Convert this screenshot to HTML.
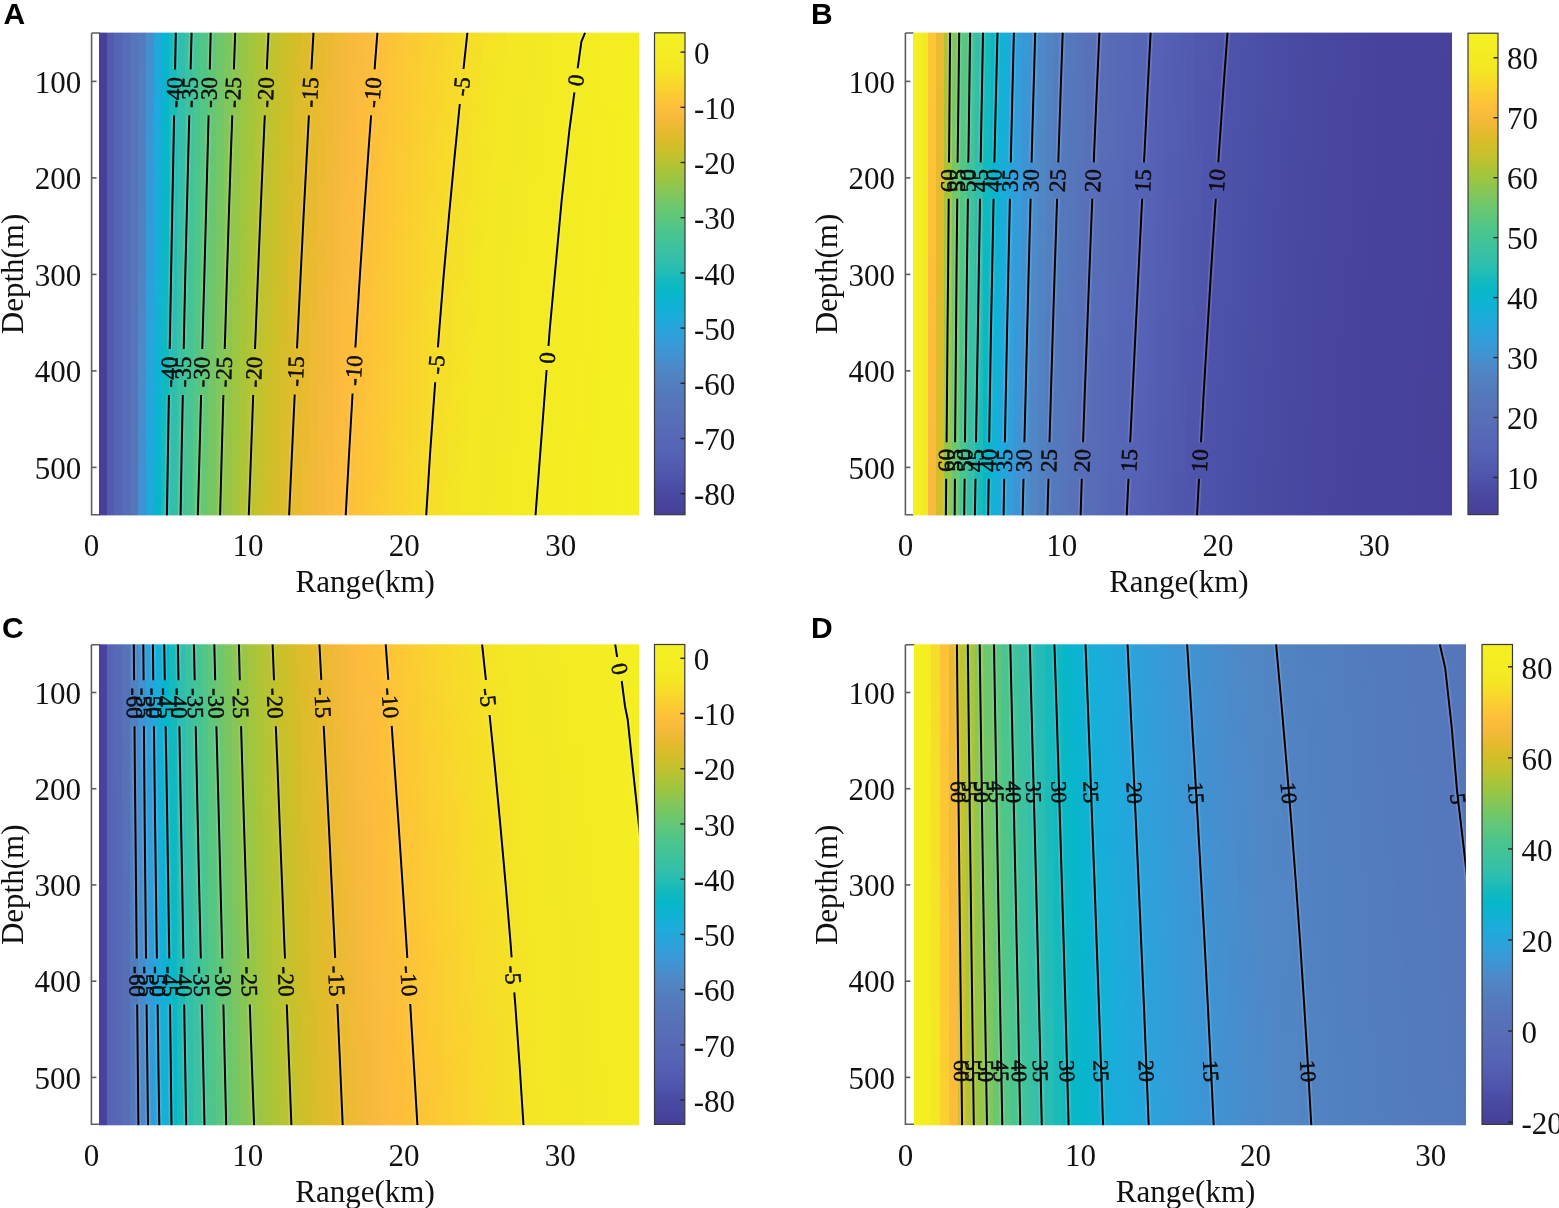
<!DOCTYPE html>
<html><head><meta charset="utf-8"><title>figure</title>
<style>
html,body{margin:0;padding:0;background:#fff;overflow:hidden}
svg{display:block}
text{font-family:"Liberation Serif","Times New Roman",serif;fill:#111}
.tl{font-size:31px}
.pl{font-family:"Liberation Sans",Arial,sans-serif;font-weight:bold;font-size:30px;fill:#000}
</style></head><body>
<svg width="1559" height="1208" viewBox="0 0 1559 1208">
<defs><linearGradient id="g1" x1="0" y1="0" x2="0" y2="1"><stop offset="0" stop-color="#527cbe"/><stop offset="0.167" stop-color="#527ec0"/><stop offset="0.333" stop-color="#5180c1"/><stop offset="0.5" stop-color="#5183c2"/><stop offset="0.667" stop-color="#4f89c8"/><stop offset="0.833" stop-color="#478dcd"/><stop offset="1" stop-color="#3f93d3"/></linearGradient>
<linearGradient id="g2" x1="0" y1="0" x2="0" y2="1"><stop offset="0" stop-color="#498dcc"/><stop offset="0.167" stop-color="#3f93d3"/><stop offset="0.333" stop-color="#3898d7"/><stop offset="0.5" stop-color="#329dd9"/><stop offset="0.667" stop-color="#2da2db"/><stop offset="0.833" stop-color="#24a5dc"/><stop offset="1" stop-color="#20a8dc"/></linearGradient>
<linearGradient id="g3" x1="0" y1="0" x2="0" y2="1"><stop offset="0" stop-color="#23a6dc"/><stop offset="0.167" stop-color="#1fa9dc"/><stop offset="0.333" stop-color="#1bacda"/><stop offset="0.5" stop-color="#16afd8"/><stop offset="0.667" stop-color="#11b2d4"/><stop offset="0.833" stop-color="#0cb4d1"/><stop offset="1" stop-color="#08b5cd"/></linearGradient>
<linearGradient id="g4" x1="0" y1="0" x2="0" y2="1"><stop offset="0" stop-color="#0bb4d0"/><stop offset="0.167" stop-color="#07b6cb"/><stop offset="0.333" stop-color="#08b7c7"/><stop offset="0.5" stop-color="#0cb9c3"/><stop offset="0.667" stop-color="#0fb9c0"/><stop offset="0.833" stop-color="#14babc"/><stop offset="1" stop-color="#19bbba"/></linearGradient>
<linearGradient id="g5" x1="0" y1="0" x2="0" y2="1"><stop offset="0" stop-color="#15bbbc"/><stop offset="0.167" stop-color="#1cbcb9"/><stop offset="0.333" stop-color="#22bcb6"/><stop offset="0.5" stop-color="#28bdb3"/><stop offset="0.667" stop-color="#2cbeb0"/><stop offset="0.833" stop-color="#30bfad"/><stop offset="1" stop-color="#33bfab"/></linearGradient>
<linearGradient id="g6" x1="0" y1="0" x2="0" y2="1"><stop offset="0" stop-color="#2fbeae"/><stop offset="0.167" stop-color="#33bfab"/><stop offset="0.333" stop-color="#36c0a7"/><stop offset="0.5" stop-color="#39c1a4"/><stop offset="0.667" stop-color="#3cc2a1"/><stop offset="0.833" stop-color="#3dc29f"/><stop offset="1" stop-color="#3fc39c"/></linearGradient>
<linearGradient id="g7" x1="0" y1="0" x2="0" y2="1"><stop offset="0" stop-color="#3cc2a1"/><stop offset="0.167" stop-color="#3ec29e"/><stop offset="0.333" stop-color="#41c39a"/><stop offset="0.5" stop-color="#43c497"/><stop offset="0.667" stop-color="#45c494"/><stop offset="0.833" stop-color="#48c591"/><stop offset="1" stop-color="#4ac58d"/></linearGradient>
<linearGradient id="g8" x1="0" y1="0" x2="0" y2="1"><stop offset="0" stop-color="#45c495"/><stop offset="0.167" stop-color="#48c591"/><stop offset="0.333" stop-color="#4bc58d"/><stop offset="0.5" stop-color="#4ec68a"/><stop offset="0.667" stop-color="#52c687"/><stop offset="0.833" stop-color="#55c683"/><stop offset="1" stop-color="#5ac77f"/></linearGradient>
<linearGradient id="g9" x1="0" y1="0" x2="0" y2="1"><stop offset="0" stop-color="#51c688"/><stop offset="0.167" stop-color="#54c684"/><stop offset="0.333" stop-color="#59c780"/><stop offset="0.5" stop-color="#5dc77d"/><stop offset="0.667" stop-color="#61c779"/><stop offset="0.833" stop-color="#65c775"/><stop offset="1" stop-color="#69c770"/></linearGradient>
<linearGradient id="g10" x1="0" y1="0" x2="0" y2="1"><stop offset="0" stop-color="#5fc77a"/><stop offset="0.167" stop-color="#63c776"/><stop offset="0.333" stop-color="#67c773"/><stop offset="0.5" stop-color="#6bc76e"/><stop offset="0.667" stop-color="#70c76a"/><stop offset="0.833" stop-color="#74c766"/><stop offset="1" stop-color="#78c662"/></linearGradient>
<linearGradient id="g11" x1="0" y1="0" x2="0" y2="1"><stop offset="0" stop-color="#6dc76c"/><stop offset="0.167" stop-color="#71c768"/><stop offset="0.333" stop-color="#76c764"/><stop offset="0.5" stop-color="#7bc660"/><stop offset="0.667" stop-color="#80c75c"/><stop offset="0.833" stop-color="#84c759"/><stop offset="1" stop-color="#88c654"/></linearGradient>
<linearGradient id="g12" x1="0" y1="0" x2="0" y2="1"><stop offset="0" stop-color="#7bc660"/><stop offset="0.167" stop-color="#80c75c"/><stop offset="0.333" stop-color="#85c757"/><stop offset="0.5" stop-color="#8ac653"/><stop offset="0.667" stop-color="#8ec74f"/><stop offset="0.833" stop-color="#92c64b"/><stop offset="1" stop-color="#96c647"/></linearGradient>
<linearGradient id="g13" x1="0" y1="0" x2="0" y2="1"><stop offset="0" stop-color="#89c654"/><stop offset="0.167" stop-color="#8ec74f"/><stop offset="0.333" stop-color="#93c64a"/><stop offset="0.5" stop-color="#97c646"/><stop offset="0.667" stop-color="#9cc642"/><stop offset="0.833" stop-color="#a0c63f"/><stop offset="1" stop-color="#a4c53c"/></linearGradient>
<linearGradient id="g14" x1="0" y1="0" x2="0" y2="1"><stop offset="0" stop-color="#95c647"/><stop offset="0.167" stop-color="#9ac643"/><stop offset="0.333" stop-color="#9fc63f"/><stop offset="0.5" stop-color="#a3c53c"/><stop offset="0.667" stop-color="#a8c539"/><stop offset="0.833" stop-color="#acc437"/><stop offset="1" stop-color="#b1c435"/></linearGradient>
<linearGradient id="g15" x1="0" y1="0" x2="0" y2="1"><stop offset="0" stop-color="#a1c53e"/><stop offset="0.167" stop-color="#a5c53a"/><stop offset="0.333" stop-color="#aac538"/><stop offset="0.5" stop-color="#afc435"/><stop offset="0.667" stop-color="#b3c434"/><stop offset="0.833" stop-color="#b8c332"/><stop offset="1" stop-color="#bcc330"/></linearGradient>
<linearGradient id="g16" x1="0" y1="0" x2="0" y2="1"><stop offset="0" stop-color="#acc437"/><stop offset="0.167" stop-color="#b1c435"/><stop offset="0.333" stop-color="#b5c333"/><stop offset="0.5" stop-color="#bac331"/><stop offset="0.667" stop-color="#bec32f"/><stop offset="0.833" stop-color="#c2c22d"/><stop offset="1" stop-color="#c6c12b"/></linearGradient>
<linearGradient id="g17" x1="0" y1="0" x2="0" y2="1"><stop offset="0" stop-color="#b6c332"/><stop offset="0.167" stop-color="#bbc330"/><stop offset="0.333" stop-color="#c0c22e"/><stop offset="0.5" stop-color="#c3c22c"/><stop offset="0.667" stop-color="#c8c12a"/><stop offset="0.833" stop-color="#cbc029"/><stop offset="1" stop-color="#cfbf29"/></linearGradient>
<linearGradient id="g18" x1="0" y1="0" x2="0" y2="1"><stop offset="0" stop-color="#c0c22e"/><stop offset="0.167" stop-color="#c4c12c"/><stop offset="0.333" stop-color="#c8c12a"/><stop offset="0.5" stop-color="#ccc029"/><stop offset="0.667" stop-color="#d0bf29"/><stop offset="0.833" stop-color="#d3be28"/><stop offset="1" stop-color="#d6bd28"/></linearGradient>
<linearGradient id="g19" x1="0" y1="0" x2="0" y2="1"><stop offset="0" stop-color="#c9c02a"/><stop offset="0.167" stop-color="#ccc029"/><stop offset="0.333" stop-color="#d0bf29"/><stop offset="0.5" stop-color="#d3be28"/><stop offset="0.667" stop-color="#d7bd28"/><stop offset="0.833" stop-color="#dabd29"/><stop offset="1" stop-color="#ddbc29"/></linearGradient>
<linearGradient id="g20" x1="0" y1="0" x2="0" y2="1"><stop offset="0" stop-color="#d0bf29"/><stop offset="0.167" stop-color="#d3be28"/><stop offset="0.333" stop-color="#d7bd28"/><stop offset="0.5" stop-color="#dabd29"/><stop offset="0.667" stop-color="#ddbc2a"/><stop offset="0.833" stop-color="#e0bc2a"/><stop offset="1" stop-color="#e3bb2c"/></linearGradient>
<linearGradient id="g21" x1="0" y1="0" x2="0" y2="1"><stop offset="0" stop-color="#d6bd28"/><stop offset="0.167" stop-color="#dabd29"/><stop offset="0.333" stop-color="#ddbc2a"/><stop offset="0.5" stop-color="#e1bb2a"/><stop offset="0.667" stop-color="#e3bb2c"/><stop offset="0.833" stop-color="#e6bb2d"/><stop offset="1" stop-color="#e9ba30"/></linearGradient>
<linearGradient id="g22" x1="0" y1="0" x2="0" y2="1"><stop offset="0" stop-color="#ddbc29"/><stop offset="0.167" stop-color="#e0bc2a"/><stop offset="0.333" stop-color="#e3bb2c"/><stop offset="0.5" stop-color="#e6bb2d"/><stop offset="0.667" stop-color="#e9ba30"/><stop offset="0.833" stop-color="#ebba32"/><stop offset="1" stop-color="#eeba34"/></linearGradient>
<linearGradient id="g23" x1="0" y1="0" x2="0" y2="1"><stop offset="0" stop-color="#e2bb2b"/><stop offset="0.167" stop-color="#e6bb2d"/><stop offset="0.333" stop-color="#e8ba2f"/><stop offset="0.5" stop-color="#ebba31"/><stop offset="0.667" stop-color="#eeba34"/><stop offset="0.833" stop-color="#f0b936"/><stop offset="1" stop-color="#f2b938"/></linearGradient>
<linearGradient id="g24" x1="0" y1="0" x2="0" y2="1"><stop offset="0" stop-color="#e8ba2f"/><stop offset="0.167" stop-color="#eaba31"/><stop offset="0.333" stop-color="#edba33"/><stop offset="0.5" stop-color="#f0b936"/><stop offset="0.667" stop-color="#f2b938"/><stop offset="0.833" stop-color="#f5ba3a"/><stop offset="1" stop-color="#f6b93c"/></linearGradient>
<linearGradient id="g25" x1="0" y1="0" x2="0" y2="1"><stop offset="0" stop-color="#ecba32"/><stop offset="0.167" stop-color="#efb935"/><stop offset="0.333" stop-color="#f1b937"/><stop offset="0.5" stop-color="#f4b93a"/><stop offset="0.667" stop-color="#f6b93c"/><stop offset="0.833" stop-color="#f8ba3d"/><stop offset="1" stop-color="#faba3e"/></linearGradient>
<linearGradient id="g26" x1="0" y1="0" x2="0" y2="1"><stop offset="0" stop-color="#f0b936"/><stop offset="0.167" stop-color="#f3b939"/><stop offset="0.333" stop-color="#f5b93b"/><stop offset="0.5" stop-color="#f8ba3d"/><stop offset="0.667" stop-color="#faba3e"/><stop offset="0.833" stop-color="#fbbb3d"/><stop offset="1" stop-color="#fcbc3d"/></linearGradient>
<linearGradient id="g27" x1="0" y1="0" x2="0" y2="1"><stop offset="0" stop-color="#f4b93a"/><stop offset="0.167" stop-color="#f7b93c"/><stop offset="0.333" stop-color="#f9ba3d"/><stop offset="0.5" stop-color="#fbbb3e"/><stop offset="0.667" stop-color="#fcbc3d"/><stop offset="0.833" stop-color="#fdbd3c"/><stop offset="1" stop-color="#fdbe3b"/></linearGradient>
<linearGradient id="g28" x1="0" y1="0" x2="0" y2="1"><stop offset="0" stop-color="#f8ba3d"/><stop offset="0.167" stop-color="#faba3e"/><stop offset="0.333" stop-color="#fbbb3d"/><stop offset="0.5" stop-color="#fdbc3d"/><stop offset="0.667" stop-color="#fdbe3b"/><stop offset="0.833" stop-color="#fdbf3a"/><stop offset="1" stop-color="#fdc139"/></linearGradient>
<linearGradient id="g29" x1="0" y1="0" x2="0" y2="1"><stop offset="0" stop-color="#fabb3e"/><stop offset="0.167" stop-color="#fcbc3d"/><stop offset="0.333" stop-color="#fdbd3c"/><stop offset="0.5" stop-color="#fdbf3a"/><stop offset="0.667" stop-color="#fdc039"/><stop offset="0.833" stop-color="#fdc238"/><stop offset="1" stop-color="#fdc437"/></linearGradient>
<linearGradient id="g30" x1="0" y1="0" x2="0" y2="1"><stop offset="0" stop-color="#fcbc3d"/><stop offset="0.167" stop-color="#fdbe3b"/><stop offset="0.333" stop-color="#fdbf3a"/><stop offset="0.5" stop-color="#fdc139"/><stop offset="0.667" stop-color="#fdc337"/><stop offset="0.833" stop-color="#fcc536"/><stop offset="1" stop-color="#fcc735"/></linearGradient>
<linearGradient id="g31" x1="0" y1="0" x2="0" y2="1"><stop offset="0" stop-color="#fdbe3b"/><stop offset="0.167" stop-color="#fdc03a"/><stop offset="0.333" stop-color="#fdc238"/><stop offset="0.5" stop-color="#fdc437"/><stop offset="0.667" stop-color="#fcc635"/><stop offset="0.833" stop-color="#fcc834"/><stop offset="1" stop-color="#fcca33"/></linearGradient>
<linearGradient id="g32" x1="0" y1="0" x2="0" y2="1"><stop offset="0" stop-color="#fdc039"/><stop offset="0.167" stop-color="#fdc338"/><stop offset="0.333" stop-color="#fdc536"/><stop offset="0.5" stop-color="#fcc735"/><stop offset="0.667" stop-color="#fcc933"/><stop offset="0.833" stop-color="#fbcb32"/><stop offset="1" stop-color="#fbcd31"/></linearGradient>
<linearGradient id="g33" x1="0" y1="0" x2="0" y2="1"><stop offset="0" stop-color="#fdc337"/><stop offset="0.167" stop-color="#fcc536"/><stop offset="0.333" stop-color="#fcc834"/><stop offset="0.5" stop-color="#fcca33"/><stop offset="0.667" stop-color="#fbcc32"/><stop offset="0.833" stop-color="#fbce31"/><stop offset="1" stop-color="#fad030"/></linearGradient>
<linearGradient id="g34" x1="0" y1="0" x2="0" y2="1"><stop offset="0" stop-color="#fcc636"/><stop offset="0.167" stop-color="#fcc834"/><stop offset="0.333" stop-color="#fccb32"/><stop offset="0.5" stop-color="#fbcd31"/><stop offset="0.667" stop-color="#fbcf30"/><stop offset="0.833" stop-color="#fad12f"/><stop offset="1" stop-color="#f9d32e"/></linearGradient>
<linearGradient id="g35" x1="0" y1="0" x2="0" y2="1"><stop offset="0" stop-color="#fcc934"/><stop offset="0.167" stop-color="#fbcb32"/><stop offset="0.333" stop-color="#fbcd31"/><stop offset="0.5" stop-color="#fad030"/><stop offset="0.667" stop-color="#fad22f"/><stop offset="0.833" stop-color="#f9d42e"/><stop offset="1" stop-color="#f9d62c"/></linearGradient>
<linearGradient id="g36" x1="0" y1="0" x2="0" y2="1"><stop offset="0" stop-color="#fbcb32"/><stop offset="0.167" stop-color="#fbce31"/><stop offset="0.333" stop-color="#fad02f"/><stop offset="0.5" stop-color="#fad32e"/><stop offset="0.667" stop-color="#f9d52d"/><stop offset="0.833" stop-color="#f8d72c"/><stop offset="1" stop-color="#f8d92a"/></linearGradient>
<linearGradient id="g37" x1="0" y1="0" x2="0" y2="1"><stop offset="0" stop-color="#fbce31"/><stop offset="0.167" stop-color="#fad12f"/><stop offset="0.333" stop-color="#f9d32e"/><stop offset="0.5" stop-color="#f9d62d"/><stop offset="0.667" stop-color="#f8d82b"/><stop offset="0.833" stop-color="#f8da2a"/><stop offset="1" stop-color="#f7dc29"/></linearGradient>
<linearGradient id="g38" x1="0" y1="0" x2="0" y2="1"><stop offset="0" stop-color="#fad12f"/><stop offset="0.167" stop-color="#f9d32e"/><stop offset="0.333" stop-color="#f9d62c"/><stop offset="0.5" stop-color="#f8d92b"/><stop offset="0.667" stop-color="#f7db29"/><stop offset="0.833" stop-color="#f6dd29"/><stop offset="1" stop-color="#f6de28"/></linearGradient>
<linearGradient id="g39" x1="0" y1="0" x2="0" y2="1"><stop offset="0" stop-color="#f9d32e"/><stop offset="0.167" stop-color="#f9d62c"/><stop offset="0.333" stop-color="#f8d92b"/><stop offset="0.5" stop-color="#f7db29"/><stop offset="0.667" stop-color="#f6dd29"/><stop offset="0.833" stop-color="#f6df27"/><stop offset="1" stop-color="#f5e027"/></linearGradient>
<linearGradient id="g40" x1="0" y1="0" x2="0" y2="1"><stop offset="0" stop-color="#f9d62c"/><stop offset="0.167" stop-color="#f8d92b"/><stop offset="0.333" stop-color="#f7db29"/><stop offset="0.5" stop-color="#f6de28"/><stop offset="0.667" stop-color="#f5df27"/><stop offset="0.833" stop-color="#f5e126"/><stop offset="1" stop-color="#f5e325"/></linearGradient>
<linearGradient id="g41" x1="0" y1="0" x2="0" y2="1"><stop offset="0" stop-color="#f8d92b"/><stop offset="0.167" stop-color="#f7db29"/><stop offset="0.333" stop-color="#f6de28"/><stop offset="0.5" stop-color="#f5e027"/><stop offset="0.667" stop-color="#f5e226"/><stop offset="0.833" stop-color="#f4e325"/><stop offset="1" stop-color="#f4e524"/></linearGradient>
<linearGradient id="g42" x1="0" y1="0" x2="0" y2="1"><stop offset="0" stop-color="#f7db29"/><stop offset="0.167" stop-color="#f6de28"/><stop offset="0.333" stop-color="#f5e027"/><stop offset="0.5" stop-color="#f5e226"/><stop offset="0.667" stop-color="#f4e425"/><stop offset="0.833" stop-color="#f4e524"/><stop offset="1" stop-color="#f4e723"/></linearGradient>
<linearGradient id="g43" x1="0" y1="0" x2="0" y2="1"><stop offset="0" stop-color="#f6dd28"/><stop offset="0.167" stop-color="#f5e027"/><stop offset="0.333" stop-color="#f5e226"/><stop offset="0.5" stop-color="#f4e425"/><stop offset="0.667" stop-color="#f4e623"/><stop offset="0.833" stop-color="#f4e723"/><stop offset="1" stop-color="#f4e823"/></linearGradient>
<linearGradient id="g44" x1="0" y1="0" x2="0" y2="1"><stop offset="0" stop-color="#f5df27"/><stop offset="0.167" stop-color="#f5e226"/><stop offset="0.333" stop-color="#f4e425"/><stop offset="0.5" stop-color="#f4e623"/><stop offset="0.667" stop-color="#f4e723"/><stop offset="0.833" stop-color="#f4e823"/><stop offset="1" stop-color="#f3e923"/></linearGradient>
<linearGradient id="g45" x1="0" y1="0" x2="0" y2="1"><stop offset="0" stop-color="#f5e226"/><stop offset="0.167" stop-color="#f4e425"/><stop offset="0.333" stop-color="#f4e623"/><stop offset="0.5" stop-color="#f4e723"/><stop offset="0.667" stop-color="#f3e823"/><stop offset="0.833" stop-color="#f3e923"/><stop offset="1" stop-color="#f3e923"/></linearGradient>
<linearGradient id="g46" x1="0" y1="0" x2="0" y2="1"><stop offset="0" stop-color="#f4e425"/><stop offset="0.167" stop-color="#f4e623"/><stop offset="0.333" stop-color="#f4e723"/><stop offset="0.5" stop-color="#f3e823"/><stop offset="0.667" stop-color="#f3e923"/><stop offset="0.833" stop-color="#f3e923"/><stop offset="1" stop-color="#f3ea23"/></linearGradient>
<linearGradient id="g47" x1="0" y1="0" x2="0" y2="1"><stop offset="0" stop-color="#f4e524"/><stop offset="0.167" stop-color="#f4e723"/><stop offset="0.333" stop-color="#f3e923"/><stop offset="0.5" stop-color="#f3e923"/><stop offset="0.667" stop-color="#f3e923"/><stop offset="0.833" stop-color="#f4ea23"/><stop offset="1" stop-color="#f4ea23"/></linearGradient>
<linearGradient id="g48" x1="0" y1="0" x2="0" y2="1"><stop offset="0" stop-color="#f4e723"/><stop offset="0.167" stop-color="#f3e823"/><stop offset="0.333" stop-color="#f3e923"/><stop offset="0.5" stop-color="#f3ea23"/><stop offset="0.667" stop-color="#f4ea23"/><stop offset="0.833" stop-color="#f4ea23"/><stop offset="1" stop-color="#f4eb22"/></linearGradient>
<linearGradient id="g49" x1="0" y1="0" x2="0" y2="1"><stop offset="0" stop-color="#f4e823"/><stop offset="0.167" stop-color="#f3e923"/><stop offset="0.333" stop-color="#f3ea23"/><stop offset="0.5" stop-color="#f4ea23"/><stop offset="0.667" stop-color="#f4ea23"/><stop offset="0.833" stop-color="#f4eb22"/><stop offset="1" stop-color="#f4eb22"/></linearGradient>
<linearGradient id="g50" x1="0" y1="0" x2="0" y2="1"><stop offset="0" stop-color="#f3e923"/><stop offset="0.167" stop-color="#f3e923"/><stop offset="0.333" stop-color="#f4ea23"/><stop offset="0.5" stop-color="#f4eb23"/><stop offset="0.667" stop-color="#f4eb22"/><stop offset="0.833" stop-color="#f4eb22"/><stop offset="1" stop-color="#f4ec22"/></linearGradient>
<linearGradient id="g51" x1="0" y1="0" x2="0" y2="1"><stop offset="0" stop-color="#f3e923"/><stop offset="0.167" stop-color="#f4ea23"/><stop offset="0.333" stop-color="#f4eb23"/><stop offset="0.5" stop-color="#f4eb22"/><stop offset="0.667" stop-color="#f4eb22"/><stop offset="0.833" stop-color="#f4ec22"/><stop offset="1" stop-color="#f4ec22"/></linearGradient>
<linearGradient id="g52" x1="0" y1="0" x2="0" y2="1"><stop offset="0" stop-color="#f3ea23"/><stop offset="0.167" stop-color="#f4ea23"/><stop offset="0.333" stop-color="#f4eb22"/><stop offset="0.5" stop-color="#f4eb22"/><stop offset="0.667" stop-color="#f4ec22"/><stop offset="0.833" stop-color="#f4ec22"/><stop offset="1" stop-color="#f4ec22"/></linearGradient>
<linearGradient id="g53" x1="0" y1="0" x2="0" y2="1"><stop offset="0" stop-color="#f4ea23"/><stop offset="0.167" stop-color="#f4eb22"/><stop offset="0.333" stop-color="#f4eb22"/><stop offset="0.5" stop-color="#f4ec22"/><stop offset="0.667" stop-color="#f4ec22"/><stop offset="0.833" stop-color="#f4ec22"/><stop offset="1" stop-color="#f4ed22"/></linearGradient>
<linearGradient id="g54" x1="0" y1="0" x2="0" y2="1"><stop offset="0" stop-color="#f4eb22"/><stop offset="0.167" stop-color="#f4eb22"/><stop offset="0.333" stop-color="#f4ec22"/><stop offset="0.5" stop-color="#f4ec22"/><stop offset="0.667" stop-color="#f4ec22"/><stop offset="0.833" stop-color="#f4ed22"/><stop offset="1" stop-color="#f4ed22"/></linearGradient>
<linearGradient id="g55" x1="0" y1="0" x2="0" y2="1"><stop offset="0" stop-color="#f4eb22"/><stop offset="0.167" stop-color="#f4ec22"/><stop offset="0.333" stop-color="#f4ec22"/><stop offset="0.5" stop-color="#f4ec22"/><stop offset="0.667" stop-color="#f4ed22"/><stop offset="0.833" stop-color="#f4ed22"/><stop offset="1" stop-color="#f4ed22"/></linearGradient>
<linearGradient id="g56" x1="0" y1="0" x2="0" y2="1"><stop offset="0" stop-color="#f4eb22"/><stop offset="0.167" stop-color="#f4ec22"/><stop offset="0.333" stop-color="#f4ec22"/><stop offset="0.5" stop-color="#f4ed22"/><stop offset="0.667" stop-color="#f4ed22"/><stop offset="0.833" stop-color="#f4ed22"/><stop offset="1" stop-color="#f4ee22"/></linearGradient>
<linearGradient id="g57" x1="0" y1="0" x2="0" y2="1"><stop offset="0" stop-color="#f4ec22"/><stop offset="0.167" stop-color="#f4ec22"/><stop offset="0.333" stop-color="#f4ed22"/><stop offset="0.5" stop-color="#f4ed22"/><stop offset="0.667" stop-color="#f4ed22"/><stop offset="0.833" stop-color="#f4ee21"/><stop offset="1" stop-color="#f4ee21"/></linearGradient>
<linearGradient id="g58" x1="0" y1="0" x2="0" y2="1"><stop offset="0" stop-color="#f4ec22"/><stop offset="0.167" stop-color="#f4ed22"/><stop offset="0.333" stop-color="#f4ed22"/><stop offset="0.5" stop-color="#f4ee22"/><stop offset="0.667" stop-color="#f4ee21"/><stop offset="0.833" stop-color="#f4ee21"/><stop offset="1" stop-color="#f4ee21"/></linearGradient>
<linearGradient id="g59" x1="0" y1="0" x2="0" y2="1"><stop offset="0" stop-color="#f4ec22"/><stop offset="0.167" stop-color="#f4ed22"/><stop offset="0.333" stop-color="#f4ee22"/><stop offset="0.5" stop-color="#f4ee21"/><stop offset="0.667" stop-color="#f4ee21"/><stop offset="0.833" stop-color="#f4ee21"/><stop offset="1" stop-color="#f4ef21"/></linearGradient>
<linearGradient id="g60" x1="0" y1="0" x2="0" y2="1"><stop offset="0" stop-color="#f4ed22"/><stop offset="0.167" stop-color="#f4ed22"/><stop offset="0.333" stop-color="#f4ee21"/><stop offset="0.5" stop-color="#f4ee21"/><stop offset="0.667" stop-color="#f4ee21"/><stop offset="0.833" stop-color="#f4ef21"/><stop offset="1" stop-color="#f4ef21"/></linearGradient>
<linearGradient id="g61" x1="0" y1="0" x2="0" y2="1"><stop offset="0" stop-color="#f4ed22"/><stop offset="0.167" stop-color="#f4ee21"/><stop offset="0.333" stop-color="#f4ee21"/><stop offset="0.5" stop-color="#f4ee21"/><stop offset="0.667" stop-color="#f4ef21"/><stop offset="0.833" stop-color="#f4ef21"/><stop offset="1" stop-color="#f4ef21"/></linearGradient>
<linearGradient id="g62" x1="0" y1="0" x2="0" y2="1"><stop offset="0" stop-color="#f4ee22"/><stop offset="0.167" stop-color="#f4ee21"/><stop offset="0.333" stop-color="#f4ee21"/><stop offset="0.5" stop-color="#f4ef21"/><stop offset="0.667" stop-color="#f4ef21"/><stop offset="0.833" stop-color="#f4ef21"/><stop offset="1" stop-color="#f4f021"/></linearGradient>
<linearGradient id="g63" x1="0" y1="0" x2="0" y2="1"><stop offset="0" stop-color="#f4ee21"/><stop offset="0.167" stop-color="#f4ee21"/><stop offset="0.333" stop-color="#f4ef21"/><stop offset="0.5" stop-color="#f4ef21"/><stop offset="0.667" stop-color="#f4ef21"/><stop offset="0.833" stop-color="#f4f020"/><stop offset="1" stop-color="#f4f020"/></linearGradient>
<linearGradient id="g64" x1="0" y1="0" x2="0" y2="1"><stop offset="0" stop-color="#f4ee21"/><stop offset="0.167" stop-color="#f4ef21"/><stop offset="0.333" stop-color="#f4ef21"/><stop offset="0.5" stop-color="#f4ef21"/><stop offset="0.667" stop-color="#f4f020"/><stop offset="0.833" stop-color="#f4f020"/><stop offset="1" stop-color="#f4f020"/></linearGradient>
<clipPath id="clip65"><rect x="98.75" y="32.60" width="540.05" height="482.80"/></clipPath>
<linearGradient id="cb66" x1="0" y1="0" x2="0" y2="1"><stop offset="0.0000" stop-color="#f4f020"/><stop offset="0.0256" stop-color="#f4ee22"/><stop offset="0.0513" stop-color="#f4eb22"/><stop offset="0.0769" stop-color="#f4e623"/><stop offset="0.1026" stop-color="#f8da2a"/><stop offset="0.1282" stop-color="#fbcb32"/><stop offset="0.1538" stop-color="#fdbf3a"/><stop offset="0.1795" stop-color="#f5b93a"/><stop offset="0.2051" stop-color="#e6ba2e"/><stop offset="0.2308" stop-color="#d5be28"/><stop offset="0.2564" stop-color="#c3c22d"/><stop offset="0.2821" stop-color="#adc436"/><stop offset="0.3077" stop-color="#98c645"/><stop offset="0.3333" stop-color="#83c65a"/><stop offset="0.3590" stop-color="#6ec76c"/><stop offset="0.3846" stop-color="#5cc77d"/><stop offset="0.4103" stop-color="#4bc58d"/><stop offset="0.4359" stop-color="#41c39a"/><stop offset="0.4615" stop-color="#37c0a6"/><stop offset="0.4872" stop-color="#29beb2"/><stop offset="0.5128" stop-color="#13babd"/><stop offset="0.5385" stop-color="#07b7c9"/><stop offset="0.5641" stop-color="#0fb2d3"/><stop offset="0.5897" stop-color="#1cacdb"/><stop offset="0.6154" stop-color="#27a4db"/><stop offset="0.6410" stop-color="#359cd9"/><stop offset="0.6667" stop-color="#4093d3"/><stop offset="0.6923" stop-color="#4d89c9"/><stop offset="0.7179" stop-color="#5281c1"/><stop offset="0.7436" stop-color="#537abd"/><stop offset="0.7692" stop-color="#5774ba"/><stop offset="0.7949" stop-color="#5770b8"/><stop offset="0.8205" stop-color="#576bb7"/><stop offset="0.8462" stop-color="#5666b6"/><stop offset="0.8718" stop-color="#5562b5"/><stop offset="0.8974" stop-color="#525bb0"/><stop offset="0.9231" stop-color="#4e54ab"/><stop offset="0.9487" stop-color="#4a4ba4"/><stop offset="0.9744" stop-color="#48459e"/><stop offset="1.0000" stop-color="#473f99"/></linearGradient>
<linearGradient id="g67" x1="0" y1="0" x2="0" y2="1"><stop offset="0" stop-color="#fcc834"/><stop offset="0.167" stop-color="#fdc536"/><stop offset="0.333" stop-color="#fdc238"/><stop offset="0.5" stop-color="#fdbf3a"/><stop offset="0.667" stop-color="#fdbd3c"/><stop offset="0.833" stop-color="#fbbb3d"/><stop offset="1" stop-color="#f8ba3d"/></linearGradient>
<linearGradient id="g68" x1="0" y1="0" x2="0" y2="1"><stop offset="0" stop-color="#ecba32"/><stop offset="0.167" stop-color="#e9ba30"/><stop offset="0.333" stop-color="#e6bb2d"/><stop offset="0.5" stop-color="#e2bb2b"/><stop offset="0.667" stop-color="#debc2a"/><stop offset="0.833" stop-color="#d9bd29"/><stop offset="1" stop-color="#d3be28"/></linearGradient>
<linearGradient id="g69" x1="0" y1="0" x2="0" y2="1"><stop offset="0" stop-color="#b2c435"/><stop offset="0.167" stop-color="#abc437"/><stop offset="0.333" stop-color="#a5c53b"/><stop offset="0.5" stop-color="#9fc63f"/><stop offset="0.667" stop-color="#9ac643"/><stop offset="0.833" stop-color="#95c648"/><stop offset="1" stop-color="#90c74c"/></linearGradient>
<linearGradient id="g70" x1="0" y1="0" x2="0" y2="1"><stop offset="0" stop-color="#7cc75f"/><stop offset="0.167" stop-color="#77c663"/><stop offset="0.333" stop-color="#73c767"/><stop offset="0.5" stop-color="#6fc76a"/><stop offset="0.667" stop-color="#6cc76e"/><stop offset="0.833" stop-color="#69c771"/><stop offset="1" stop-color="#66c774"/></linearGradient>
<linearGradient id="g71" x1="0" y1="0" x2="0" y2="1"><stop offset="0" stop-color="#59c780"/><stop offset="0.167" stop-color="#55c684"/><stop offset="0.333" stop-color="#51c687"/><stop offset="0.5" stop-color="#4ec68a"/><stop offset="0.667" stop-color="#4bc58d"/><stop offset="0.833" stop-color="#49c58f"/><stop offset="1" stop-color="#46c592"/></linearGradient>
<linearGradient id="g72" x1="0" y1="0" x2="0" y2="1"><stop offset="0" stop-color="#42c498"/><stop offset="0.167" stop-color="#40c39b"/><stop offset="0.333" stop-color="#3ec29e"/><stop offset="0.5" stop-color="#3cc2a1"/><stop offset="0.667" stop-color="#3ac1a4"/><stop offset="0.833" stop-color="#38c0a6"/><stop offset="1" stop-color="#35c0a9"/></linearGradient>
<linearGradient id="g73" x1="0" y1="0" x2="0" y2="1"><stop offset="0" stop-color="#34bfaa"/><stop offset="0.167" stop-color="#31bfad"/><stop offset="0.333" stop-color="#2dbeaf"/><stop offset="0.5" stop-color="#28bdb2"/><stop offset="0.667" stop-color="#22bcb5"/><stop offset="0.833" stop-color="#1dbcb8"/><stop offset="1" stop-color="#17bbbb"/></linearGradient>
<linearGradient id="g74" x1="0" y1="0" x2="0" y2="1"><stop offset="0" stop-color="#19bbba"/><stop offset="0.167" stop-color="#14babd"/><stop offset="0.333" stop-color="#0fb9c0"/><stop offset="0.5" stop-color="#0bb9c3"/><stop offset="0.667" stop-color="#08b8c6"/><stop offset="0.833" stop-color="#07b7c9"/><stop offset="1" stop-color="#07b6cb"/></linearGradient>
<linearGradient id="g75" x1="0" y1="0" x2="0" y2="1"><stop offset="0" stop-color="#07b7c9"/><stop offset="0.167" stop-color="#08b6cc"/><stop offset="0.333" stop-color="#0ab5cf"/><stop offset="0.5" stop-color="#0eb3d2"/><stop offset="0.667" stop-color="#11b2d4"/><stop offset="0.833" stop-color="#13b1d6"/><stop offset="1" stop-color="#16afd8"/></linearGradient>
<linearGradient id="g76" x1="0" y1="0" x2="0" y2="1"><stop offset="0" stop-color="#12b1d5"/><stop offset="0.167" stop-color="#16afd8"/><stop offset="0.333" stop-color="#19add9"/><stop offset="0.5" stop-color="#1cabdb"/><stop offset="0.667" stop-color="#1faadb"/><stop offset="0.833" stop-color="#20a8dc"/><stop offset="1" stop-color="#22a7dc"/></linearGradient>
<linearGradient id="g77" x1="0" y1="0" x2="0" y2="1"><stop offset="0" stop-color="#1fa9dc"/><stop offset="0.167" stop-color="#21a7dc"/><stop offset="0.333" stop-color="#25a5dc"/><stop offset="0.5" stop-color="#2aa3db"/><stop offset="0.667" stop-color="#2ea1db"/><stop offset="0.833" stop-color="#309fda"/><stop offset="1" stop-color="#339dd9"/></linearGradient>
<linearGradient id="g78" x1="0" y1="0" x2="0" y2="1"><stop offset="0" stop-color="#2ea0da"/><stop offset="0.167" stop-color="#319eda"/><stop offset="0.333" stop-color="#349cd9"/><stop offset="0.5" stop-color="#369ad8"/><stop offset="0.667" stop-color="#3998d6"/><stop offset="0.833" stop-color="#3b96d5"/><stop offset="1" stop-color="#3d94d4"/></linearGradient>
<linearGradient id="g79" x1="0" y1="0" x2="0" y2="1"><stop offset="0" stop-color="#3898d7"/><stop offset="0.167" stop-color="#3b96d5"/><stop offset="0.333" stop-color="#3d94d4"/><stop offset="0.5" stop-color="#4093d2"/><stop offset="0.667" stop-color="#4390d0"/><stop offset="0.833" stop-color="#478ece"/><stop offset="1" stop-color="#4a8ccc"/></linearGradient>
<linearGradient id="g80" x1="0" y1="0" x2="0" y2="1"><stop offset="0" stop-color="#4291d0"/><stop offset="0.167" stop-color="#468fcf"/><stop offset="0.333" stop-color="#498dcc"/><stop offset="0.5" stop-color="#4b8aca"/><stop offset="0.667" stop-color="#4e89c8"/><stop offset="0.833" stop-color="#5086c5"/><stop offset="1" stop-color="#5185c4"/></linearGradient>
<linearGradient id="g81" x1="0" y1="0" x2="0" y2="1"><stop offset="0" stop-color="#4b89c9"/><stop offset="0.167" stop-color="#4f88c7"/><stop offset="0.333" stop-color="#5086c4"/><stop offset="0.5" stop-color="#5184c3"/><stop offset="0.667" stop-color="#5182c2"/><stop offset="0.833" stop-color="#5281c1"/><stop offset="1" stop-color="#5180c0"/></linearGradient>
<linearGradient id="g82" x1="0" y1="0" x2="0" y2="1"><stop offset="0" stop-color="#5184c3"/><stop offset="0.167" stop-color="#5182c2"/><stop offset="0.333" stop-color="#5181c1"/><stop offset="0.5" stop-color="#517fc0"/><stop offset="0.667" stop-color="#527dbf"/><stop offset="0.833" stop-color="#527cbe"/><stop offset="1" stop-color="#537abd"/></linearGradient>
<linearGradient id="g83" x1="0" y1="0" x2="0" y2="1"><stop offset="0" stop-color="#517fc0"/><stop offset="0.167" stop-color="#527dbf"/><stop offset="0.333" stop-color="#527cbe"/><stop offset="0.5" stop-color="#537abc"/><stop offset="0.667" stop-color="#5479bc"/><stop offset="0.833" stop-color="#5577bb"/><stop offset="1" stop-color="#5577bb"/></linearGradient>
<linearGradient id="g84" x1="0" y1="0" x2="0" y2="1"><stop offset="0" stop-color="#537abd"/><stop offset="0.167" stop-color="#5379bc"/><stop offset="0.333" stop-color="#5578bb"/><stop offset="0.5" stop-color="#5577bb"/><stop offset="0.667" stop-color="#5676bb"/><stop offset="0.833" stop-color="#5675bb"/><stop offset="1" stop-color="#5774ba"/></linearGradient>
<linearGradient id="g85" x1="0" y1="0" x2="0" y2="1"><stop offset="0" stop-color="#5577bb"/><stop offset="0.167" stop-color="#5676bb"/><stop offset="0.333" stop-color="#5675bb"/><stop offset="0.5" stop-color="#5774ba"/><stop offset="0.667" stop-color="#5874ba"/><stop offset="0.833" stop-color="#5772ba"/><stop offset="1" stop-color="#5772b9"/></linearGradient>
<linearGradient id="g86" x1="0" y1="0" x2="0" y2="1"><stop offset="0" stop-color="#5774ba"/><stop offset="0.167" stop-color="#5874ba"/><stop offset="0.333" stop-color="#5772ba"/><stop offset="0.5" stop-color="#5772b9"/><stop offset="0.667" stop-color="#5771b9"/><stop offset="0.833" stop-color="#5770b8"/><stop offset="1" stop-color="#576fb9"/></linearGradient>
<linearGradient id="g87" x1="0" y1="0" x2="0" y2="1"><stop offset="0" stop-color="#5772ba"/><stop offset="0.167" stop-color="#5771b9"/><stop offset="0.333" stop-color="#5870b9"/><stop offset="0.5" stop-color="#576fb8"/><stop offset="0.667" stop-color="#576eb9"/><stop offset="0.833" stop-color="#586db8"/><stop offset="1" stop-color="#576db8"/></linearGradient>
<linearGradient id="g88" x1="0" y1="0" x2="0" y2="1"><stop offset="0" stop-color="#5870b8"/><stop offset="0.167" stop-color="#576fb9"/><stop offset="0.333" stop-color="#586eb8"/><stop offset="0.5" stop-color="#576db8"/><stop offset="0.667" stop-color="#576cb8"/><stop offset="0.833" stop-color="#576cb8"/><stop offset="1" stop-color="#576bb7"/></linearGradient>
<linearGradient id="g89" x1="0" y1="0" x2="0" y2="1"><stop offset="0" stop-color="#586eb8"/><stop offset="0.167" stop-color="#576db8"/><stop offset="0.333" stop-color="#576cb8"/><stop offset="0.5" stop-color="#576cb7"/><stop offset="0.667" stop-color="#576ab7"/><stop offset="0.833" stop-color="#566ab7"/><stop offset="1" stop-color="#5668b7"/></linearGradient>
<linearGradient id="g90" x1="0" y1="0" x2="0" y2="1"><stop offset="0" stop-color="#576cb8"/><stop offset="0.167" stop-color="#576bb7"/><stop offset="0.333" stop-color="#576ab7"/><stop offset="0.5" stop-color="#5669b7"/><stop offset="0.667" stop-color="#5768b7"/><stop offset="0.833" stop-color="#5667b6"/><stop offset="1" stop-color="#5666b6"/></linearGradient>
<linearGradient id="g91" x1="0" y1="0" x2="0" y2="1"><stop offset="0" stop-color="#576ab7"/><stop offset="0.167" stop-color="#5669b7"/><stop offset="0.333" stop-color="#5768b7"/><stop offset="0.5" stop-color="#5667b6"/><stop offset="0.667" stop-color="#5666b6"/><stop offset="0.833" stop-color="#5665b6"/><stop offset="1" stop-color="#5665b6"/></linearGradient>
<linearGradient id="g92" x1="0" y1="0" x2="0" y2="1"><stop offset="0" stop-color="#5768b7"/><stop offset="0.167" stop-color="#5667b6"/><stop offset="0.333" stop-color="#5666b6"/><stop offset="0.5" stop-color="#5665b6"/><stop offset="0.667" stop-color="#5665b6"/><stop offset="0.833" stop-color="#5665b6"/><stop offset="1" stop-color="#5563b5"/></linearGradient>
<linearGradient id="g93" x1="0" y1="0" x2="0" y2="1"><stop offset="0" stop-color="#5666b6"/><stop offset="0.167" stop-color="#5665b6"/><stop offset="0.333" stop-color="#5665b6"/><stop offset="0.5" stop-color="#5565b6"/><stop offset="0.667" stop-color="#5563b5"/><stop offset="0.833" stop-color="#5562b5"/><stop offset="1" stop-color="#5562b5"/></linearGradient>
<linearGradient id="g94" x1="0" y1="0" x2="0" y2="1"><stop offset="0" stop-color="#5665b6"/><stop offset="0.167" stop-color="#5665b6"/><stop offset="0.333" stop-color="#5563b5"/><stop offset="0.5" stop-color="#5562b5"/><stop offset="0.667" stop-color="#5562b5"/><stop offset="0.833" stop-color="#5461b4"/><stop offset="1" stop-color="#5460b4"/></linearGradient>
<linearGradient id="g95" x1="0" y1="0" x2="0" y2="1"><stop offset="0" stop-color="#5563b5"/><stop offset="0.167" stop-color="#5562b5"/><stop offset="0.333" stop-color="#5562b5"/><stop offset="0.5" stop-color="#5461b4"/><stop offset="0.667" stop-color="#5460b4"/><stop offset="0.833" stop-color="#545fb3"/><stop offset="1" stop-color="#535eb2"/></linearGradient>
<linearGradient id="g96" x1="0" y1="0" x2="0" y2="1"><stop offset="0" stop-color="#5562b5"/><stop offset="0.167" stop-color="#5461b4"/><stop offset="0.333" stop-color="#5460b4"/><stop offset="0.5" stop-color="#545fb3"/><stop offset="0.667" stop-color="#535eb2"/><stop offset="0.833" stop-color="#525db2"/><stop offset="1" stop-color="#525cb1"/></linearGradient>
<linearGradient id="g97" x1="0" y1="0" x2="0" y2="1"><stop offset="0" stop-color="#5460b4"/><stop offset="0.167" stop-color="#545fb3"/><stop offset="0.333" stop-color="#535eb2"/><stop offset="0.5" stop-color="#535db2"/><stop offset="0.667" stop-color="#525cb1"/><stop offset="0.833" stop-color="#525bb0"/><stop offset="1" stop-color="#5259af"/></linearGradient>
<linearGradient id="g98" x1="0" y1="0" x2="0" y2="1"><stop offset="0" stop-color="#535fb3"/><stop offset="0.167" stop-color="#535db2"/><stop offset="0.333" stop-color="#525cb1"/><stop offset="0.5" stop-color="#525bb0"/><stop offset="0.667" stop-color="#525aaf"/><stop offset="0.833" stop-color="#5159af"/><stop offset="1" stop-color="#5058ae"/></linearGradient>
<linearGradient id="g99" x1="0" y1="0" x2="0" y2="1"><stop offset="0" stop-color="#525db2"/><stop offset="0.167" stop-color="#525cb1"/><stop offset="0.333" stop-color="#525ab0"/><stop offset="0.5" stop-color="#5159af"/><stop offset="0.667" stop-color="#5058ae"/><stop offset="0.833" stop-color="#5057ad"/><stop offset="1" stop-color="#5056ad"/></linearGradient>
<linearGradient id="g100" x1="0" y1="0" x2="0" y2="1"><stop offset="0" stop-color="#525bb0"/><stop offset="0.167" stop-color="#5259af"/><stop offset="0.333" stop-color="#5159ae"/><stop offset="0.5" stop-color="#5058ad"/><stop offset="0.667" stop-color="#5056ad"/><stop offset="0.833" stop-color="#4f55ac"/><stop offset="1" stop-color="#4f55ac"/></linearGradient>
<linearGradient id="g101" x1="0" y1="0" x2="0" y2="1"><stop offset="0" stop-color="#5159af"/><stop offset="0.167" stop-color="#5058ae"/><stop offset="0.333" stop-color="#5057ad"/><stop offset="0.5" stop-color="#4f56ad"/><stop offset="0.667" stop-color="#4f55ac"/><stop offset="0.833" stop-color="#4e55ab"/><stop offset="1" stop-color="#4e53aa"/></linearGradient>
<linearGradient id="g102" x1="0" y1="0" x2="0" y2="1"><stop offset="0" stop-color="#5058ad"/><stop offset="0.167" stop-color="#5056ad"/><stop offset="0.333" stop-color="#4f55ac"/><stop offset="0.5" stop-color="#4e55ab"/><stop offset="0.667" stop-color="#4e54ab"/><stop offset="0.833" stop-color="#4e52aa"/><stop offset="1" stop-color="#4d52aa"/></linearGradient>
<linearGradient id="g103" x1="0" y1="0" x2="0" y2="1"><stop offset="0" stop-color="#5056ad"/><stop offset="0.167" stop-color="#4f55ac"/><stop offset="0.333" stop-color="#4e54ab"/><stop offset="0.5" stop-color="#4e53aa"/><stop offset="0.667" stop-color="#4d52aa"/><stop offset="0.833" stop-color="#4d51aa"/><stop offset="1" stop-color="#4c51a9"/></linearGradient>
<linearGradient id="g104" x1="0" y1="0" x2="0" y2="1"><stop offset="0" stop-color="#4e55ab"/><stop offset="0.167" stop-color="#4e54ab"/><stop offset="0.333" stop-color="#4e52aa"/><stop offset="0.5" stop-color="#4d52aa"/><stop offset="0.667" stop-color="#4c51a9"/><stop offset="0.833" stop-color="#4c50a9"/><stop offset="1" stop-color="#4c50a8"/></linearGradient>
<linearGradient id="g105" x1="0" y1="0" x2="0" y2="1"><stop offset="0" stop-color="#4e53aa"/><stop offset="0.167" stop-color="#4d52aa"/><stop offset="0.333" stop-color="#4d51aa"/><stop offset="0.5" stop-color="#4c51a9"/><stop offset="0.667" stop-color="#4c50a8"/><stop offset="0.833" stop-color="#4c50a8"/><stop offset="1" stop-color="#4b4fa7"/></linearGradient>
<linearGradient id="g106" x1="0" y1="0" x2="0" y2="1"><stop offset="0" stop-color="#4d52aa"/><stop offset="0.167" stop-color="#4c51a9"/><stop offset="0.333" stop-color="#4c50a9"/><stop offset="0.5" stop-color="#4c50a8"/><stop offset="0.667" stop-color="#4c4fa7"/><stop offset="0.833" stop-color="#4b4ea7"/><stop offset="1" stop-color="#4b4ea6"/></linearGradient>
<linearGradient id="g107" x1="0" y1="0" x2="0" y2="1"><stop offset="0" stop-color="#4c51a9"/><stop offset="0.167" stop-color="#4c50a8"/><stop offset="0.333" stop-color="#4c50a7"/><stop offset="0.5" stop-color="#4b4fa7"/><stop offset="0.667" stop-color="#4b4ea6"/><stop offset="0.833" stop-color="#4a4da6"/><stop offset="1" stop-color="#4a4da5"/></linearGradient>
<linearGradient id="g108" x1="0" y1="0" x2="0" y2="1"><stop offset="0" stop-color="#4c50a8"/><stop offset="0.167" stop-color="#4c50a7"/><stop offset="0.333" stop-color="#4b4ea7"/><stop offset="0.5" stop-color="#4a4ea6"/><stop offset="0.667" stop-color="#4a4da5"/><stop offset="0.833" stop-color="#4a4ca5"/><stop offset="1" stop-color="#4a4ba4"/></linearGradient>
<linearGradient id="g109" x1="0" y1="0" x2="0" y2="1"><stop offset="0" stop-color="#4b4fa7"/><stop offset="0.167" stop-color="#4b4ea6"/><stop offset="0.333" stop-color="#4a4da6"/><stop offset="0.5" stop-color="#4a4da5"/><stop offset="0.667" stop-color="#4a4ca4"/><stop offset="0.833" stop-color="#4a4ba4"/><stop offset="1" stop-color="#494ba3"/></linearGradient>
<linearGradient id="g110" x1="0" y1="0" x2="0" y2="1"><stop offset="0" stop-color="#4b4ea6"/><stop offset="0.167" stop-color="#4a4da5"/><stop offset="0.333" stop-color="#4a4ca5"/><stop offset="0.5" stop-color="#4a4ba4"/><stop offset="0.667" stop-color="#494ba4"/><stop offset="0.833" stop-color="#494aa3"/><stop offset="1" stop-color="#494aa3"/></linearGradient>
<linearGradient id="g111" x1="0" y1="0" x2="0" y2="1"><stop offset="0" stop-color="#4a4da5"/><stop offset="0.167" stop-color="#4a4ca4"/><stop offset="0.333" stop-color="#4a4ba4"/><stop offset="0.5" stop-color="#494aa3"/><stop offset="0.667" stop-color="#494aa3"/><stop offset="0.833" stop-color="#494aa2"/><stop offset="1" stop-color="#4949a2"/></linearGradient>
<linearGradient id="g112" x1="0" y1="0" x2="0" y2="1"><stop offset="0" stop-color="#4a4ba4"/><stop offset="0.167" stop-color="#494ba4"/><stop offset="0.333" stop-color="#494aa3"/><stop offset="0.5" stop-color="#494aa3"/><stop offset="0.667" stop-color="#4949a2"/><stop offset="0.833" stop-color="#4949a2"/><stop offset="1" stop-color="#4949a1"/></linearGradient>
<linearGradient id="g113" x1="0" y1="0" x2="0" y2="1"><stop offset="0" stop-color="#494ba3"/><stop offset="0.167" stop-color="#494aa3"/><stop offset="0.333" stop-color="#4949a2"/><stop offset="0.5" stop-color="#4949a2"/><stop offset="0.667" stop-color="#4949a1"/><stop offset="0.833" stop-color="#4948a1"/><stop offset="1" stop-color="#4948a1"/></linearGradient>
<linearGradient id="g114" x1="0" y1="0" x2="0" y2="1"><stop offset="0" stop-color="#494aa3"/><stop offset="0.167" stop-color="#4949a2"/><stop offset="0.333" stop-color="#4949a1"/><stop offset="0.5" stop-color="#4948a1"/><stop offset="0.667" stop-color="#4948a1"/><stop offset="0.833" stop-color="#4848a1"/><stop offset="1" stop-color="#4847a1"/></linearGradient>
<linearGradient id="g115" x1="0" y1="0" x2="0" y2="1"><stop offset="0" stop-color="#4949a2"/><stop offset="0.167" stop-color="#4949a1"/><stop offset="0.333" stop-color="#4948a1"/><stop offset="0.5" stop-color="#4848a1"/><stop offset="0.667" stop-color="#4847a1"/><stop offset="0.833" stop-color="#4847a0"/><stop offset="1" stop-color="#4846a0"/></linearGradient>
<linearGradient id="g116" x1="0" y1="0" x2="0" y2="1"><stop offset="0" stop-color="#4948a1"/><stop offset="0.167" stop-color="#4948a1"/><stop offset="0.333" stop-color="#4847a1"/><stop offset="0.5" stop-color="#4847a0"/><stop offset="0.667" stop-color="#4846a0"/><stop offset="0.833" stop-color="#4846a0"/><stop offset="1" stop-color="#48459f"/></linearGradient>
<linearGradient id="g117" x1="0" y1="0" x2="0" y2="1"><stop offset="0" stop-color="#4948a1"/><stop offset="0.167" stop-color="#4847a1"/><stop offset="0.333" stop-color="#4847a0"/><stop offset="0.5" stop-color="#4846a0"/><stop offset="0.667" stop-color="#48459f"/><stop offset="0.833" stop-color="#48459f"/><stop offset="1" stop-color="#48459f"/></linearGradient>
<linearGradient id="g118" x1="0" y1="0" x2="0" y2="1"><stop offset="0" stop-color="#4847a1"/><stop offset="0.167" stop-color="#4846a0"/><stop offset="0.333" stop-color="#4845a0"/><stop offset="0.5" stop-color="#48459f"/><stop offset="0.667" stop-color="#48459f"/><stop offset="0.833" stop-color="#48459e"/><stop offset="1" stop-color="#48459e"/></linearGradient>
<linearGradient id="g119" x1="0" y1="0" x2="0" y2="1"><stop offset="0" stop-color="#4846a0"/><stop offset="0.167" stop-color="#48459f"/><stop offset="0.333" stop-color="#48459f"/><stop offset="0.5" stop-color="#48459e"/><stop offset="0.667" stop-color="#48459e"/><stop offset="0.833" stop-color="#48459e"/><stop offset="1" stop-color="#48449e"/></linearGradient>
<linearGradient id="g120" x1="0" y1="0" x2="0" y2="1"><stop offset="0" stop-color="#48459f"/><stop offset="0.167" stop-color="#48459f"/><stop offset="0.333" stop-color="#48459e"/><stop offset="0.5" stop-color="#48459e"/><stop offset="0.667" stop-color="#48449e"/><stop offset="0.833" stop-color="#48449e"/><stop offset="1" stop-color="#48449e"/></linearGradient>
<linearGradient id="g121" x1="0" y1="0" x2="0" y2="1"><stop offset="0" stop-color="#48459f"/><stop offset="0.167" stop-color="#48459e"/><stop offset="0.333" stop-color="#48459e"/><stop offset="0.5" stop-color="#48449e"/><stop offset="0.667" stop-color="#48449e"/><stop offset="0.833" stop-color="#47449e"/><stop offset="1" stop-color="#47439d"/></linearGradient>
<linearGradient id="g122" x1="0" y1="0" x2="0" y2="1"><stop offset="0" stop-color="#48459e"/><stop offset="0.167" stop-color="#48449e"/><stop offset="0.333" stop-color="#48449e"/><stop offset="0.5" stop-color="#47449e"/><stop offset="0.667" stop-color="#47439d"/><stop offset="0.833" stop-color="#47439d"/><stop offset="1" stop-color="#47439d"/></linearGradient>
<linearGradient id="g123" x1="0" y1="0" x2="0" y2="1"><stop offset="0" stop-color="#48449e"/><stop offset="0.167" stop-color="#48449e"/><stop offset="0.333" stop-color="#47449d"/><stop offset="0.5" stop-color="#47439d"/><stop offset="0.667" stop-color="#47439d"/><stop offset="0.833" stop-color="#47439d"/><stop offset="1" stop-color="#47439d"/></linearGradient>
<linearGradient id="g124" x1="0" y1="0" x2="0" y2="1"><stop offset="0" stop-color="#48449e"/><stop offset="0.167" stop-color="#47439d"/><stop offset="0.333" stop-color="#47439d"/><stop offset="0.5" stop-color="#47439d"/><stop offset="0.667" stop-color="#47439d"/><stop offset="0.833" stop-color="#47439d"/><stop offset="1" stop-color="#47439d"/></linearGradient>
<linearGradient id="g125" x1="0" y1="0" x2="0" y2="1"><stop offset="0" stop-color="#47439d"/><stop offset="0.167" stop-color="#47439d"/><stop offset="0.333" stop-color="#47439d"/><stop offset="0.5" stop-color="#47439d"/><stop offset="0.667" stop-color="#47439d"/><stop offset="0.833" stop-color="#47439c"/><stop offset="1" stop-color="#47439c"/></linearGradient>
<linearGradient id="g126" x1="0" y1="0" x2="0" y2="1"><stop offset="0" stop-color="#47439d"/><stop offset="0.167" stop-color="#47439d"/><stop offset="0.333" stop-color="#47439d"/><stop offset="0.5" stop-color="#47439d"/><stop offset="0.667" stop-color="#47439c"/><stop offset="0.833" stop-color="#47429c"/><stop offset="1" stop-color="#47429c"/></linearGradient>
<linearGradient id="g127" x1="0" y1="0" x2="0" y2="1"><stop offset="0" stop-color="#47439d"/><stop offset="0.167" stop-color="#47439d"/><stop offset="0.333" stop-color="#47439c"/><stop offset="0.5" stop-color="#47439c"/><stop offset="0.667" stop-color="#47429c"/><stop offset="0.833" stop-color="#47429c"/><stop offset="1" stop-color="#47429b"/></linearGradient>
<linearGradient id="g128" x1="0" y1="0" x2="0" y2="1"><stop offset="0" stop-color="#47439d"/><stop offset="0.167" stop-color="#47439c"/><stop offset="0.333" stop-color="#47429c"/><stop offset="0.5" stop-color="#47429c"/><stop offset="0.667" stop-color="#47429b"/><stop offset="0.833" stop-color="#47429b"/><stop offset="1" stop-color="#47429b"/></linearGradient>
<linearGradient id="g129" x1="0" y1="0" x2="0" y2="1"><stop offset="0" stop-color="#47439c"/><stop offset="0.167" stop-color="#47429c"/><stop offset="0.333" stop-color="#47429c"/><stop offset="0.5" stop-color="#47429b"/><stop offset="0.667" stop-color="#47429b"/><stop offset="0.833" stop-color="#47419b"/><stop offset="1" stop-color="#47419b"/></linearGradient>
<linearGradient id="g130" x1="0" y1="0" x2="0" y2="1"><stop offset="0" stop-color="#47429c"/><stop offset="0.167" stop-color="#47429b"/><stop offset="0.333" stop-color="#47429b"/><stop offset="0.5" stop-color="#47429b"/><stop offset="0.667" stop-color="#47419b"/><stop offset="0.833" stop-color="#47419a"/><stop offset="1" stop-color="#47419a"/></linearGradient>
<linearGradient id="g131" x1="0" y1="0" x2="0" y2="1"><stop offset="0" stop-color="#47429b"/><stop offset="0.167" stop-color="#47429b"/><stop offset="0.333" stop-color="#47419b"/><stop offset="0.5" stop-color="#47419b"/><stop offset="0.667" stop-color="#47419a"/><stop offset="0.833" stop-color="#47419a"/><stop offset="1" stop-color="#46419a"/></linearGradient>
<linearGradient id="g132" x1="0" y1="0" x2="0" y2="1"><stop offset="0" stop-color="#47429b"/><stop offset="0.167" stop-color="#47419b"/><stop offset="0.333" stop-color="#47419a"/><stop offset="0.5" stop-color="#47419a"/><stop offset="0.667" stop-color="#46419a"/><stop offset="0.833" stop-color="#46409a"/><stop offset="1" stop-color="#46409a"/></linearGradient>
<linearGradient id="g133" x1="0" y1="0" x2="0" y2="1"><stop offset="0" stop-color="#47419b"/><stop offset="0.167" stop-color="#47419a"/><stop offset="0.333" stop-color="#47419a"/><stop offset="0.5" stop-color="#46419a"/><stop offset="0.667" stop-color="#46409a"/><stop offset="0.833" stop-color="#46409a"/><stop offset="1" stop-color="#46409a"/></linearGradient>
<clipPath id="clip134"><rect x="912.70" y="32.60" width="539.70" height="482.80"/></clipPath>
<linearGradient id="cb135" x1="0" y1="0" x2="0" y2="1"><stop offset="0.0000" stop-color="#f4f020"/><stop offset="0.0256" stop-color="#f4ee22"/><stop offset="0.0513" stop-color="#f4eb22"/><stop offset="0.0769" stop-color="#f4e623"/><stop offset="0.1026" stop-color="#f8da2a"/><stop offset="0.1282" stop-color="#fbcb32"/><stop offset="0.1538" stop-color="#fdbf3a"/><stop offset="0.1795" stop-color="#f5b93a"/><stop offset="0.2051" stop-color="#e6ba2e"/><stop offset="0.2308" stop-color="#d5be28"/><stop offset="0.2564" stop-color="#c3c22d"/><stop offset="0.2821" stop-color="#adc436"/><stop offset="0.3077" stop-color="#98c645"/><stop offset="0.3333" stop-color="#83c65a"/><stop offset="0.3590" stop-color="#6ec76c"/><stop offset="0.3846" stop-color="#5cc77d"/><stop offset="0.4103" stop-color="#4bc58d"/><stop offset="0.4359" stop-color="#41c39a"/><stop offset="0.4615" stop-color="#37c0a6"/><stop offset="0.4872" stop-color="#29beb2"/><stop offset="0.5128" stop-color="#13babd"/><stop offset="0.5385" stop-color="#07b7c9"/><stop offset="0.5641" stop-color="#0fb2d3"/><stop offset="0.5897" stop-color="#1cacdb"/><stop offset="0.6154" stop-color="#27a4db"/><stop offset="0.6410" stop-color="#359cd9"/><stop offset="0.6667" stop-color="#4093d3"/><stop offset="0.6923" stop-color="#4d89c9"/><stop offset="0.7179" stop-color="#5281c1"/><stop offset="0.7436" stop-color="#537abd"/><stop offset="0.7692" stop-color="#5774ba"/><stop offset="0.7949" stop-color="#5770b8"/><stop offset="0.8205" stop-color="#576bb7"/><stop offset="0.8462" stop-color="#5666b6"/><stop offset="0.8718" stop-color="#5562b5"/><stop offset="0.8974" stop-color="#525bb0"/><stop offset="0.9231" stop-color="#4e54ab"/><stop offset="0.9487" stop-color="#4a4ba4"/><stop offset="0.9744" stop-color="#48459e"/><stop offset="1.0000" stop-color="#473f99"/></linearGradient>
<linearGradient id="g136" x1="0" y1="0" x2="0" y2="1"><stop offset="0" stop-color="#576ab7"/><stop offset="0.167" stop-color="#576ab7"/><stop offset="0.333" stop-color="#5669b7"/><stop offset="0.5" stop-color="#5668b7"/><stop offset="0.667" stop-color="#5768b7"/><stop offset="0.833" stop-color="#5768b6"/><stop offset="1" stop-color="#5667b6"/></linearGradient>
<linearGradient id="g137" x1="0" y1="0" x2="0" y2="1"><stop offset="0" stop-color="#5772ba"/><stop offset="0.167" stop-color="#5772b9"/><stop offset="0.333" stop-color="#5870b9"/><stop offset="0.5" stop-color="#576fb8"/><stop offset="0.667" stop-color="#576eb9"/><stop offset="0.833" stop-color="#586db8"/><stop offset="1" stop-color="#576db8"/></linearGradient>
<linearGradient id="g138" x1="0" y1="0" x2="0" y2="1"><stop offset="0" stop-color="#5181c2"/><stop offset="0.167" stop-color="#5180c1"/><stop offset="0.333" stop-color="#527fc0"/><stop offset="0.5" stop-color="#517cbe"/><stop offset="0.667" stop-color="#537bbd"/><stop offset="0.833" stop-color="#5479bc"/><stop offset="1" stop-color="#5577bb"/></linearGradient>
<linearGradient id="g139" x1="0" y1="0" x2="0" y2="1"><stop offset="0" stop-color="#4191d1"/><stop offset="0.167" stop-color="#4490d0"/><stop offset="0.333" stop-color="#468fcf"/><stop offset="0.5" stop-color="#488dcd"/><stop offset="0.667" stop-color="#4b8bcb"/><stop offset="0.833" stop-color="#4c89c9"/><stop offset="1" stop-color="#4f88c7"/></linearGradient>
<linearGradient id="g140" x1="0" y1="0" x2="0" y2="1"><stop offset="0" stop-color="#2ca2db"/><stop offset="0.167" stop-color="#2ea0da"/><stop offset="0.333" stop-color="#309eda"/><stop offset="0.5" stop-color="#339dd9"/><stop offset="0.667" stop-color="#359cd9"/><stop offset="0.833" stop-color="#3799d7"/><stop offset="1" stop-color="#3a97d6"/></linearGradient>
<linearGradient id="g141" x1="0" y1="0" x2="0" y2="1"><stop offset="0" stop-color="#16afd8"/><stop offset="0.167" stop-color="#18add9"/><stop offset="0.333" stop-color="#1cacdb"/><stop offset="0.5" stop-color="#1eabdb"/><stop offset="0.667" stop-color="#1fa9dc"/><stop offset="0.833" stop-color="#21a7dc"/><stop offset="1" stop-color="#24a5dc"/></linearGradient>
<linearGradient id="g142" x1="0" y1="0" x2="0" y2="1"><stop offset="0" stop-color="#07b6ca"/><stop offset="0.167" stop-color="#08b6cc"/><stop offset="0.333" stop-color="#0ab5cf"/><stop offset="0.5" stop-color="#0db3d1"/><stop offset="0.667" stop-color="#0fb2d3"/><stop offset="0.833" stop-color="#12b1d5"/><stop offset="1" stop-color="#14b0d7"/></linearGradient>
<linearGradient id="g143" x1="0" y1="0" x2="0" y2="1"><stop offset="0" stop-color="#17bbbb"/><stop offset="0.167" stop-color="#13babd"/><stop offset="0.333" stop-color="#0fb9c0"/><stop offset="0.5" stop-color="#0cb9c2"/><stop offset="0.667" stop-color="#0bb8c5"/><stop offset="0.833" stop-color="#08b7c7"/><stop offset="1" stop-color="#07b7c9"/></linearGradient>
<linearGradient id="g144" x1="0" y1="0" x2="0" y2="1"><stop offset="0" stop-color="#30bfad"/><stop offset="0.167" stop-color="#2dbeaf"/><stop offset="0.333" stop-color="#29bdb2"/><stop offset="0.5" stop-color="#25bdb4"/><stop offset="0.667" stop-color="#20bcb6"/><stop offset="0.833" stop-color="#1cbcb9"/><stop offset="1" stop-color="#17bbbb"/></linearGradient>
<linearGradient id="g145" x1="0" y1="0" x2="0" y2="1"><stop offset="0" stop-color="#3cc2a0"/><stop offset="0.167" stop-color="#3ac1a3"/><stop offset="0.333" stop-color="#38c1a5"/><stop offset="0.5" stop-color="#36c0a8"/><stop offset="0.667" stop-color="#33bfaa"/><stop offset="0.833" stop-color="#31bfac"/><stop offset="1" stop-color="#2ebeae"/></linearGradient>
<linearGradient id="g146" x1="0" y1="0" x2="0" y2="1"><stop offset="0" stop-color="#46c493"/><stop offset="0.167" stop-color="#43c496"/><stop offset="0.333" stop-color="#41c399"/><stop offset="0.5" stop-color="#40c39c"/><stop offset="0.667" stop-color="#3dc29e"/><stop offset="0.833" stop-color="#3cc2a1"/><stop offset="1" stop-color="#3ac1a3"/></linearGradient>
<linearGradient id="g147" x1="0" y1="0" x2="0" y2="1"><stop offset="0" stop-color="#51c687"/><stop offset="0.167" stop-color="#4ec68a"/><stop offset="0.333" stop-color="#4bc58d"/><stop offset="0.5" stop-color="#49c58f"/><stop offset="0.667" stop-color="#46c492"/><stop offset="0.833" stop-color="#44c495"/><stop offset="1" stop-color="#42c498"/></linearGradient>
<linearGradient id="g148" x1="0" y1="0" x2="0" y2="1"><stop offset="0" stop-color="#60c77a"/><stop offset="0.167" stop-color="#5cc77d"/><stop offset="0.333" stop-color="#59c780"/><stop offset="0.5" stop-color="#55c684"/><stop offset="0.667" stop-color="#52c686"/><stop offset="0.833" stop-color="#4fc689"/><stop offset="1" stop-color="#4cc58c"/></linearGradient>
<linearGradient id="g149" x1="0" y1="0" x2="0" y2="1"><stop offset="0" stop-color="#6ec76c"/><stop offset="0.167" stop-color="#6ac770"/><stop offset="0.333" stop-color="#66c774"/><stop offset="0.5" stop-color="#63c777"/><stop offset="0.667" stop-color="#5fc77a"/><stop offset="0.833" stop-color="#5cc77d"/><stop offset="1" stop-color="#59c780"/></linearGradient>
<linearGradient id="g150" x1="0" y1="0" x2="0" y2="1"><stop offset="0" stop-color="#7dc75e"/><stop offset="0.167" stop-color="#78c662"/><stop offset="0.333" stop-color="#74c766"/><stop offset="0.5" stop-color="#70c769"/><stop offset="0.667" stop-color="#6dc76d"/><stop offset="0.833" stop-color="#69c770"/><stop offset="1" stop-color="#66c774"/></linearGradient>
<linearGradient id="g151" x1="0" y1="0" x2="0" y2="1"><stop offset="0" stop-color="#8bc651"/><stop offset="0.167" stop-color="#88c655"/><stop offset="0.333" stop-color="#84c659"/><stop offset="0.5" stop-color="#7fc75c"/><stop offset="0.667" stop-color="#7bc660"/><stop offset="0.833" stop-color="#77c764"/><stop offset="1" stop-color="#73c767"/></linearGradient>
<linearGradient id="g152" x1="0" y1="0" x2="0" y2="1"><stop offset="0" stop-color="#98c645"/><stop offset="0.167" stop-color="#94c648"/><stop offset="0.333" stop-color="#91c74c"/><stop offset="0.5" stop-color="#8dc750"/><stop offset="0.667" stop-color="#89c654"/><stop offset="0.833" stop-color="#85c758"/><stop offset="1" stop-color="#80c75c"/></linearGradient>
<linearGradient id="g153" x1="0" y1="0" x2="0" y2="1"><stop offset="0" stop-color="#a4c53c"/><stop offset="0.167" stop-color="#a1c63e"/><stop offset="0.333" stop-color="#9dc641"/><stop offset="0.5" stop-color="#99c644"/><stop offset="0.667" stop-color="#95c648"/><stop offset="0.833" stop-color="#91c74c"/><stop offset="1" stop-color="#8dc750"/></linearGradient>
<linearGradient id="g154" x1="0" y1="0" x2="0" y2="1"><stop offset="0" stop-color="#b0c435"/><stop offset="0.167" stop-color="#acc437"/><stop offset="0.333" stop-color="#a8c539"/><stop offset="0.5" stop-color="#a4c53c"/><stop offset="0.667" stop-color="#a0c63e"/><stop offset="0.833" stop-color="#9cc641"/><stop offset="1" stop-color="#98c645"/></linearGradient>
<linearGradient id="g155" x1="0" y1="0" x2="0" y2="1"><stop offset="0" stop-color="#bac331"/><stop offset="0.167" stop-color="#b6c332"/><stop offset="0.333" stop-color="#b3c434"/><stop offset="0.5" stop-color="#afc436"/><stop offset="0.667" stop-color="#abc537"/><stop offset="0.833" stop-color="#a7c53a"/><stop offset="1" stop-color="#a3c53d"/></linearGradient>
<linearGradient id="g156" x1="0" y1="0" x2="0" y2="1"><stop offset="0" stop-color="#c3c22c"/><stop offset="0.167" stop-color="#c0c22e"/><stop offset="0.333" stop-color="#bcc330"/><stop offset="0.5" stop-color="#b8c331"/><stop offset="0.667" stop-color="#b5c433"/><stop offset="0.833" stop-color="#b1c435"/><stop offset="1" stop-color="#adc436"/></linearGradient>
<linearGradient id="g157" x1="0" y1="0" x2="0" y2="1"><stop offset="0" stop-color="#ccc029"/><stop offset="0.167" stop-color="#c8c02a"/><stop offset="0.333" stop-color="#c5c12c"/><stop offset="0.5" stop-color="#c2c22d"/><stop offset="0.667" stop-color="#bec32f"/><stop offset="0.833" stop-color="#bac330"/><stop offset="1" stop-color="#b7c332"/></linearGradient>
<linearGradient id="g158" x1="0" y1="0" x2="0" y2="1"><stop offset="0" stop-color="#d3be28"/><stop offset="0.167" stop-color="#d0bf29"/><stop offset="0.333" stop-color="#cdc029"/><stop offset="0.5" stop-color="#c9c02a"/><stop offset="0.667" stop-color="#c7c12b"/><stop offset="0.833" stop-color="#c3c22d"/><stop offset="1" stop-color="#c0c22e"/></linearGradient>
<linearGradient id="g159" x1="0" y1="0" x2="0" y2="1"><stop offset="0" stop-color="#dabd29"/><stop offset="0.167" stop-color="#d6bd28"/><stop offset="0.333" stop-color="#d3be28"/><stop offset="0.5" stop-color="#d1bf29"/><stop offset="0.667" stop-color="#cebf29"/><stop offset="0.833" stop-color="#cbc029"/><stop offset="1" stop-color="#c8c12a"/></linearGradient>
<linearGradient id="g160" x1="0" y1="0" x2="0" y2="1"><stop offset="0" stop-color="#e0bc2a"/><stop offset="0.167" stop-color="#ddbc29"/><stop offset="0.333" stop-color="#dabd29"/><stop offset="0.5" stop-color="#d7bd28"/><stop offset="0.667" stop-color="#d4be28"/><stop offset="0.833" stop-color="#d1bf29"/><stop offset="1" stop-color="#cfbf29"/></linearGradient>
<linearGradient id="g161" x1="0" y1="0" x2="0" y2="1"><stop offset="0" stop-color="#e5bb2d"/><stop offset="0.167" stop-color="#e2bb2b"/><stop offset="0.333" stop-color="#e0bc2a"/><stop offset="0.5" stop-color="#ddbc2a"/><stop offset="0.667" stop-color="#dbbd29"/><stop offset="0.833" stop-color="#d8bd28"/><stop offset="1" stop-color="#d5be28"/></linearGradient>
<linearGradient id="g162" x1="0" y1="0" x2="0" y2="1"><stop offset="0" stop-color="#eaba31"/><stop offset="0.167" stop-color="#e8ba2f"/><stop offset="0.333" stop-color="#e5bb2d"/><stop offset="0.5" stop-color="#e3bb2b"/><stop offset="0.667" stop-color="#e0bc2a"/><stop offset="0.833" stop-color="#debc2a"/><stop offset="1" stop-color="#dbbc29"/></linearGradient>
<linearGradient id="g163" x1="0" y1="0" x2="0" y2="1"><stop offset="0" stop-color="#efb935"/><stop offset="0.167" stop-color="#ecba32"/><stop offset="0.333" stop-color="#eaba30"/><stop offset="0.5" stop-color="#e7ba2e"/><stop offset="0.667" stop-color="#e5bb2d"/><stop offset="0.833" stop-color="#e3bb2b"/><stop offset="1" stop-color="#e1bb2a"/></linearGradient>
<linearGradient id="g164" x1="0" y1="0" x2="0" y2="1"><stop offset="0" stop-color="#f3b939"/><stop offset="0.167" stop-color="#f0b936"/><stop offset="0.333" stop-color="#eeba34"/><stop offset="0.5" stop-color="#ecba32"/><stop offset="0.667" stop-color="#eaba30"/><stop offset="0.833" stop-color="#e8ba2f"/><stop offset="1" stop-color="#e6bb2d"/></linearGradient>
<linearGradient id="g165" x1="0" y1="0" x2="0" y2="1"><stop offset="0" stop-color="#f6b93c"/><stop offset="0.167" stop-color="#f4b93a"/><stop offset="0.333" stop-color="#f2b938"/><stop offset="0.5" stop-color="#f0b936"/><stop offset="0.667" stop-color="#eeba34"/><stop offset="0.833" stop-color="#ecba32"/><stop offset="1" stop-color="#eaba31"/></linearGradient>
<linearGradient id="g166" x1="0" y1="0" x2="0" y2="1"><stop offset="0" stop-color="#faba3e"/><stop offset="0.167" stop-color="#f8ba3d"/><stop offset="0.333" stop-color="#f6b93b"/><stop offset="0.5" stop-color="#f4b939"/><stop offset="0.667" stop-color="#f2b938"/><stop offset="0.833" stop-color="#f0b936"/><stop offset="1" stop-color="#eeba34"/></linearGradient>
<linearGradient id="g167" x1="0" y1="0" x2="0" y2="1"><stop offset="0" stop-color="#fcbc3d"/><stop offset="0.167" stop-color="#fbbb3e"/><stop offset="0.333" stop-color="#f9ba3d"/><stop offset="0.5" stop-color="#f7ba3c"/><stop offset="0.667" stop-color="#f5b93b"/><stop offset="0.833" stop-color="#f4b939"/><stop offset="1" stop-color="#f2b938"/></linearGradient>
<linearGradient id="g168" x1="0" y1="0" x2="0" y2="1"><stop offset="0" stop-color="#fdbe3b"/><stop offset="0.167" stop-color="#fdbc3d"/><stop offset="0.333" stop-color="#fbbb3d"/><stop offset="0.5" stop-color="#faba3e"/><stop offset="0.667" stop-color="#f9ba3d"/><stop offset="0.833" stop-color="#f7b93c"/><stop offset="1" stop-color="#f5b93b"/></linearGradient>
<linearGradient id="g169" x1="0" y1="0" x2="0" y2="1"><stop offset="0" stop-color="#fdc03a"/><stop offset="0.167" stop-color="#fdbe3b"/><stop offset="0.333" stop-color="#fdbd3c"/><stop offset="0.5" stop-color="#fcbc3d"/><stop offset="0.667" stop-color="#fbbb3d"/><stop offset="0.833" stop-color="#faba3e"/><stop offset="1" stop-color="#f8ba3d"/></linearGradient>
<linearGradient id="g170" x1="0" y1="0" x2="0" y2="1"><stop offset="0" stop-color="#fdc338"/><stop offset="0.167" stop-color="#fdc139"/><stop offset="0.333" stop-color="#fdbf3a"/><stop offset="0.5" stop-color="#fdbe3b"/><stop offset="0.667" stop-color="#fdbd3d"/><stop offset="0.833" stop-color="#fcbc3d"/><stop offset="1" stop-color="#fbbb3e"/></linearGradient>
<linearGradient id="g171" x1="0" y1="0" x2="0" y2="1"><stop offset="0" stop-color="#fcc536"/><stop offset="0.167" stop-color="#fdc437"/><stop offset="0.333" stop-color="#fdc139"/><stop offset="0.5" stop-color="#fdc03a"/><stop offset="0.667" stop-color="#fdbf3b"/><stop offset="0.833" stop-color="#fdbd3c"/><stop offset="1" stop-color="#fdbc3d"/></linearGradient>
<linearGradient id="g172" x1="0" y1="0" x2="0" y2="1"><stop offset="0" stop-color="#fcc834"/><stop offset="0.167" stop-color="#fcc636"/><stop offset="0.333" stop-color="#fdc437"/><stop offset="0.5" stop-color="#fdc238"/><stop offset="0.667" stop-color="#fdc139"/><stop offset="0.833" stop-color="#fdbf3a"/><stop offset="1" stop-color="#fdbe3b"/></linearGradient>
<linearGradient id="g173" x1="0" y1="0" x2="0" y2="1"><stop offset="0" stop-color="#fccb32"/><stop offset="0.167" stop-color="#fcc934"/><stop offset="0.333" stop-color="#fcc735"/><stop offset="0.5" stop-color="#fdc536"/><stop offset="0.667" stop-color="#fdc337"/><stop offset="0.833" stop-color="#fdc238"/><stop offset="1" stop-color="#fdc039"/></linearGradient>
<linearGradient id="g174" x1="0" y1="0" x2="0" y2="1"><stop offset="0" stop-color="#fbce31"/><stop offset="0.167" stop-color="#fbcb32"/><stop offset="0.333" stop-color="#fcc933"/><stop offset="0.5" stop-color="#fcc734"/><stop offset="0.667" stop-color="#fcc636"/><stop offset="0.833" stop-color="#fdc437"/><stop offset="1" stop-color="#fdc338"/></linearGradient>
<linearGradient id="g175" x1="0" y1="0" x2="0" y2="1"><stop offset="0" stop-color="#fad02f"/><stop offset="0.167" stop-color="#fbce31"/><stop offset="0.333" stop-color="#fbcc32"/><stop offset="0.5" stop-color="#fcca33"/><stop offset="0.667" stop-color="#fcc834"/><stop offset="0.833" stop-color="#fcc735"/><stop offset="1" stop-color="#fdc536"/></linearGradient>
<linearGradient id="g176" x1="0" y1="0" x2="0" y2="1"><stop offset="0" stop-color="#f9d32e"/><stop offset="0.167" stop-color="#fad12f"/><stop offset="0.333" stop-color="#fbce31"/><stop offset="0.5" stop-color="#fbcc31"/><stop offset="0.667" stop-color="#fccb32"/><stop offset="0.833" stop-color="#fcc933"/><stop offset="1" stop-color="#fcc734"/></linearGradient>
<linearGradient id="g177" x1="0" y1="0" x2="0" y2="1"><stop offset="0" stop-color="#f9d62d"/><stop offset="0.167" stop-color="#f9d32e"/><stop offset="0.333" stop-color="#fad12f"/><stop offset="0.5" stop-color="#fbcf30"/><stop offset="0.667" stop-color="#fbcd31"/><stop offset="0.833" stop-color="#fbcb32"/><stop offset="1" stop-color="#fcca33"/></linearGradient>
<linearGradient id="g178" x1="0" y1="0" x2="0" y2="1"><stop offset="0" stop-color="#f8d82b"/><stop offset="0.167" stop-color="#f9d62c"/><stop offset="0.333" stop-color="#f9d42e"/><stop offset="0.5" stop-color="#fad22f"/><stop offset="0.667" stop-color="#fad030"/><stop offset="0.833" stop-color="#fbce31"/><stop offset="1" stop-color="#fbcc31"/></linearGradient>
<linearGradient id="g179" x1="0" y1="0" x2="0" y2="1"><stop offset="0" stop-color="#f7db29"/><stop offset="0.167" stop-color="#f8d92b"/><stop offset="0.333" stop-color="#f9d62c"/><stop offset="0.5" stop-color="#f9d42e"/><stop offset="0.667" stop-color="#fad22f"/><stop offset="0.833" stop-color="#fad12f"/><stop offset="1" stop-color="#fbcf30"/></linearGradient>
<linearGradient id="g180" x1="0" y1="0" x2="0" y2="1"><stop offset="0" stop-color="#f6dd29"/><stop offset="0.167" stop-color="#f7db29"/><stop offset="0.333" stop-color="#f8d92b"/><stop offset="0.5" stop-color="#f9d72c"/><stop offset="0.667" stop-color="#f9d52d"/><stop offset="0.833" stop-color="#fad32e"/><stop offset="1" stop-color="#fad12f"/></linearGradient>
<linearGradient id="g181" x1="0" y1="0" x2="0" y2="1"><stop offset="0" stop-color="#f6df27"/><stop offset="0.167" stop-color="#f6dd29"/><stop offset="0.333" stop-color="#f7db29"/><stop offset="0.5" stop-color="#f8d92a"/><stop offset="0.667" stop-color="#f8d72c"/><stop offset="0.833" stop-color="#f9d52d"/><stop offset="1" stop-color="#f9d42e"/></linearGradient>
<linearGradient id="g182" x1="0" y1="0" x2="0" y2="1"><stop offset="0" stop-color="#f5e126"/><stop offset="0.167" stop-color="#f6df27"/><stop offset="0.333" stop-color="#f6dd29"/><stop offset="0.5" stop-color="#f7db29"/><stop offset="0.667" stop-color="#f8da2a"/><stop offset="0.833" stop-color="#f8d82b"/><stop offset="1" stop-color="#f9d62c"/></linearGradient>
<linearGradient id="g183" x1="0" y1="0" x2="0" y2="1"><stop offset="0" stop-color="#f4e325"/><stop offset="0.167" stop-color="#f5e126"/><stop offset="0.333" stop-color="#f6df27"/><stop offset="0.5" stop-color="#f6dd28"/><stop offset="0.667" stop-color="#f7dc29"/><stop offset="0.833" stop-color="#f7da2a"/><stop offset="1" stop-color="#f8d92b"/></linearGradient>
<linearGradient id="g184" x1="0" y1="0" x2="0" y2="1"><stop offset="0" stop-color="#f4e524"/><stop offset="0.167" stop-color="#f4e325"/><stop offset="0.333" stop-color="#f5e126"/><stop offset="0.5" stop-color="#f5df27"/><stop offset="0.667" stop-color="#f6de28"/><stop offset="0.833" stop-color="#f6dc29"/><stop offset="1" stop-color="#f7db29"/></linearGradient>
<linearGradient id="g185" x1="0" y1="0" x2="0" y2="1"><stop offset="0" stop-color="#f4e623"/><stop offset="0.167" stop-color="#f4e425"/><stop offset="0.333" stop-color="#f5e325"/><stop offset="0.5" stop-color="#f5e126"/><stop offset="0.667" stop-color="#f5e027"/><stop offset="0.833" stop-color="#f6de28"/><stop offset="1" stop-color="#f6dd29"/></linearGradient>
<linearGradient id="g186" x1="0" y1="0" x2="0" y2="1"><stop offset="0" stop-color="#f4e723"/><stop offset="0.167" stop-color="#f4e623"/><stop offset="0.333" stop-color="#f4e425"/><stop offset="0.5" stop-color="#f4e325"/><stop offset="0.667" stop-color="#f5e126"/><stop offset="0.833" stop-color="#f5e027"/><stop offset="1" stop-color="#f6df27"/></linearGradient>
<linearGradient id="g187" x1="0" y1="0" x2="0" y2="1"><stop offset="0" stop-color="#f4e823"/><stop offset="0.167" stop-color="#f4e723"/><stop offset="0.333" stop-color="#f4e623"/><stop offset="0.5" stop-color="#f4e525"/><stop offset="0.667" stop-color="#f4e325"/><stop offset="0.833" stop-color="#f5e226"/><stop offset="1" stop-color="#f5e026"/></linearGradient>
<linearGradient id="g188" x1="0" y1="0" x2="0" y2="1"><stop offset="0" stop-color="#f3e923"/><stop offset="0.167" stop-color="#f4e823"/><stop offset="0.333" stop-color="#f4e723"/><stop offset="0.5" stop-color="#f4e623"/><stop offset="0.667" stop-color="#f4e524"/><stop offset="0.833" stop-color="#f4e425"/><stop offset="1" stop-color="#f5e325"/></linearGradient>
<linearGradient id="g189" x1="0" y1="0" x2="0" y2="1"><stop offset="0" stop-color="#f3e923"/><stop offset="0.167" stop-color="#f3e923"/><stop offset="0.333" stop-color="#f4e823"/><stop offset="0.5" stop-color="#f4e723"/><stop offset="0.667" stop-color="#f4e623"/><stop offset="0.833" stop-color="#f4e524"/><stop offset="1" stop-color="#f4e425"/></linearGradient>
<linearGradient id="g190" x1="0" y1="0" x2="0" y2="1"><stop offset="0" stop-color="#f3ea23"/><stop offset="0.167" stop-color="#f3e923"/><stop offset="0.333" stop-color="#f3e923"/><stop offset="0.5" stop-color="#f4e823"/><stop offset="0.667" stop-color="#f4e723"/><stop offset="0.833" stop-color="#f4e723"/><stop offset="1" stop-color="#f4e624"/></linearGradient>
<linearGradient id="g191" x1="0" y1="0" x2="0" y2="1"><stop offset="0" stop-color="#f4ea23"/><stop offset="0.167" stop-color="#f3e923"/><stop offset="0.333" stop-color="#f3e923"/><stop offset="0.5" stop-color="#f3e923"/><stop offset="0.667" stop-color="#f4e823"/><stop offset="0.833" stop-color="#f4e723"/><stop offset="1" stop-color="#f4e723"/></linearGradient>
<linearGradient id="g192" x1="0" y1="0" x2="0" y2="1"><stop offset="0" stop-color="#f4ea23"/><stop offset="0.167" stop-color="#f3ea23"/><stop offset="0.333" stop-color="#f3e923"/><stop offset="0.5" stop-color="#f3e923"/><stop offset="0.667" stop-color="#f3e923"/><stop offset="0.833" stop-color="#f4e823"/><stop offset="1" stop-color="#f4e823"/></linearGradient>
<linearGradient id="g193" x1="0" y1="0" x2="0" y2="1"><stop offset="0" stop-color="#f4eb22"/><stop offset="0.167" stop-color="#f4ea23"/><stop offset="0.333" stop-color="#f3ea23"/><stop offset="0.5" stop-color="#f3e923"/><stop offset="0.667" stop-color="#f3e923"/><stop offset="0.833" stop-color="#f3e923"/><stop offset="1" stop-color="#f3e823"/></linearGradient>
<linearGradient id="g194" x1="0" y1="0" x2="0" y2="1"><stop offset="0" stop-color="#f4eb22"/><stop offset="0.167" stop-color="#f4eb23"/><stop offset="0.333" stop-color="#f4ea23"/><stop offset="0.5" stop-color="#f3ea23"/><stop offset="0.667" stop-color="#f3e923"/><stop offset="0.833" stop-color="#f3e923"/><stop offset="1" stop-color="#f3e923"/></linearGradient>
<linearGradient id="g195" x1="0" y1="0" x2="0" y2="1"><stop offset="0" stop-color="#f4eb22"/><stop offset="0.167" stop-color="#f4eb22"/><stop offset="0.333" stop-color="#f4ea23"/><stop offset="0.5" stop-color="#f4ea23"/><stop offset="0.667" stop-color="#f3ea23"/><stop offset="0.833" stop-color="#f3e923"/><stop offset="1" stop-color="#f3e923"/></linearGradient>
<linearGradient id="g196" x1="0" y1="0" x2="0" y2="1"><stop offset="0" stop-color="#f4ec22"/><stop offset="0.167" stop-color="#f4eb22"/><stop offset="0.333" stop-color="#f4eb22"/><stop offset="0.5" stop-color="#f4ea23"/><stop offset="0.667" stop-color="#f4ea23"/><stop offset="0.833" stop-color="#f3ea23"/><stop offset="1" stop-color="#f3ea23"/></linearGradient>
<linearGradient id="g197" x1="0" y1="0" x2="0" y2="1"><stop offset="0" stop-color="#f4ec22"/><stop offset="0.167" stop-color="#f4ec22"/><stop offset="0.333" stop-color="#f4eb22"/><stop offset="0.5" stop-color="#f4eb22"/><stop offset="0.667" stop-color="#f4ea23"/><stop offset="0.833" stop-color="#f4ea23"/><stop offset="1" stop-color="#f4ea23"/></linearGradient>
<linearGradient id="g198" x1="0" y1="0" x2="0" y2="1"><stop offset="0" stop-color="#f4ec22"/><stop offset="0.167" stop-color="#f4ec22"/><stop offset="0.333" stop-color="#f4ec22"/><stop offset="0.5" stop-color="#f4eb22"/><stop offset="0.667" stop-color="#f4eb22"/><stop offset="0.833" stop-color="#f4eb23"/><stop offset="1" stop-color="#f4ea23"/></linearGradient>
<linearGradient id="g199" x1="0" y1="0" x2="0" y2="1"><stop offset="0" stop-color="#f4ed22"/><stop offset="0.167" stop-color="#f4ec22"/><stop offset="0.333" stop-color="#f4ec22"/><stop offset="0.5" stop-color="#f4ec22"/><stop offset="0.667" stop-color="#f4eb22"/><stop offset="0.833" stop-color="#f4eb22"/><stop offset="1" stop-color="#f4eb22"/></linearGradient>
<linearGradient id="g200" x1="0" y1="0" x2="0" y2="1"><stop offset="0" stop-color="#f4ee22"/><stop offset="0.167" stop-color="#f4ed22"/><stop offset="0.333" stop-color="#f4ec22"/><stop offset="0.5" stop-color="#f4ec22"/><stop offset="0.667" stop-color="#f4ec22"/><stop offset="0.833" stop-color="#f4eb22"/><stop offset="1" stop-color="#f4eb22"/></linearGradient>
<linearGradient id="g201" x1="0" y1="0" x2="0" y2="1"><stop offset="0" stop-color="#f4ee21"/><stop offset="0.167" stop-color="#f4ed22"/><stop offset="0.333" stop-color="#f4ed22"/><stop offset="0.5" stop-color="#f4ec22"/><stop offset="0.667" stop-color="#f4ec22"/><stop offset="0.833" stop-color="#f4ec22"/><stop offset="1" stop-color="#f4eb22"/></linearGradient>
<linearGradient id="g202" x1="0" y1="0" x2="0" y2="1"><stop offset="0" stop-color="#f4ef21"/><stop offset="0.167" stop-color="#f4ee21"/><stop offset="0.333" stop-color="#f4ed22"/><stop offset="0.5" stop-color="#f4ed22"/><stop offset="0.667" stop-color="#f4ec22"/><stop offset="0.833" stop-color="#f4ec22"/><stop offset="1" stop-color="#f4ec22"/></linearGradient>
<clipPath id="clip203"><rect x="99.00" y="644.30" width="539.60" height="481.00"/></clipPath>
<linearGradient id="cb204" x1="0" y1="0" x2="0" y2="1"><stop offset="0.0000" stop-color="#f4f020"/><stop offset="0.0256" stop-color="#f4ee22"/><stop offset="0.0513" stop-color="#f4eb22"/><stop offset="0.0769" stop-color="#f4e623"/><stop offset="0.1026" stop-color="#f8da2a"/><stop offset="0.1282" stop-color="#fbcb32"/><stop offset="0.1538" stop-color="#fdbf3a"/><stop offset="0.1795" stop-color="#f5b93a"/><stop offset="0.2051" stop-color="#e6ba2e"/><stop offset="0.2308" stop-color="#d5be28"/><stop offset="0.2564" stop-color="#c3c22d"/><stop offset="0.2821" stop-color="#adc436"/><stop offset="0.3077" stop-color="#98c645"/><stop offset="0.3333" stop-color="#83c65a"/><stop offset="0.3590" stop-color="#6ec76c"/><stop offset="0.3846" stop-color="#5cc77d"/><stop offset="0.4103" stop-color="#4bc58d"/><stop offset="0.4359" stop-color="#41c39a"/><stop offset="0.4615" stop-color="#37c0a6"/><stop offset="0.4872" stop-color="#29beb2"/><stop offset="0.5128" stop-color="#13babd"/><stop offset="0.5385" stop-color="#07b7c9"/><stop offset="0.5641" stop-color="#0fb2d3"/><stop offset="0.5897" stop-color="#1cacdb"/><stop offset="0.6154" stop-color="#27a4db"/><stop offset="0.6410" stop-color="#359cd9"/><stop offset="0.6667" stop-color="#4093d3"/><stop offset="0.6923" stop-color="#4d89c9"/><stop offset="0.7179" stop-color="#5281c1"/><stop offset="0.7436" stop-color="#537abd"/><stop offset="0.7692" stop-color="#5774ba"/><stop offset="0.7949" stop-color="#5770b8"/><stop offset="0.8205" stop-color="#576bb7"/><stop offset="0.8462" stop-color="#5666b6"/><stop offset="0.8718" stop-color="#5562b5"/><stop offset="0.8974" stop-color="#525bb0"/><stop offset="0.9231" stop-color="#4e54ab"/><stop offset="0.9487" stop-color="#4a4ba4"/><stop offset="0.9744" stop-color="#48459e"/><stop offset="1.0000" stop-color="#473f99"/></linearGradient>
<linearGradient id="g205" x1="0" y1="0" x2="0" y2="1"><stop offset="0" stop-color="#f7db29"/><stop offset="0.167" stop-color="#f6de28"/><stop offset="0.333" stop-color="#f5e027"/><stop offset="0.5" stop-color="#f5e325"/><stop offset="0.667" stop-color="#f4e524"/><stop offset="0.833" stop-color="#f4e723"/><stop offset="1" stop-color="#f3e823"/></linearGradient>
<linearGradient id="g206" x1="0" y1="0" x2="0" y2="1"><stop offset="0" stop-color="#fdc337"/><stop offset="0.167" stop-color="#fdc537"/><stop offset="0.333" stop-color="#fcc735"/><stop offset="0.5" stop-color="#fcc934"/><stop offset="0.667" stop-color="#fbcb32"/><stop offset="0.833" stop-color="#fbce31"/><stop offset="1" stop-color="#fad12f"/></linearGradient>
<linearGradient id="g207" x1="0" y1="0" x2="0" y2="1"><stop offset="0" stop-color="#eaba30"/><stop offset="0.167" stop-color="#efb935"/><stop offset="0.333" stop-color="#f3b939"/><stop offset="0.5" stop-color="#f7b93c"/><stop offset="0.667" stop-color="#faba3e"/><stop offset="0.833" stop-color="#fcbb3d"/><stop offset="1" stop-color="#fdbd3c"/></linearGradient>
<linearGradient id="g208" x1="0" y1="0" x2="0" y2="1"><stop offset="0" stop-color="#bfc22f"/><stop offset="0.167" stop-color="#c2c22d"/><stop offset="0.333" stop-color="#c5c12c"/><stop offset="0.5" stop-color="#c8c12a"/><stop offset="0.667" stop-color="#cbc029"/><stop offset="0.833" stop-color="#cfbf29"/><stop offset="1" stop-color="#d2be28"/></linearGradient>
<linearGradient id="g209" x1="0" y1="0" x2="0" y2="1"><stop offset="0" stop-color="#a2c53e"/><stop offset="0.167" stop-color="#a5c53b"/><stop offset="0.333" stop-color="#a8c539"/><stop offset="0.5" stop-color="#acc437"/><stop offset="0.667" stop-color="#afc435"/><stop offset="0.833" stop-color="#b2c434"/><stop offset="1" stop-color="#b5c333"/></linearGradient>
<linearGradient id="g210" x1="0" y1="0" x2="0" y2="1"><stop offset="0" stop-color="#85c758"/><stop offset="0.167" stop-color="#88c654"/><stop offset="0.333" stop-color="#8cc651"/><stop offset="0.5" stop-color="#8fc74e"/><stop offset="0.667" stop-color="#93c64a"/><stop offset="0.833" stop-color="#96c647"/><stop offset="1" stop-color="#9ac643"/></linearGradient>
<linearGradient id="g211" x1="0" y1="0" x2="0" y2="1"><stop offset="0" stop-color="#6dc76d"/><stop offset="0.167" stop-color="#70c76a"/><stop offset="0.333" stop-color="#72c767"/><stop offset="0.5" stop-color="#76c764"/><stop offset="0.667" stop-color="#79c661"/><stop offset="0.833" stop-color="#7dc75e"/><stop offset="1" stop-color="#81c75b"/></linearGradient>
<linearGradient id="g212" x1="0" y1="0" x2="0" y2="1"><stop offset="0" stop-color="#5ac77f"/><stop offset="0.167" stop-color="#5cc77d"/><stop offset="0.333" stop-color="#5fc77a"/><stop offset="0.5" stop-color="#62c777"/><stop offset="0.667" stop-color="#65c775"/><stop offset="0.833" stop-color="#68c772"/><stop offset="1" stop-color="#6bc76f"/></linearGradient>
<linearGradient id="g213" x1="0" y1="0" x2="0" y2="1"><stop offset="0" stop-color="#4ac58e"/><stop offset="0.167" stop-color="#4cc58c"/><stop offset="0.333" stop-color="#4fc68a"/><stop offset="0.5" stop-color="#51c687"/><stop offset="0.667" stop-color="#53c685"/><stop offset="0.833" stop-color="#56c682"/><stop offset="1" stop-color="#59c780"/></linearGradient>
<linearGradient id="g214" x1="0" y1="0" x2="0" y2="1"><stop offset="0" stop-color="#40c39b"/><stop offset="0.167" stop-color="#42c399"/><stop offset="0.333" stop-color="#43c496"/><stop offset="0.5" stop-color="#45c494"/><stop offset="0.667" stop-color="#47c592"/><stop offset="0.833" stop-color="#49c58f"/><stop offset="1" stop-color="#4ac58d"/></linearGradient>
<linearGradient id="g215" x1="0" y1="0" x2="0" y2="1"><stop offset="0" stop-color="#39c1a5"/><stop offset="0.167" stop-color="#3ac1a3"/><stop offset="0.333" stop-color="#3cc2a1"/><stop offset="0.5" stop-color="#3dc29f"/><stop offset="0.667" stop-color="#3fc39d"/><stop offset="0.833" stop-color="#40c39b"/><stop offset="1" stop-color="#42c399"/></linearGradient>
<linearGradient id="g216" x1="0" y1="0" x2="0" y2="1"><stop offset="0" stop-color="#2fbeae"/><stop offset="0.167" stop-color="#32bfac"/><stop offset="0.333" stop-color="#34bfaa"/><stop offset="0.5" stop-color="#36c0a8"/><stop offset="0.667" stop-color="#38c0a6"/><stop offset="0.833" stop-color="#39c1a4"/><stop offset="1" stop-color="#3bc1a3"/></linearGradient>
<linearGradient id="g217" x1="0" y1="0" x2="0" y2="1"><stop offset="0" stop-color="#22bcb6"/><stop offset="0.167" stop-color="#26bdb4"/><stop offset="0.333" stop-color="#29beb2"/><stop offset="0.5" stop-color="#2cbeb0"/><stop offset="0.667" stop-color="#2fbeae"/><stop offset="0.833" stop-color="#31bfad"/><stop offset="1" stop-color="#32bfab"/></linearGradient>
<linearGradient id="g218" x1="0" y1="0" x2="0" y2="1"><stop offset="0" stop-color="#13babd"/><stop offset="0.167" stop-color="#17bbbb"/><stop offset="0.333" stop-color="#1bbbb9"/><stop offset="0.5" stop-color="#1fbcb7"/><stop offset="0.667" stop-color="#22bcb5"/><stop offset="0.833" stop-color="#26bdb4"/><stop offset="1" stop-color="#29bdb2"/></linearGradient>
<linearGradient id="g219" x1="0" y1="0" x2="0" y2="1"><stop offset="0" stop-color="#0bb9c4"/><stop offset="0.167" stop-color="#0db9c2"/><stop offset="0.333" stop-color="#0fb9c0"/><stop offset="0.5" stop-color="#11babe"/><stop offset="0.667" stop-color="#15bbbc"/><stop offset="0.833" stop-color="#17bbbb"/><stop offset="1" stop-color="#1bbbb9"/></linearGradient>
<linearGradient id="g220" x1="0" y1="0" x2="0" y2="1"><stop offset="0" stop-color="#07b6ca"/><stop offset="0.167" stop-color="#07b7c8"/><stop offset="0.333" stop-color="#08b8c6"/><stop offset="0.5" stop-color="#0bb8c4"/><stop offset="0.667" stop-color="#0cb9c3"/><stop offset="0.833" stop-color="#0eb9c1"/><stop offset="1" stop-color="#0fb9c0"/></linearGradient>
<linearGradient id="g221" x1="0" y1="0" x2="0" y2="1"><stop offset="0" stop-color="#0bb4d0"/><stop offset="0.167" stop-color="#09b5ce"/><stop offset="0.333" stop-color="#08b6cc"/><stop offset="0.5" stop-color="#07b6ca"/><stop offset="0.667" stop-color="#07b7c9"/><stop offset="0.833" stop-color="#08b7c7"/><stop offset="1" stop-color="#09b8c6"/></linearGradient>
<linearGradient id="g222" x1="0" y1="0" x2="0" y2="1"><stop offset="0" stop-color="#11b2d4"/><stop offset="0.167" stop-color="#0fb2d3"/><stop offset="0.333" stop-color="#0db3d1"/><stop offset="0.5" stop-color="#0bb4d0"/><stop offset="0.667" stop-color="#09b5ce"/><stop offset="0.833" stop-color="#08b5cd"/><stop offset="1" stop-color="#07b6cb"/></linearGradient>
<linearGradient id="g223" x1="0" y1="0" x2="0" y2="1"><stop offset="0" stop-color="#16afd8"/><stop offset="0.167" stop-color="#14b0d7"/><stop offset="0.333" stop-color="#12b1d6"/><stop offset="0.5" stop-color="#11b2d4"/><stop offset="0.667" stop-color="#0fb2d3"/><stop offset="0.833" stop-color="#0db3d1"/><stop offset="1" stop-color="#0cb4d0"/></linearGradient>
<linearGradient id="g224" x1="0" y1="0" x2="0" y2="1"><stop offset="0" stop-color="#1cacda"/><stop offset="0.167" stop-color="#19add9"/><stop offset="0.333" stop-color="#17aed9"/><stop offset="0.5" stop-color="#16afd8"/><stop offset="0.667" stop-color="#14b0d7"/><stop offset="0.833" stop-color="#12b1d6"/><stop offset="1" stop-color="#11b2d4"/></linearGradient>
<linearGradient id="g225" x1="0" y1="0" x2="0" y2="1"><stop offset="0" stop-color="#1fa9dc"/><stop offset="0.167" stop-color="#1eabdb"/><stop offset="0.333" stop-color="#1cabdb"/><stop offset="0.5" stop-color="#1bacda"/><stop offset="0.667" stop-color="#18aed9"/><stop offset="0.833" stop-color="#17aed9"/><stop offset="1" stop-color="#16afd8"/></linearGradient>
<linearGradient id="g226" x1="0" y1="0" x2="0" y2="1"><stop offset="0" stop-color="#22a7dc"/><stop offset="0.167" stop-color="#20a8dc"/><stop offset="0.333" stop-color="#1fa9dc"/><stop offset="0.5" stop-color="#1faadb"/><stop offset="0.667" stop-color="#1eabdb"/><stop offset="0.833" stop-color="#1cacdb"/><stop offset="1" stop-color="#1aacda"/></linearGradient>
<linearGradient id="g227" x1="0" y1="0" x2="0" y2="1"><stop offset="0" stop-color="#28a4db"/><stop offset="0.167" stop-color="#25a5dc"/><stop offset="0.333" stop-color="#23a6dc"/><stop offset="0.5" stop-color="#21a7dc"/><stop offset="0.667" stop-color="#20a8dc"/><stop offset="0.833" stop-color="#1fa9dc"/><stop offset="1" stop-color="#1faadb"/></linearGradient>
<linearGradient id="g228" x1="0" y1="0" x2="0" y2="1"><stop offset="0" stop-color="#2ea1da"/><stop offset="0.167" stop-color="#2ca2db"/><stop offset="0.333" stop-color="#29a3db"/><stop offset="0.5" stop-color="#26a4db"/><stop offset="0.667" stop-color="#24a5dc"/><stop offset="0.833" stop-color="#22a7dc"/><stop offset="1" stop-color="#21a8dc"/></linearGradient>
<linearGradient id="g229" x1="0" y1="0" x2="0" y2="1"><stop offset="0" stop-color="#319eda"/><stop offset="0.167" stop-color="#2f9fda"/><stop offset="0.333" stop-color="#2ea0da"/><stop offset="0.5" stop-color="#2da2db"/><stop offset="0.667" stop-color="#2aa3db"/><stop offset="0.833" stop-color="#28a4db"/><stop offset="1" stop-color="#25a5dc"/></linearGradient>
<linearGradient id="g230" x1="0" y1="0" x2="0" y2="1"><stop offset="0" stop-color="#349cd9"/><stop offset="0.167" stop-color="#339dd9"/><stop offset="0.333" stop-color="#319eda"/><stop offset="0.5" stop-color="#309fda"/><stop offset="0.667" stop-color="#2ea0da"/><stop offset="0.833" stop-color="#2ea1db"/><stop offset="1" stop-color="#2ca2db"/></linearGradient>
<linearGradient id="g231" x1="0" y1="0" x2="0" y2="1"><stop offset="0" stop-color="#3899d7"/><stop offset="0.167" stop-color="#369bd8"/><stop offset="0.333" stop-color="#349cd9"/><stop offset="0.5" stop-color="#339dd9"/><stop offset="0.667" stop-color="#329ed9"/><stop offset="0.833" stop-color="#309eda"/><stop offset="1" stop-color="#2f9fda"/></linearGradient>
<linearGradient id="g232" x1="0" y1="0" x2="0" y2="1"><stop offset="0" stop-color="#3a97d6"/><stop offset="0.167" stop-color="#3998d6"/><stop offset="0.333" stop-color="#3799d7"/><stop offset="0.5" stop-color="#369bd8"/><stop offset="0.667" stop-color="#349cd9"/><stop offset="0.833" stop-color="#339dd9"/><stop offset="1" stop-color="#339dd9"/></linearGradient>
<linearGradient id="g233" x1="0" y1="0" x2="0" y2="1"><stop offset="0" stop-color="#3d95d5"/><stop offset="0.167" stop-color="#3c96d5"/><stop offset="0.333" stop-color="#3a97d6"/><stop offset="0.5" stop-color="#3998d6"/><stop offset="0.667" stop-color="#3898d7"/><stop offset="0.833" stop-color="#369ad8"/><stop offset="1" stop-color="#359bd8"/></linearGradient>
<linearGradient id="g234" x1="0" y1="0" x2="0" y2="1"><stop offset="0" stop-color="#3f93d3"/><stop offset="0.167" stop-color="#3e94d4"/><stop offset="0.333" stop-color="#3d95d5"/><stop offset="0.5" stop-color="#3c96d5"/><stop offset="0.667" stop-color="#3a97d6"/><stop offset="0.833" stop-color="#3997d6"/><stop offset="1" stop-color="#3898d7"/></linearGradient>
<linearGradient id="g235" x1="0" y1="0" x2="0" y2="1"><stop offset="0" stop-color="#4291d0"/><stop offset="0.167" stop-color="#4092d2"/><stop offset="0.333" stop-color="#3f93d3"/><stop offset="0.5" stop-color="#3e94d4"/><stop offset="0.667" stop-color="#3d95d5"/><stop offset="0.833" stop-color="#3c96d5"/><stop offset="1" stop-color="#3b96d5"/></linearGradient>
<linearGradient id="g236" x1="0" y1="0" x2="0" y2="1"><stop offset="0" stop-color="#468fcf"/><stop offset="0.167" stop-color="#4490d0"/><stop offset="0.333" stop-color="#4191d1"/><stop offset="0.5" stop-color="#4093d2"/><stop offset="0.667" stop-color="#3f93d3"/><stop offset="0.833" stop-color="#3e94d4"/><stop offset="1" stop-color="#3d95d5"/></linearGradient>
<linearGradient id="g237" x1="0" y1="0" x2="0" y2="1"><stop offset="0" stop-color="#488dcd"/><stop offset="0.167" stop-color="#478ece"/><stop offset="0.333" stop-color="#458fd0"/><stop offset="0.5" stop-color="#4390d0"/><stop offset="0.667" stop-color="#4191d1"/><stop offset="0.833" stop-color="#4093d2"/><stop offset="1" stop-color="#3f93d3"/></linearGradient>
<linearGradient id="g238" x1="0" y1="0" x2="0" y2="1"><stop offset="0" stop-color="#4b8bcb"/><stop offset="0.167" stop-color="#498ccc"/><stop offset="0.333" stop-color="#488dcd"/><stop offset="0.5" stop-color="#468ece"/><stop offset="0.667" stop-color="#4590d0"/><stop offset="0.833" stop-color="#4390d0"/><stop offset="1" stop-color="#4191d1"/></linearGradient>
<linearGradient id="g239" x1="0" y1="0" x2="0" y2="1"><stop offset="0" stop-color="#4c89c9"/><stop offset="0.167" stop-color="#4b8aca"/><stop offset="0.333" stop-color="#4a8bcb"/><stop offset="0.5" stop-color="#498dcc"/><stop offset="0.667" stop-color="#478dcd"/><stop offset="0.833" stop-color="#468ecf"/><stop offset="1" stop-color="#4590d0"/></linearGradient>
<linearGradient id="g240" x1="0" y1="0" x2="0" y2="1"><stop offset="0" stop-color="#4f88c7"/><stop offset="0.167" stop-color="#4d89c9"/><stop offset="0.333" stop-color="#4b8ac9"/><stop offset="0.5" stop-color="#4b8aca"/><stop offset="0.667" stop-color="#4a8ccb"/><stop offset="0.833" stop-color="#498dcc"/><stop offset="1" stop-color="#478dcd"/></linearGradient>
<linearGradient id="g241" x1="0" y1="0" x2="0" y2="1"><stop offset="0" stop-color="#5086c5"/><stop offset="0.167" stop-color="#4f87c6"/><stop offset="0.333" stop-color="#4f89c8"/><stop offset="0.5" stop-color="#4c89c9"/><stop offset="0.667" stop-color="#4b8aca"/><stop offset="0.833" stop-color="#4b8acb"/><stop offset="1" stop-color="#4a8ccb"/></linearGradient>
<linearGradient id="g242" x1="0" y1="0" x2="0" y2="1"><stop offset="0" stop-color="#5086c4"/><stop offset="0.167" stop-color="#5086c4"/><stop offset="0.333" stop-color="#5086c5"/><stop offset="0.5" stop-color="#4f88c7"/><stop offset="0.667" stop-color="#4e89c8"/><stop offset="0.833" stop-color="#4c89c9"/><stop offset="1" stop-color="#4b8aca"/></linearGradient>
<linearGradient id="g243" x1="0" y1="0" x2="0" y2="1"><stop offset="0" stop-color="#5184c3"/><stop offset="0.167" stop-color="#5185c3"/><stop offset="0.333" stop-color="#5086c4"/><stop offset="0.5" stop-color="#5086c5"/><stop offset="0.667" stop-color="#5087c6"/><stop offset="0.833" stop-color="#4f89c8"/><stop offset="1" stop-color="#4e89c8"/></linearGradient>
<linearGradient id="g244" x1="0" y1="0" x2="0" y2="1"><stop offset="0" stop-color="#5183c2"/><stop offset="0.167" stop-color="#5184c3"/><stop offset="0.333" stop-color="#5185c3"/><stop offset="0.5" stop-color="#5086c4"/><stop offset="0.667" stop-color="#5086c4"/><stop offset="0.833" stop-color="#5086c5"/><stop offset="1" stop-color="#5087c6"/></linearGradient>
<linearGradient id="g245" x1="0" y1="0" x2="0" y2="1"><stop offset="0" stop-color="#5182c2"/><stop offset="0.167" stop-color="#5183c2"/><stop offset="0.333" stop-color="#5183c2"/><stop offset="0.5" stop-color="#5185c3"/><stop offset="0.667" stop-color="#5185c3"/><stop offset="0.833" stop-color="#5086c4"/><stop offset="1" stop-color="#5086c4"/></linearGradient>
<linearGradient id="g246" x1="0" y1="0" x2="0" y2="1"><stop offset="0" stop-color="#5281c2"/><stop offset="0.167" stop-color="#5182c2"/><stop offset="0.333" stop-color="#5182c2"/><stop offset="0.5" stop-color="#5183c2"/><stop offset="0.667" stop-color="#5184c3"/><stop offset="0.833" stop-color="#5185c3"/><stop offset="1" stop-color="#5185c3"/></linearGradient>
<linearGradient id="g247" x1="0" y1="0" x2="0" y2="1"><stop offset="0" stop-color="#5180c1"/><stop offset="0.167" stop-color="#5281c1"/><stop offset="0.333" stop-color="#5182c2"/><stop offset="0.5" stop-color="#5182c2"/><stop offset="0.667" stop-color="#5183c2"/><stop offset="0.833" stop-color="#5183c2"/><stop offset="1" stop-color="#5184c3"/></linearGradient>
<linearGradient id="g248" x1="0" y1="0" x2="0" y2="1"><stop offset="0" stop-color="#5180c0"/><stop offset="0.167" stop-color="#5180c1"/><stop offset="0.333" stop-color="#5181c1"/><stop offset="0.5" stop-color="#5181c2"/><stop offset="0.667" stop-color="#5182c2"/><stop offset="0.833" stop-color="#5182c2"/><stop offset="1" stop-color="#5183c2"/></linearGradient>
<linearGradient id="g249" x1="0" y1="0" x2="0" y2="1"><stop offset="0" stop-color="#527fc0"/><stop offset="0.167" stop-color="#5180c0"/><stop offset="0.333" stop-color="#5180c1"/><stop offset="0.5" stop-color="#5181c1"/><stop offset="0.667" stop-color="#5281c2"/><stop offset="0.833" stop-color="#5182c2"/><stop offset="1" stop-color="#5182c2"/></linearGradient>
<linearGradient id="g250" x1="0" y1="0" x2="0" y2="1"><stop offset="0" stop-color="#527ec0"/><stop offset="0.167" stop-color="#527fc0"/><stop offset="0.333" stop-color="#517fc0"/><stop offset="0.5" stop-color="#5180c1"/><stop offset="0.667" stop-color="#5180c1"/><stop offset="0.833" stop-color="#5181c1"/><stop offset="1" stop-color="#5181c2"/></linearGradient>
<linearGradient id="g251" x1="0" y1="0" x2="0" y2="1"><stop offset="0" stop-color="#527dbf"/><stop offset="0.167" stop-color="#527ec0"/><stop offset="0.333" stop-color="#527fc0"/><stop offset="0.5" stop-color="#517fc0"/><stop offset="0.667" stop-color="#5180c0"/><stop offset="0.833" stop-color="#5180c1"/><stop offset="1" stop-color="#5181c1"/></linearGradient>
<linearGradient id="g252" x1="0" y1="0" x2="0" y2="1"><stop offset="0" stop-color="#517cbe"/><stop offset="0.167" stop-color="#527dbf"/><stop offset="0.333" stop-color="#527ec0"/><stop offset="0.5" stop-color="#527fc0"/><stop offset="0.667" stop-color="#517fc0"/><stop offset="0.833" stop-color="#5180c0"/><stop offset="1" stop-color="#5180c1"/></linearGradient>
<linearGradient id="g253" x1="0" y1="0" x2="0" y2="1"><stop offset="0" stop-color="#527cbe"/><stop offset="0.167" stop-color="#517cbe"/><stop offset="0.333" stop-color="#527dbf"/><stop offset="0.5" stop-color="#527ec0"/><stop offset="0.667" stop-color="#527ec0"/><stop offset="0.833" stop-color="#527fc0"/><stop offset="1" stop-color="#517fc0"/></linearGradient>
<linearGradient id="g254" x1="0" y1="0" x2="0" y2="1"><stop offset="0" stop-color="#537bbe"/><stop offset="0.167" stop-color="#527cbe"/><stop offset="0.333" stop-color="#527cbe"/><stop offset="0.5" stop-color="#527dbf"/><stop offset="0.667" stop-color="#527ec0"/><stop offset="0.833" stop-color="#527ec0"/><stop offset="1" stop-color="#527fc0"/></linearGradient>
<linearGradient id="g255" x1="0" y1="0" x2="0" y2="1"><stop offset="0" stop-color="#537abd"/><stop offset="0.167" stop-color="#537cbe"/><stop offset="0.333" stop-color="#527cbe"/><stop offset="0.5" stop-color="#527cbe"/><stop offset="0.667" stop-color="#527cbe"/><stop offset="0.833" stop-color="#527dbf"/><stop offset="1" stop-color="#527ec0"/></linearGradient>
<linearGradient id="g256" x1="0" y1="0" x2="0" y2="1"><stop offset="0" stop-color="#537abc"/><stop offset="0.167" stop-color="#537abd"/><stop offset="0.333" stop-color="#537bbe"/><stop offset="0.5" stop-color="#527cbe"/><stop offset="0.667" stop-color="#527cbe"/><stop offset="0.833" stop-color="#517cbe"/><stop offset="1" stop-color="#527dbf"/></linearGradient>
<linearGradient id="g257" x1="0" y1="0" x2="0" y2="1"><stop offset="0" stop-color="#537abc"/><stop offset="0.167" stop-color="#537abc"/><stop offset="0.333" stop-color="#537abd"/><stop offset="0.5" stop-color="#537bbd"/><stop offset="0.667" stop-color="#527cbe"/><stop offset="0.833" stop-color="#527cbe"/><stop offset="1" stop-color="#517cbe"/></linearGradient>
<linearGradient id="g258" x1="0" y1="0" x2="0" y2="1"><stop offset="0" stop-color="#5479bc"/><stop offset="0.167" stop-color="#537abd"/><stop offset="0.333" stop-color="#537abc"/><stop offset="0.5" stop-color="#537abc"/><stop offset="0.667" stop-color="#537bbd"/><stop offset="0.833" stop-color="#527cbe"/><stop offset="1" stop-color="#527cbe"/></linearGradient>
<linearGradient id="g259" x1="0" y1="0" x2="0" y2="1"><stop offset="0" stop-color="#5478bc"/><stop offset="0.167" stop-color="#5479bc"/><stop offset="0.333" stop-color="#537abd"/><stop offset="0.5" stop-color="#537abc"/><stop offset="0.667" stop-color="#537abc"/><stop offset="0.833" stop-color="#537bbd"/><stop offset="1" stop-color="#527cbe"/></linearGradient>
<linearGradient id="g260" x1="0" y1="0" x2="0" y2="1"><stop offset="0" stop-color="#5577bb"/><stop offset="0.167" stop-color="#5478bc"/><stop offset="0.333" stop-color="#5479bc"/><stop offset="0.5" stop-color="#537abd"/><stop offset="0.667" stop-color="#537abd"/><stop offset="0.833" stop-color="#537abc"/><stop offset="1" stop-color="#537bbd"/></linearGradient>
<linearGradient id="g261" x1="0" y1="0" x2="0" y2="1"><stop offset="0" stop-color="#5577bb"/><stop offset="0.167" stop-color="#5578bb"/><stop offset="0.333" stop-color="#5478bc"/><stop offset="0.5" stop-color="#5479bc"/><stop offset="0.667" stop-color="#537abc"/><stop offset="0.833" stop-color="#537abd"/><stop offset="1" stop-color="#537abc"/></linearGradient>
<linearGradient id="g262" x1="0" y1="0" x2="0" y2="1"><stop offset="0" stop-color="#5577bb"/><stop offset="0.167" stop-color="#5577bb"/><stop offset="0.333" stop-color="#5577bb"/><stop offset="0.5" stop-color="#5478bc"/><stop offset="0.667" stop-color="#5479bc"/><stop offset="0.833" stop-color="#537abc"/><stop offset="1" stop-color="#537abd"/></linearGradient>
<linearGradient id="g263" x1="0" y1="0" x2="0" y2="1"><stop offset="0" stop-color="#5676bb"/><stop offset="0.167" stop-color="#5577bb"/><stop offset="0.333" stop-color="#5577bb"/><stop offset="0.5" stop-color="#5578bb"/><stop offset="0.667" stop-color="#5478bc"/><stop offset="0.833" stop-color="#5479bc"/><stop offset="1" stop-color="#537abc"/></linearGradient>
<linearGradient id="g264" x1="0" y1="0" x2="0" y2="1"><stop offset="0" stop-color="#5676bb"/><stop offset="0.167" stop-color="#5676bb"/><stop offset="0.333" stop-color="#5577bb"/><stop offset="0.5" stop-color="#5577bb"/><stop offset="0.667" stop-color="#5578bb"/><stop offset="0.833" stop-color="#5478bc"/><stop offset="1" stop-color="#5479bc"/></linearGradient>
<linearGradient id="g265" x1="0" y1="0" x2="0" y2="1"><stop offset="0" stop-color="#5675bb"/><stop offset="0.167" stop-color="#5676bb"/><stop offset="0.333" stop-color="#5676bb"/><stop offset="0.5" stop-color="#5577bb"/><stop offset="0.667" stop-color="#5577bb"/><stop offset="0.833" stop-color="#5577bb"/><stop offset="1" stop-color="#5478bc"/></linearGradient>
<clipPath id="clip266"><rect x="913.80" y="644.30" width="552.00" height="481.00"/></clipPath>
<linearGradient id="cb267" x1="0" y1="0" x2="0" y2="1"><stop offset="0.0000" stop-color="#f4f020"/><stop offset="0.0256" stop-color="#f4ee22"/><stop offset="0.0513" stop-color="#f4eb22"/><stop offset="0.0769" stop-color="#f4e623"/><stop offset="0.1026" stop-color="#f8da2a"/><stop offset="0.1282" stop-color="#fbcb32"/><stop offset="0.1538" stop-color="#fdbf3a"/><stop offset="0.1795" stop-color="#f5b93a"/><stop offset="0.2051" stop-color="#e6ba2e"/><stop offset="0.2308" stop-color="#d5be28"/><stop offset="0.2564" stop-color="#c3c22d"/><stop offset="0.2821" stop-color="#adc436"/><stop offset="0.3077" stop-color="#98c645"/><stop offset="0.3333" stop-color="#83c65a"/><stop offset="0.3590" stop-color="#6ec76c"/><stop offset="0.3846" stop-color="#5cc77d"/><stop offset="0.4103" stop-color="#4bc58d"/><stop offset="0.4359" stop-color="#41c39a"/><stop offset="0.4615" stop-color="#37c0a6"/><stop offset="0.4872" stop-color="#29beb2"/><stop offset="0.5128" stop-color="#13babd"/><stop offset="0.5385" stop-color="#07b7c9"/><stop offset="0.5641" stop-color="#0fb2d3"/><stop offset="0.5897" stop-color="#1cacdb"/><stop offset="0.6154" stop-color="#27a4db"/><stop offset="0.6410" stop-color="#359cd9"/><stop offset="0.6667" stop-color="#4093d3"/><stop offset="0.6923" stop-color="#4d89c9"/><stop offset="0.7179" stop-color="#5281c1"/><stop offset="0.7436" stop-color="#537abd"/><stop offset="0.7692" stop-color="#5774ba"/><stop offset="0.7949" stop-color="#5770b8"/><stop offset="0.8205" stop-color="#576bb7"/><stop offset="0.8462" stop-color="#5666b6"/><stop offset="0.8718" stop-color="#5562b5"/><stop offset="0.8974" stop-color="#525bb0"/><stop offset="0.9231" stop-color="#4e54ab"/><stop offset="0.9487" stop-color="#4a4ba4"/><stop offset="0.9744" stop-color="#48459e"/><stop offset="1.0000" stop-color="#473f99"/></linearGradient></defs>
<rect width="1559" height="1208" fill="#fff"/>
<path d="M91.60 32.95V514.80H99.75 M91.60 32.95H99.75" fill="none" stroke="#5e5e5e" stroke-width="1.6"/>
<path d="M91.60 81.40h5" stroke="#5e5e5e" stroke-width="1.6"/>
<path d="M91.60 177.90h5" stroke="#5e5e5e" stroke-width="1.6"/>
<path d="M91.60 274.40h5" stroke="#5e5e5e" stroke-width="1.6"/>
<path d="M91.60 370.90h5" stroke="#5e5e5e" stroke-width="1.6"/>
<path d="M91.60 467.40h5" stroke="#5e5e5e" stroke-width="1.6"/>
<rect x="99" y="32.60" width="8" height="482.80" fill="#463f99"/>
<rect x="107" y="32.60" width="7" height="482.80" fill="#525ab0"/>
<rect x="114" y="32.60" width="8" height="482.80" fill="#5564b5"/>
<rect x="122" y="32.60" width="8" height="482.80" fill="#576cb8"/>
<rect x="130" y="32.60" width="8" height="482.80" fill="#5774ba"/>
<rect x="138" y="32.60" width="8" height="482.80" fill="url(#g1)"/>
<rect x="146" y="32.60" width="8" height="482.80" fill="url(#g2)"/>
<rect x="154" y="32.60" width="7" height="482.80" fill="url(#g3)"/>
<rect x="161" y="32.60" width="8" height="482.80" fill="url(#g4)"/>
<rect x="169" y="32.60" width="8" height="482.80" fill="url(#g5)"/>
<rect x="177" y="32.60" width="8" height="482.80" fill="url(#g6)"/>
<rect x="185" y="32.60" width="8" height="482.80" fill="url(#g7)"/>
<rect x="193" y="32.60" width="7" height="482.80" fill="url(#g8)"/>
<rect x="200" y="32.60" width="8" height="482.80" fill="url(#g9)"/>
<rect x="208" y="32.60" width="8" height="482.80" fill="url(#g10)"/>
<rect x="216" y="32.60" width="8" height="482.80" fill="url(#g11)"/>
<rect x="224" y="32.60" width="8" height="482.80" fill="url(#g12)"/>
<rect x="232" y="32.60" width="8" height="482.80" fill="url(#g13)"/>
<rect x="240" y="32.60" width="7" height="482.80" fill="url(#g14)"/>
<rect x="247" y="32.60" width="8" height="482.80" fill="url(#g15)"/>
<rect x="255" y="32.60" width="8" height="482.80" fill="url(#g16)"/>
<rect x="263" y="32.60" width="8" height="482.80" fill="url(#g17)"/>
<rect x="271" y="32.60" width="8" height="482.80" fill="url(#g18)"/>
<rect x="279" y="32.60" width="8" height="482.80" fill="url(#g19)"/>
<rect x="287" y="32.60" width="7" height="482.80" fill="url(#g20)"/>
<rect x="294" y="32.60" width="8" height="482.80" fill="url(#g21)"/>
<rect x="302" y="32.60" width="8" height="482.80" fill="url(#g22)"/>
<rect x="310" y="32.60" width="8" height="482.80" fill="url(#g23)"/>
<rect x="318" y="32.60" width="8" height="482.80" fill="url(#g24)"/>
<rect x="326" y="32.60" width="8" height="482.80" fill="url(#g25)"/>
<rect x="334" y="32.60" width="7" height="482.80" fill="url(#g26)"/>
<rect x="341" y="32.60" width="8" height="482.80" fill="url(#g27)"/>
<rect x="349" y="32.60" width="8" height="482.80" fill="url(#g28)"/>
<rect x="357" y="32.60" width="8" height="482.80" fill="url(#g29)"/>
<rect x="365" y="32.60" width="8" height="482.80" fill="url(#g30)"/>
<rect x="373" y="32.60" width="8" height="482.80" fill="url(#g31)"/>
<rect x="381" y="32.60" width="7" height="482.80" fill="url(#g32)"/>
<rect x="388" y="32.60" width="8" height="482.80" fill="url(#g33)"/>
<rect x="396" y="32.60" width="8" height="482.80" fill="url(#g34)"/>
<rect x="404" y="32.60" width="8" height="482.80" fill="url(#g35)"/>
<rect x="412" y="32.60" width="8" height="482.80" fill="url(#g36)"/>
<rect x="420" y="32.60" width="7" height="482.80" fill="url(#g37)"/>
<rect x="427" y="32.60" width="8" height="482.80" fill="url(#g38)"/>
<rect x="435" y="32.60" width="8" height="482.80" fill="url(#g39)"/>
<rect x="443" y="32.60" width="8" height="482.80" fill="url(#g40)"/>
<rect x="451" y="32.60" width="8" height="482.80" fill="url(#g41)"/>
<rect x="459" y="32.60" width="8" height="482.80" fill="url(#g42)"/>
<rect x="467" y="32.60" width="7" height="482.80" fill="url(#g43)"/>
<rect x="474" y="32.60" width="8" height="482.80" fill="url(#g44)"/>
<rect x="482" y="32.60" width="8" height="482.80" fill="url(#g45)"/>
<rect x="490" y="32.60" width="8" height="482.80" fill="url(#g46)"/>
<rect x="498" y="32.60" width="8" height="482.80" fill="url(#g47)"/>
<rect x="506" y="32.60" width="8" height="482.80" fill="url(#g48)"/>
<rect x="514" y="32.60" width="7" height="482.80" fill="url(#g49)"/>
<rect x="521" y="32.60" width="8" height="482.80" fill="url(#g50)"/>
<rect x="529" y="32.60" width="8" height="482.80" fill="url(#g51)"/>
<rect x="537" y="32.60" width="8" height="482.80" fill="url(#g52)"/>
<rect x="545" y="32.60" width="8" height="482.80" fill="url(#g53)"/>
<rect x="553" y="32.60" width="8" height="482.80" fill="url(#g54)"/>
<rect x="561" y="32.60" width="7" height="482.80" fill="url(#g55)"/>
<rect x="568" y="32.60" width="8" height="482.80" fill="url(#g56)"/>
<rect x="576" y="32.60" width="8" height="482.80" fill="url(#g57)"/>
<rect x="584" y="32.60" width="8" height="482.80" fill="url(#g58)"/>
<rect x="592" y="32.60" width="8" height="482.80" fill="url(#g59)"/>
<rect x="600" y="32.60" width="7" height="482.80" fill="url(#g60)"/>
<rect x="607" y="32.60" width="8" height="482.80" fill="url(#g61)"/>
<rect x="615" y="32.60" width="8" height="482.80" fill="url(#g62)"/>
<rect x="623" y="32.60" width="8" height="482.80" fill="url(#g63)"/>
<rect x="631" y="32.60" width="8" height="482.80" fill="url(#g64)"/>
<g clip-path="url(#clip65)" fill="none" stroke-linejoin="round">
<path d="M175.8 32.6L175.1 69.4M174.1 115.4L173.4 153.3L172.2 213.6L171.1 274.0L170.0 334.4L169.7 349.0M168.9 395.0L167.9 455.0L166.9 515.4M191.6 32.6L190.6 69.4M189.3 115.4L188.3 153.3L186.8 213.6L185.3 274.0L184.0 334.4L183.7 349.0M182.8 395.0L181.6 455.0L180.6 515.4M210.7 32.6L209.8 69.4M208.6 115.4L207.6 153.3L206.0 213.6L204.4 274.0L202.7 334.4L202.3 349.0M201.1 395.0L199.5 455.0L197.8 515.4M235.2 32.6L233.9 69.4M232.3 115.4L230.9 153.3L228.9 213.6L227.0 274.0L225.2 334.4L224.7 349.0M223.4 395.0L221.7 455.0L220.1 515.4M268.5 32.6L266.8 69.4M264.8 115.4L263.1 153.3L260.5 213.6L258.0 274.0L255.6 334.4L255.0 349.0M253.2 395.0L251.0 455.0L248.8 515.4M313.5 32.6L311.4 69.4M308.9 115.4L306.9 153.3L303.7 213.6L300.7 274.0L297.7 334.4L297.0 348.4M294.7 394.4L294.7 394.7L291.9 455.0L289.1 515.4M377.4 32.6L374.6 69.4M371.1 115.4L368.3 153.3L364.1 213.6L360.0 274.0L356.2 334.4L355.4 347.5M352.6 393.5L352.5 394.7L349.0 455.0L345.7 515.4M467.4 32.6L463.5 69.0M459.8 104.0L454.9 153.3L449.2 213.6L443.8 274.0L438.9 334.4L437.9 347.3M435.2 382.3L434.3 394.7L430.0 455.0L426.2 515.4M585.1 32.6L581.4 41.6L577.7 68.1L577.7 68.3M574.4 92.3L569.4 130.0L561.7 200.0L549.7 330.0L548.5 346.0M546.6 370.0L535.5 515.4" stroke="#fff" stroke-opacity="0.13" stroke-width="5.50"/>
<path d="M175.8 32.6L175.1 69.4M174.1 115.4L173.4 153.3L172.2 213.6L171.1 274.0L170.0 334.4L169.7 349.0M168.9 395.0L167.9 455.0L166.9 515.4M191.6 32.6L190.6 69.4M189.3 115.4L188.3 153.3L186.8 213.6L185.3 274.0L184.0 334.4L183.7 349.0M182.8 395.0L181.6 455.0L180.6 515.4M210.7 32.6L209.8 69.4M208.6 115.4L207.6 153.3L206.0 213.6L204.4 274.0L202.7 334.4L202.3 349.0M201.1 395.0L199.5 455.0L197.8 515.4M235.2 32.6L233.9 69.4M232.3 115.4L230.9 153.3L228.9 213.6L227.0 274.0L225.2 334.4L224.7 349.0M223.4 395.0L221.7 455.0L220.1 515.4M268.5 32.6L266.8 69.4M264.8 115.4L263.1 153.3L260.5 213.6L258.0 274.0L255.6 334.4L255.0 349.0M253.2 395.0L251.0 455.0L248.8 515.4M313.5 32.6L311.4 69.4M308.9 115.4L306.9 153.3L303.7 213.6L300.7 274.0L297.7 334.4L297.0 348.4M294.7 394.4L294.7 394.7L291.9 455.0L289.1 515.4M377.4 32.6L374.6 69.4M371.1 115.4L368.3 153.3L364.1 213.6L360.0 274.0L356.2 334.4L355.4 347.5M352.6 393.5L352.5 394.7L349.0 455.0L345.7 515.4M467.4 32.6L463.5 69.0M459.8 104.0L454.9 153.3L449.2 213.6L443.8 274.0L438.9 334.4L437.9 347.3M435.2 382.3L434.3 394.7L430.0 455.0L426.2 515.4M585.1 32.6L581.4 41.6L577.7 68.1L577.7 68.3M574.4 92.3L569.4 130.0L561.7 200.0L549.7 330.0L548.5 346.0M546.6 370.0L535.5 515.4" stroke="#000" stroke-width="2.00"/>
</g>
<text x="174.60" y="92.40" transform="rotate(-88.83 174.60 92.40)" font-size="23.0" text-anchor="middle" dominant-baseline="central" stroke="#000" stroke-width="0.45">-40</text>
<text x="189.91" y="92.40" transform="rotate(-88.41 189.91 92.40)" font-size="23.0" text-anchor="middle" dominant-baseline="central" stroke="#000" stroke-width="0.45">-35</text>
<text x="209.17" y="92.40" transform="rotate(-88.51 209.17 92.40)" font-size="23.0" text-anchor="middle" dominant-baseline="central" stroke="#000" stroke-width="0.45">-30</text>
<text x="233.05" y="92.40" transform="rotate(-87.98 233.05 92.40)" font-size="23.0" text-anchor="middle" dominant-baseline="central" stroke="#000" stroke-width="0.45">-25</text>
<text x="265.76" y="92.40" transform="rotate(-87.45 265.76 92.40)" font-size="23.0" text-anchor="middle" dominant-baseline="central" stroke="#000" stroke-width="0.45">-20</text>
<text x="310.18" y="92.40" transform="rotate(-86.89 310.18 92.40)" font-size="23.0" text-anchor="middle" dominant-baseline="central" stroke="#000" stroke-width="0.45">-15</text>
<text x="372.81" y="92.40" transform="rotate(-85.71 372.81 92.40)" font-size="23.0" text-anchor="middle" dominant-baseline="central" stroke="#000" stroke-width="0.45">-10</text>
<text x="461.62" y="86.50" transform="rotate(-83.96 461.62 86.50)" font-size="23.0" text-anchor="middle" dominant-baseline="central" stroke="#000" stroke-width="0.45">-5</text>
<text x="576.02" y="80.30" transform="rotate(-82.17 576.02 80.30)" font-size="23.0" text-anchor="middle" dominant-baseline="central" stroke="#000" stroke-width="0.45">0</text>
<text x="169.29" y="372.00" transform="rotate(-88.99 169.29 372.00)" font-size="23.0" text-anchor="middle" dominant-baseline="central" stroke="#000" stroke-width="0.45">-40</text>
<text x="183.23" y="372.00" transform="rotate(-88.83 183.23 372.00)" font-size="23.0" text-anchor="middle" dominant-baseline="central" stroke="#000" stroke-width="0.45">-35</text>
<text x="201.72" y="372.00" transform="rotate(-88.45 201.72 372.00)" font-size="23.0" text-anchor="middle" dominant-baseline="central" stroke="#000" stroke-width="0.45">-30</text>
<text x="224.07" y="372.00" transform="rotate(-88.33 224.07 372.00)" font-size="23.0" text-anchor="middle" dominant-baseline="central" stroke="#000" stroke-width="0.45">-25</text>
<text x="254.13" y="372.00" transform="rotate(-87.77 254.13 372.00)" font-size="23.0" text-anchor="middle" dominant-baseline="central" stroke="#000" stroke-width="0.45">-20</text>
<text x="295.86" y="371.40" transform="rotate(-87.22 295.86 371.40)" font-size="23.0" text-anchor="middle" dominant-baseline="central" stroke="#000" stroke-width="0.45">-15</text>
<text x="353.98" y="370.50" transform="rotate(-86.51 353.98 370.50)" font-size="23.0" text-anchor="middle" dominant-baseline="central" stroke="#000" stroke-width="0.45">-10</text>
<text x="436.54" y="364.80" transform="rotate(-85.65 436.54 364.80)" font-size="23.0" text-anchor="middle" dominant-baseline="central" stroke="#000" stroke-width="0.45">-5</text>
<text x="547.56" y="358.00" transform="rotate(-85.62 547.56 358.00)" font-size="23.0" text-anchor="middle" dominant-baseline="central" stroke="#000" stroke-width="0.45">0</text>
<text x="81.30" y="82.00" text-anchor="end" dominant-baseline="central" class="tl">100</text>
<text x="81.30" y="178.50" text-anchor="end" dominant-baseline="central" class="tl">200</text>
<text x="81.30" y="275.00" text-anchor="end" dominant-baseline="central" class="tl">300</text>
<text x="81.30" y="371.50" text-anchor="end" dominant-baseline="central" class="tl">400</text>
<text x="81.30" y="468.00" text-anchor="end" dominant-baseline="central" class="tl">500</text>
<text x="91.60" y="555.90" text-anchor="middle" class="tl">0</text>
<text x="247.95" y="555.90" text-anchor="middle" class="tl">10</text>
<text x="404.30" y="555.90" text-anchor="middle" class="tl">20</text>
<text x="560.65" y="555.90" text-anchor="middle" class="tl">30</text>
<text x="365.20" y="592.40" text-anchor="middle" class="tl">Range(km)</text>
<text x="23.10" y="274.00" transform="rotate(-90 23.10 274.00)" text-anchor="middle" class="tl">Depth(m)</text>
<rect x="654.50" y="32.80" width="30.50" height="481.90" fill="url(#cb66)" stroke="#3a3a3a" stroke-width="1.2"/>
<path d="M685.00 52.12h-4.5" stroke="#262626" stroke-width="1.4"/>
<text x="694.00" y="53.32" dominant-baseline="central" class="tl">0</text>
<path d="M685.00 107.32h-4.5" stroke="#262626" stroke-width="1.4"/>
<text x="694.00" y="108.52" dominant-baseline="central" class="tl">-10</text>
<path d="M685.00 162.52h-4.5" stroke="#262626" stroke-width="1.4"/>
<text x="694.00" y="163.72" dominant-baseline="central" class="tl">-20</text>
<path d="M685.00 217.72h-4.5" stroke="#262626" stroke-width="1.4"/>
<text x="694.00" y="218.92" dominant-baseline="central" class="tl">-30</text>
<path d="M685.00 272.92h-4.5" stroke="#262626" stroke-width="1.4"/>
<text x="694.00" y="274.12" dominant-baseline="central" class="tl">-40</text>
<path d="M685.00 328.12h-4.5" stroke="#262626" stroke-width="1.4"/>
<text x="694.00" y="329.32" dominant-baseline="central" class="tl">-50</text>
<path d="M685.00 383.32h-4.5" stroke="#262626" stroke-width="1.4"/>
<text x="694.00" y="384.52" dominant-baseline="central" class="tl">-60</text>
<path d="M685.00 438.52h-4.5" stroke="#262626" stroke-width="1.4"/>
<text x="694.00" y="439.72" dominant-baseline="central" class="tl">-70</text>
<path d="M685.00 493.72h-4.5" stroke="#262626" stroke-width="1.4"/>
<text x="694.00" y="494.92" dominant-baseline="central" class="tl">-80</text>
<text x="3.40" y="24.10" class="pl">A</text>
<path d="M905.40 32.95V514.80H913.70 M905.40 32.95H913.70" fill="none" stroke="#5e5e5e" stroke-width="1.6"/>
<path d="M905.40 81.40h5" stroke="#5e5e5e" stroke-width="1.6"/>
<path d="M905.40 177.90h5" stroke="#5e5e5e" stroke-width="1.6"/>
<path d="M905.40 274.40h5" stroke="#5e5e5e" stroke-width="1.6"/>
<path d="M905.40 370.90h5" stroke="#5e5e5e" stroke-width="1.6"/>
<path d="M905.40 467.40h5" stroke="#5e5e5e" stroke-width="1.6"/>
<rect x="913" y="32.60" width="8" height="482.80" fill="#f4ef21"/>
<rect x="921" y="32.60" width="7" height="482.80" fill="#f3ea23"/>
<rect x="928" y="32.60" width="8" height="482.80" fill="url(#g67)"/>
<rect x="936" y="32.60" width="8" height="482.80" fill="url(#g68)"/>
<rect x="944" y="32.60" width="8" height="482.80" fill="url(#g69)"/>
<rect x="952" y="32.60" width="8" height="482.80" fill="url(#g70)"/>
<rect x="960" y="32.60" width="7" height="482.80" fill="url(#g71)"/>
<rect x="967" y="32.60" width="8" height="482.80" fill="url(#g72)"/>
<rect x="975" y="32.60" width="8" height="482.80" fill="url(#g73)"/>
<rect x="983" y="32.60" width="8" height="482.80" fill="url(#g74)"/>
<rect x="991" y="32.60" width="8" height="482.80" fill="url(#g75)"/>
<rect x="999" y="32.60" width="8" height="482.80" fill="url(#g76)"/>
<rect x="1007" y="32.60" width="7" height="482.80" fill="url(#g77)"/>
<rect x="1014" y="32.60" width="8" height="482.80" fill="url(#g78)"/>
<rect x="1022" y="32.60" width="8" height="482.80" fill="url(#g79)"/>
<rect x="1030" y="32.60" width="8" height="482.80" fill="url(#g80)"/>
<rect x="1038" y="32.60" width="8" height="482.80" fill="url(#g81)"/>
<rect x="1046" y="32.60" width="7" height="482.80" fill="url(#g82)"/>
<rect x="1053" y="32.60" width="8" height="482.80" fill="url(#g83)"/>
<rect x="1061" y="32.60" width="8" height="482.80" fill="url(#g84)"/>
<rect x="1069" y="32.60" width="8" height="482.80" fill="url(#g85)"/>
<rect x="1077" y="32.60" width="8" height="482.80" fill="url(#g86)"/>
<rect x="1085" y="32.60" width="8" height="482.80" fill="url(#g87)"/>
<rect x="1093" y="32.60" width="7" height="482.80" fill="url(#g88)"/>
<rect x="1100" y="32.60" width="8" height="482.80" fill="url(#g89)"/>
<rect x="1108" y="32.60" width="8" height="482.80" fill="url(#g90)"/>
<rect x="1116" y="32.60" width="8" height="482.80" fill="url(#g91)"/>
<rect x="1124" y="32.60" width="8" height="482.80" fill="url(#g92)"/>
<rect x="1132" y="32.60" width="8" height="482.80" fill="url(#g93)"/>
<rect x="1140" y="32.60" width="7" height="482.80" fill="url(#g94)"/>
<rect x="1147" y="32.60" width="8" height="482.80" fill="url(#g95)"/>
<rect x="1155" y="32.60" width="8" height="482.80" fill="url(#g96)"/>
<rect x="1163" y="32.60" width="8" height="482.80" fill="url(#g97)"/>
<rect x="1171" y="32.60" width="8" height="482.80" fill="url(#g98)"/>
<rect x="1179" y="32.60" width="7" height="482.80" fill="url(#g99)"/>
<rect x="1186" y="32.60" width="8" height="482.80" fill="url(#g100)"/>
<rect x="1194" y="32.60" width="8" height="482.80" fill="url(#g101)"/>
<rect x="1202" y="32.60" width="8" height="482.80" fill="url(#g102)"/>
<rect x="1210" y="32.60" width="8" height="482.80" fill="url(#g103)"/>
<rect x="1218" y="32.60" width="8" height="482.80" fill="url(#g104)"/>
<rect x="1226" y="32.60" width="7" height="482.80" fill="url(#g105)"/>
<rect x="1233" y="32.60" width="8" height="482.80" fill="url(#g106)"/>
<rect x="1241" y="32.60" width="8" height="482.80" fill="url(#g107)"/>
<rect x="1249" y="32.60" width="8" height="482.80" fill="url(#g108)"/>
<rect x="1257" y="32.60" width="8" height="482.80" fill="url(#g109)"/>
<rect x="1265" y="32.60" width="8" height="482.80" fill="url(#g110)"/>
<rect x="1273" y="32.60" width="7" height="482.80" fill="url(#g111)"/>
<rect x="1280" y="32.60" width="8" height="482.80" fill="url(#g112)"/>
<rect x="1288" y="32.60" width="8" height="482.80" fill="url(#g113)"/>
<rect x="1296" y="32.60" width="8" height="482.80" fill="url(#g114)"/>
<rect x="1304" y="32.60" width="8" height="482.80" fill="url(#g115)"/>
<rect x="1312" y="32.60" width="7" height="482.80" fill="url(#g116)"/>
<rect x="1319" y="32.60" width="8" height="482.80" fill="url(#g117)"/>
<rect x="1327" y="32.60" width="8" height="482.80" fill="url(#g118)"/>
<rect x="1335" y="32.60" width="8" height="482.80" fill="url(#g119)"/>
<rect x="1343" y="32.60" width="8" height="482.80" fill="url(#g120)"/>
<rect x="1351" y="32.60" width="8" height="482.80" fill="url(#g121)"/>
<rect x="1359" y="32.60" width="7" height="482.80" fill="url(#g122)"/>
<rect x="1366" y="32.60" width="8" height="482.80" fill="url(#g123)"/>
<rect x="1374" y="32.60" width="8" height="482.80" fill="url(#g124)"/>
<rect x="1382" y="32.60" width="8" height="482.80" fill="url(#g125)"/>
<rect x="1390" y="32.60" width="8" height="482.80" fill="url(#g126)"/>
<rect x="1398" y="32.60" width="7" height="482.80" fill="url(#g127)"/>
<rect x="1405" y="32.60" width="8" height="482.80" fill="url(#g128)"/>
<rect x="1413" y="32.60" width="8" height="482.80" fill="url(#g129)"/>
<rect x="1421" y="32.60" width="8" height="482.80" fill="url(#g130)"/>
<rect x="1429" y="32.60" width="8" height="482.80" fill="url(#g131)"/>
<rect x="1437" y="32.60" width="8" height="482.80" fill="url(#g132)"/>
<rect x="1445" y="32.60" width="7" height="482.80" fill="url(#g133)"/>
<g clip-path="url(#clip134)" fill="none" stroke-linejoin="round">
<path d="M950.1 32.6L949.6 92.9L949.1 153.3L949.0 162.4M948.7 198.8L948.6 213.6L948.1 274.0L947.5 334.4L947.0 394.7L946.6 442.3M946.2 478.7L945.9 515.4M959.2 32.6L958.5 92.9L957.7 153.3L957.6 162.4M957.3 198.8L957.1 213.6L956.5 274.0L956.0 334.4L955.5 394.7L955.1 442.3M954.9 478.7L954.7 515.4M970.1 32.6L969.3 92.9L968.5 153.3L968.3 162.4M967.9 198.8L967.7 213.6L966.9 274.0L966.2 334.4L965.5 394.7L965.0 442.3M964.6 478.7L964.2 515.4M983.0 32.6L981.9 92.9L980.8 153.3L980.7 162.4M980.0 198.8L979.8 213.6L978.8 274.0L977.8 334.4L976.8 394.7L976.0 442.3M975.5 478.7L974.9 515.4M997.5 32.6L996.0 92.9L994.6 153.3L994.4 162.4M993.6 198.8L993.3 213.6L992.1 274.0L990.9 334.4L989.9 394.7L989.2 442.3M988.7 478.7L988.1 515.4M1013.9 32.6L1012.4 92.9L1011.0 153.3L1010.8 162.4M1009.9 198.8L1009.6 213.6L1008.3 274.0L1007.0 334.4L1005.8 394.7L1004.9 442.3M1004.2 478.7L1003.6 515.4M1035.2 32.6L1033.5 92.9L1031.8 153.3L1031.6 162.4M1030.6 198.8L1030.2 213.6L1028.6 274.0L1027.1 334.4L1025.6 394.7L1024.4 442.3M1023.5 478.7L1022.6 515.4M1062.7 32.6L1060.6 92.9L1058.6 153.3L1058.3 162.4M1057.1 198.8L1056.6 213.6L1054.6 274.0L1052.7 334.4L1050.9 394.7L1049.5 442.3M1048.5 478.7L1047.4 515.4M1099.4 32.6L1096.7 92.9L1094.1 153.3L1093.8 162.4M1092.3 198.8L1091.7 213.6L1089.3 274.0L1087.0 334.4L1084.7 394.7L1083.1 442.3M1081.8 478.7L1080.6 515.4M1150.6 32.6L1147.5 92.9L1144.5 153.3L1144.0 162.4M1142.2 198.8L1141.4 213.6L1138.4 274.0L1135.4 334.4L1132.5 394.7L1130.2 442.3M1128.5 478.7L1126.7 515.4M1227.5 32.6L1223.1 92.9L1218.9 153.3L1218.3 162.4M1215.8 198.8L1214.8 213.6L1210.9 274.0L1207.2 334.4L1203.6 394.7L1201.0 442.3M1199.0 478.7L1197.0 515.4" stroke="#fff" stroke-opacity="0.13" stroke-width="5.50"/>
<path d="M950.1 32.6L949.6 92.9L949.1 153.3L949.0 162.4M948.7 198.8L948.6 213.6L948.1 274.0L947.5 334.4L947.0 394.7L946.6 442.3M946.2 478.7L945.9 515.4M959.2 32.6L958.5 92.9L957.7 153.3L957.6 162.4M957.3 198.8L957.1 213.6L956.5 274.0L956.0 334.4L955.5 394.7L955.1 442.3M954.9 478.7L954.7 515.4M970.1 32.6L969.3 92.9L968.5 153.3L968.3 162.4M967.9 198.8L967.7 213.6L966.9 274.0L966.2 334.4L965.5 394.7L965.0 442.3M964.6 478.7L964.2 515.4M983.0 32.6L981.9 92.9L980.8 153.3L980.7 162.4M980.0 198.8L979.8 213.6L978.8 274.0L977.8 334.4L976.8 394.7L976.0 442.3M975.5 478.7L974.9 515.4M997.5 32.6L996.0 92.9L994.6 153.3L994.4 162.4M993.6 198.8L993.3 213.6L992.1 274.0L990.9 334.4L989.9 394.7L989.2 442.3M988.7 478.7L988.1 515.4M1013.9 32.6L1012.4 92.9L1011.0 153.3L1010.8 162.4M1009.9 198.8L1009.6 213.6L1008.3 274.0L1007.0 334.4L1005.8 394.7L1004.9 442.3M1004.2 478.7L1003.6 515.4M1035.2 32.6L1033.5 92.9L1031.8 153.3L1031.6 162.4M1030.6 198.8L1030.2 213.6L1028.6 274.0L1027.1 334.4L1025.6 394.7L1024.4 442.3M1023.5 478.7L1022.6 515.4M1062.7 32.6L1060.6 92.9L1058.6 153.3L1058.3 162.4M1057.1 198.8L1056.6 213.6L1054.6 274.0L1052.7 334.4L1050.9 394.7L1049.5 442.3M1048.5 478.7L1047.4 515.4M1099.4 32.6L1096.7 92.9L1094.1 153.3L1093.8 162.4M1092.3 198.8L1091.7 213.6L1089.3 274.0L1087.0 334.4L1084.7 394.7L1083.1 442.3M1081.8 478.7L1080.6 515.4M1150.6 32.6L1147.5 92.9L1144.5 153.3L1144.0 162.4M1142.2 198.8L1141.4 213.6L1138.4 274.0L1135.4 334.4L1132.5 394.7L1130.2 442.3M1128.5 478.7L1126.7 515.4M1227.5 32.6L1223.1 92.9L1218.9 153.3L1218.3 162.4M1215.8 198.8L1214.8 213.6L1210.9 274.0L1207.2 334.4L1203.6 394.7L1201.0 442.3M1199.0 478.7L1197.0 515.4" stroke="#000" stroke-width="2.00"/>
</g>
<text x="948.87" y="180.60" transform="rotate(-89.51 948.87 180.60)" font-size="23.0" text-anchor="middle" dominant-baseline="central" stroke="#000" stroke-width="0.45">60</text>
<text x="957.45" y="180.60" transform="rotate(-89.38 957.45 180.60)" font-size="23.0" text-anchor="middle" dominant-baseline="central" stroke="#000" stroke-width="0.45">55</text>
<text x="968.09" y="180.60" transform="rotate(-89.25 968.09 180.60)" font-size="23.0" text-anchor="middle" dominant-baseline="central" stroke="#000" stroke-width="0.45">50</text>
<text x="980.36" y="180.60" transform="rotate(-89.01 980.36 180.60)" font-size="23.0" text-anchor="middle" dominant-baseline="central" stroke="#000" stroke-width="0.45">45</text>
<text x="993.99" y="180.60" transform="rotate(-88.76 993.99 180.60)" font-size="23.0" text-anchor="middle" dominant-baseline="central" stroke="#000" stroke-width="0.45">40</text>
<text x="1010.36" y="180.60" transform="rotate(-88.69 1010.36 180.60)" font-size="23.0" text-anchor="middle" dominant-baseline="central" stroke="#000" stroke-width="0.45">35</text>
<text x="1031.12" y="180.60" transform="rotate(-88.46 1031.12 180.60)" font-size="23.0" text-anchor="middle" dominant-baseline="central" stroke="#000" stroke-width="0.45">30</text>
<text x="1057.67" y="180.60" transform="rotate(-88.10 1057.67 180.60)" font-size="23.0" text-anchor="middle" dominant-baseline="central" stroke="#000" stroke-width="0.45">25</text>
<text x="1093.01" y="180.60" transform="rotate(-87.65 1093.01 180.60)" font-size="23.0" text-anchor="middle" dominant-baseline="central" stroke="#000" stroke-width="0.45">20</text>
<text x="1143.09" y="180.60" transform="rotate(-87.12 1143.09 180.60)" font-size="23.0" text-anchor="middle" dominant-baseline="central" stroke="#000" stroke-width="0.45">15</text>
<text x="1217.04" y="180.60" transform="rotate(-86.14 1217.04 180.60)" font-size="23.0" text-anchor="middle" dominant-baseline="central" stroke="#000" stroke-width="0.45">10</text>
<text x="946.40" y="460.50" transform="rotate(-89.47 946.40 460.50)" font-size="23.0" text-anchor="middle" dominant-baseline="central" stroke="#000" stroke-width="0.45">60</text>
<text x="955.01" y="460.50" transform="rotate(-89.63 955.01 460.50)" font-size="23.0" text-anchor="middle" dominant-baseline="central" stroke="#000" stroke-width="0.45">55</text>
<text x="964.78" y="460.50" transform="rotate(-89.40 964.78 460.50)" font-size="23.0" text-anchor="middle" dominant-baseline="central" stroke="#000" stroke-width="0.45">50</text>
<text x="975.76" y="460.50" transform="rotate(-89.11 975.76 460.50)" font-size="23.0" text-anchor="middle" dominant-baseline="central" stroke="#000" stroke-width="0.45">45</text>
<text x="988.90" y="460.50" transform="rotate(-89.18 988.90 460.50)" font-size="23.0" text-anchor="middle" dominant-baseline="central" stroke="#000" stroke-width="0.45">40</text>
<text x="1004.58" y="460.50" transform="rotate(-88.95 1004.58 460.50)" font-size="23.0" text-anchor="middle" dominant-baseline="central" stroke="#000" stroke-width="0.45">35</text>
<text x="1023.94" y="460.50" transform="rotate(-88.61 1023.94 460.50)" font-size="23.0" text-anchor="middle" dominant-baseline="central" stroke="#000" stroke-width="0.45">30</text>
<text x="1048.98" y="460.50" transform="rotate(-88.35 1048.98 460.50)" font-size="23.0" text-anchor="middle" dominant-baseline="central" stroke="#000" stroke-width="0.45">25</text>
<text x="1082.43" y="460.50" transform="rotate(-88.05 1082.43 460.50)" font-size="23.0" text-anchor="middle" dominant-baseline="central" stroke="#000" stroke-width="0.45">20</text>
<text x="1129.35" y="460.50" transform="rotate(-87.27 1129.35 460.50)" font-size="23.0" text-anchor="middle" dominant-baseline="central" stroke="#000" stroke-width="0.45">15</text>
<text x="1199.96" y="460.50" transform="rotate(-86.92 1199.96 460.50)" font-size="23.0" text-anchor="middle" dominant-baseline="central" stroke="#000" stroke-width="0.45">10</text>
<text x="895.10" y="82.00" text-anchor="end" dominant-baseline="central" class="tl">100</text>
<text x="895.10" y="178.50" text-anchor="end" dominant-baseline="central" class="tl">200</text>
<text x="895.10" y="275.00" text-anchor="end" dominant-baseline="central" class="tl">300</text>
<text x="895.10" y="371.50" text-anchor="end" dominant-baseline="central" class="tl">400</text>
<text x="895.10" y="468.00" text-anchor="end" dominant-baseline="central" class="tl">500</text>
<text x="905.40" y="555.90" text-anchor="middle" class="tl">0</text>
<text x="1061.70" y="555.90" text-anchor="middle" class="tl">10</text>
<text x="1218.00" y="555.90" text-anchor="middle" class="tl">20</text>
<text x="1374.30" y="555.90" text-anchor="middle" class="tl">30</text>
<text x="1178.90" y="592.40" text-anchor="middle" class="tl">Range(km)</text>
<text x="836.90" y="274.00" transform="rotate(-90 836.90 274.00)" text-anchor="middle" class="tl">Depth(m)</text>
<rect x="1468.00" y="33.20" width="30.00" height="481.40" fill="url(#cb135)" stroke="#3a3a3a" stroke-width="1.2"/>
<path d="M1498.00 57.78h-4.5" stroke="#262626" stroke-width="1.4"/>
<text x="1507.00" y="58.98" dominant-baseline="central" class="tl">80</text>
<path d="M1498.00 117.73h-4.5" stroke="#262626" stroke-width="1.4"/>
<text x="1507.00" y="118.93" dominant-baseline="central" class="tl">70</text>
<path d="M1498.00 177.68h-4.5" stroke="#262626" stroke-width="1.4"/>
<text x="1507.00" y="178.88" dominant-baseline="central" class="tl">60</text>
<path d="M1498.00 237.63h-4.5" stroke="#262626" stroke-width="1.4"/>
<text x="1507.00" y="238.83" dominant-baseline="central" class="tl">50</text>
<path d="M1498.00 297.58h-4.5" stroke="#262626" stroke-width="1.4"/>
<text x="1507.00" y="298.78" dominant-baseline="central" class="tl">40</text>
<path d="M1498.00 357.53h-4.5" stroke="#262626" stroke-width="1.4"/>
<text x="1507.00" y="358.73" dominant-baseline="central" class="tl">30</text>
<path d="M1498.00 417.48h-4.5" stroke="#262626" stroke-width="1.4"/>
<text x="1507.00" y="418.68" dominant-baseline="central" class="tl">20</text>
<path d="M1498.00 477.43h-4.5" stroke="#262626" stroke-width="1.4"/>
<text x="1507.00" y="478.63" dominant-baseline="central" class="tl">10</text>
<text x="811.00" y="24.30" class="pl">B</text>
<path d="M91.40 644.80V1124.30H100.00 M91.40 644.80H100.00" fill="none" stroke="#5e5e5e" stroke-width="1.6"/>
<path d="M91.40 692.50h5" stroke="#5e5e5e" stroke-width="1.6"/>
<path d="M91.40 788.73h5" stroke="#5e5e5e" stroke-width="1.6"/>
<path d="M91.40 884.95h5" stroke="#5e5e5e" stroke-width="1.6"/>
<path d="M91.40 981.18h5" stroke="#5e5e5e" stroke-width="1.6"/>
<path d="M91.40 1077.40h5" stroke="#5e5e5e" stroke-width="1.6"/>
<rect x="99" y="644.30" width="8" height="481.00" fill="#47429c"/>
<rect x="107" y="644.30" width="8" height="481.00" fill="#5665b6"/>
<rect x="115" y="644.30" width="7" height="481.00" fill="url(#g136)"/>
<rect x="122" y="644.30" width="8" height="481.00" fill="url(#g137)"/>
<rect x="130" y="644.30" width="8" height="481.00" fill="url(#g138)"/>
<rect x="138" y="644.30" width="8" height="481.00" fill="url(#g139)"/>
<rect x="146" y="644.30" width="8" height="481.00" fill="url(#g140)"/>
<rect x="154" y="644.30" width="8" height="481.00" fill="url(#g141)"/>
<rect x="162" y="644.30" width="7" height="481.00" fill="url(#g142)"/>
<rect x="169" y="644.30" width="8" height="481.00" fill="url(#g143)"/>
<rect x="177" y="644.30" width="8" height="481.00" fill="url(#g144)"/>
<rect x="185" y="644.30" width="8" height="481.00" fill="url(#g145)"/>
<rect x="193" y="644.30" width="8" height="481.00" fill="url(#g146)"/>
<rect x="201" y="644.30" width="7" height="481.00" fill="url(#g147)"/>
<rect x="208" y="644.30" width="8" height="481.00" fill="url(#g148)"/>
<rect x="216" y="644.30" width="8" height="481.00" fill="url(#g149)"/>
<rect x="224" y="644.30" width="8" height="481.00" fill="url(#g150)"/>
<rect x="232" y="644.30" width="8" height="481.00" fill="url(#g151)"/>
<rect x="240" y="644.30" width="8" height="481.00" fill="url(#g152)"/>
<rect x="248" y="644.30" width="7" height="481.00" fill="url(#g153)"/>
<rect x="255" y="644.30" width="8" height="481.00" fill="url(#g154)"/>
<rect x="263" y="644.30" width="8" height="481.00" fill="url(#g155)"/>
<rect x="271" y="644.30" width="8" height="481.00" fill="url(#g156)"/>
<rect x="279" y="644.30" width="8" height="481.00" fill="url(#g157)"/>
<rect x="287" y="644.30" width="8" height="481.00" fill="url(#g158)"/>
<rect x="295" y="644.30" width="7" height="481.00" fill="url(#g159)"/>
<rect x="302" y="644.30" width="8" height="481.00" fill="url(#g160)"/>
<rect x="310" y="644.30" width="8" height="481.00" fill="url(#g161)"/>
<rect x="318" y="644.30" width="8" height="481.00" fill="url(#g162)"/>
<rect x="326" y="644.30" width="8" height="481.00" fill="url(#g163)"/>
<rect x="334" y="644.30" width="7" height="481.00" fill="url(#g164)"/>
<rect x="341" y="644.30" width="8" height="481.00" fill="url(#g165)"/>
<rect x="349" y="644.30" width="8" height="481.00" fill="url(#g166)"/>
<rect x="357" y="644.30" width="8" height="481.00" fill="url(#g167)"/>
<rect x="365" y="644.30" width="8" height="481.00" fill="url(#g168)"/>
<rect x="373" y="644.30" width="8" height="481.00" fill="url(#g169)"/>
<rect x="381" y="644.30" width="7" height="481.00" fill="url(#g170)"/>
<rect x="388" y="644.30" width="8" height="481.00" fill="url(#g171)"/>
<rect x="396" y="644.30" width="8" height="481.00" fill="url(#g172)"/>
<rect x="404" y="644.30" width="8" height="481.00" fill="url(#g173)"/>
<rect x="412" y="644.30" width="8" height="481.00" fill="url(#g174)"/>
<rect x="420" y="644.30" width="7" height="481.00" fill="url(#g175)"/>
<rect x="427" y="644.30" width="8" height="481.00" fill="url(#g176)"/>
<rect x="435" y="644.30" width="8" height="481.00" fill="url(#g177)"/>
<rect x="443" y="644.30" width="8" height="481.00" fill="url(#g178)"/>
<rect x="451" y="644.30" width="8" height="481.00" fill="url(#g179)"/>
<rect x="459" y="644.30" width="8" height="481.00" fill="url(#g180)"/>
<rect x="467" y="644.30" width="7" height="481.00" fill="url(#g181)"/>
<rect x="474" y="644.30" width="8" height="481.00" fill="url(#g182)"/>
<rect x="482" y="644.30" width="8" height="481.00" fill="url(#g183)"/>
<rect x="490" y="644.30" width="8" height="481.00" fill="url(#g184)"/>
<rect x="498" y="644.30" width="8" height="481.00" fill="url(#g185)"/>
<rect x="506" y="644.30" width="7" height="481.00" fill="url(#g186)"/>
<rect x="513" y="644.30" width="8" height="481.00" fill="url(#g187)"/>
<rect x="521" y="644.30" width="8" height="481.00" fill="url(#g188)"/>
<rect x="529" y="644.30" width="8" height="481.00" fill="url(#g189)"/>
<rect x="537" y="644.30" width="8" height="481.00" fill="url(#g190)"/>
<rect x="545" y="644.30" width="8" height="481.00" fill="url(#g191)"/>
<rect x="553" y="644.30" width="7" height="481.00" fill="url(#g192)"/>
<rect x="560" y="644.30" width="8" height="481.00" fill="url(#g193)"/>
<rect x="568" y="644.30" width="8" height="481.00" fill="url(#g194)"/>
<rect x="576" y="644.30" width="8" height="481.00" fill="url(#g195)"/>
<rect x="584" y="644.30" width="8" height="481.00" fill="url(#g196)"/>
<rect x="592" y="644.30" width="7" height="481.00" fill="url(#g197)"/>
<rect x="599" y="644.30" width="8" height="481.00" fill="url(#g198)"/>
<rect x="607" y="644.30" width="8" height="481.00" fill="url(#g199)"/>
<rect x="615" y="644.30" width="8" height="481.00" fill="url(#g200)"/>
<rect x="623" y="644.30" width="8" height="481.00" fill="url(#g201)"/>
<rect x="631" y="644.30" width="8" height="481.00" fill="url(#g202)"/>
<g clip-path="url(#clip203)" fill="none" stroke-linejoin="round">
<path d="M133.8 644.3L134.1 680.3M134.5 726.3L134.8 764.5L135.4 824.7L136.0 884.8L136.6 944.9L136.7 958.5M137.2 1004.5L137.2 1005.0L137.8 1065.2L138.4 1125.3M143.3 644.3L143.6 680.3M143.9 726.3L144.2 764.5L144.7 824.7L145.3 884.8L145.9 944.9L146.0 958.5M146.5 1004.5L146.6 1005.0L147.3 1065.2L148.0 1125.3M152.9 644.3L153.3 680.3M153.9 726.3L154.4 764.5L155.1 824.7L155.9 884.8L156.7 944.9L156.9 958.5M157.6 1004.5L157.6 1005.0L158.4 1065.2L159.3 1125.3M164.2 644.3L164.8 680.3M165.6 726.3L166.3 764.5L167.3 824.7L168.2 884.8L169.1 944.9L169.3 958.5M170.0 1004.5L170.0 1005.0L170.8 1065.2L171.5 1125.3M177.9 644.3L178.5 680.3M179.4 726.3L180.0 764.5L181.1 824.7L182.2 884.8L183.2 944.9L183.4 958.5M184.2 1004.5L184.2 1005.0L185.2 1065.2L186.2 1125.3M193.9 644.3L194.7 680.3M195.7 726.3L196.5 764.5L197.8 824.7L199.1 884.8L200.5 944.9L200.8 958.5M201.8 1004.5L201.8 1005.0L203.2 1065.2L204.5 1125.3M214.3 644.3L215.2 680.3M216.4 726.3L217.4 764.5L219.0 824.7L220.5 884.8L222.0 944.9L222.3 958.5M223.4 1004.5L223.4 1005.0L224.8 1065.2L226.2 1125.3M238.9 644.3L239.8 680.3M241.1 726.3L242.2 764.5L244.0 824.7L245.9 884.8L247.8 944.9L248.3 958.5M249.8 1004.5L249.8 1005.0L251.9 1065.2L254.1 1125.3M272.6 644.3L274.0 680.3M275.8 726.3L277.4 764.5L279.7 824.7L282.1 884.8L284.4 944.9L285.0 958.5M286.8 1004.5L286.8 1005.0L289.1 1065.2L291.4 1125.3M319.4 644.3L321.3 679.9M323.7 725.9L325.7 764.5L328.8 824.7L331.7 884.8L334.6 944.9L335.2 958.0M337.3 1004.0L337.4 1005.0L340.1 1065.2L342.7 1125.3M385.7 644.3L388.3 679.9M391.7 725.9L394.4 764.5L398.6 824.7L402.6 884.8L406.5 944.9L407.3 958.0M410.2 1004.0L410.3 1005.0L413.9 1065.2L417.4 1125.3M482.1 644.3L485.9 680.0M489.6 715.0L494.6 764.5L500.3 824.7L505.7 884.8L510.7 944.9L511.6 957.4M514.3 992.4L515.3 1005.0L519.6 1065.2L523.5 1125.3M615.2 644.3L617.1 656.9L617.1 657.0M621.7 681.0L625.0 706.2L627.7 719.5L633.0 770.0L638.5 821.3L650.0 930.0L665.0 1125.3" stroke="#fff" stroke-opacity="0.13" stroke-width="5.50"/>
<path d="M133.8 644.3L134.1 680.3M134.5 726.3L134.8 764.5L135.4 824.7L136.0 884.8L136.6 944.9L136.7 958.5M137.2 1004.5L137.2 1005.0L137.8 1065.2L138.4 1125.3M143.3 644.3L143.6 680.3M143.9 726.3L144.2 764.5L144.7 824.7L145.3 884.8L145.9 944.9L146.0 958.5M146.5 1004.5L146.6 1005.0L147.3 1065.2L148.0 1125.3M152.9 644.3L153.3 680.3M153.9 726.3L154.4 764.5L155.1 824.7L155.9 884.8L156.7 944.9L156.9 958.5M157.6 1004.5L157.6 1005.0L158.4 1065.2L159.3 1125.3M164.2 644.3L164.8 680.3M165.6 726.3L166.3 764.5L167.3 824.7L168.2 884.8L169.1 944.9L169.3 958.5M170.0 1004.5L170.0 1005.0L170.8 1065.2L171.5 1125.3M177.9 644.3L178.5 680.3M179.4 726.3L180.0 764.5L181.1 824.7L182.2 884.8L183.2 944.9L183.4 958.5M184.2 1004.5L184.2 1005.0L185.2 1065.2L186.2 1125.3M193.9 644.3L194.7 680.3M195.7 726.3L196.5 764.5L197.8 824.7L199.1 884.8L200.5 944.9L200.8 958.5M201.8 1004.5L201.8 1005.0L203.2 1065.2L204.5 1125.3M214.3 644.3L215.2 680.3M216.4 726.3L217.4 764.5L219.0 824.7L220.5 884.8L222.0 944.9L222.3 958.5M223.4 1004.5L223.4 1005.0L224.8 1065.2L226.2 1125.3M238.9 644.3L239.8 680.3M241.1 726.3L242.2 764.5L244.0 824.7L245.9 884.8L247.8 944.9L248.3 958.5M249.8 1004.5L249.8 1005.0L251.9 1065.2L254.1 1125.3M272.6 644.3L274.0 680.3M275.8 726.3L277.4 764.5L279.7 824.7L282.1 884.8L284.4 944.9L285.0 958.5M286.8 1004.5L286.8 1005.0L289.1 1065.2L291.4 1125.3M319.4 644.3L321.3 679.9M323.7 725.9L325.7 764.5L328.8 824.7L331.7 884.8L334.6 944.9L335.2 958.0M337.3 1004.0L337.4 1005.0L340.1 1065.2L342.7 1125.3M385.7 644.3L388.3 679.9M391.7 725.9L394.4 764.5L398.6 824.7L402.6 884.8L406.5 944.9L407.3 958.0M410.2 1004.0L410.3 1005.0L413.9 1065.2L417.4 1125.3M482.1 644.3L485.9 680.0M489.6 715.0L494.6 764.5L500.3 824.7L505.7 884.8L510.7 944.9L511.6 957.4M514.3 992.4L515.3 1005.0L519.6 1065.2L523.5 1125.3M615.2 644.3L617.1 656.9L617.1 657.0M621.7 681.0L625.0 706.2L627.7 719.5L633.0 770.0L638.5 821.3L650.0 930.0L665.0 1125.3" stroke="#000" stroke-width="2.00"/>
</g>
<text x="134.29" y="703.30" transform="rotate(89.48 134.29 703.30)" font-size="23.0" text-anchor="middle" dominant-baseline="central" stroke="#000" stroke-width="0.45">-60</text>
<text x="143.73" y="703.30" transform="rotate(89.57 143.73 703.30)" font-size="23.0" text-anchor="middle" dominant-baseline="central" stroke="#000" stroke-width="0.45">-55</text>
<text x="153.61" y="703.30" transform="rotate(89.30 153.61 703.30)" font-size="23.0" text-anchor="middle" dominant-baseline="central" stroke="#000" stroke-width="0.45">-50</text>
<text x="165.25" y="703.30" transform="rotate(88.99 165.25 703.30)" font-size="23.0" text-anchor="middle" dominant-baseline="central" stroke="#000" stroke-width="0.45">-45</text>
<text x="178.94" y="703.30" transform="rotate(88.96 178.94 703.30)" font-size="23.0" text-anchor="middle" dominant-baseline="central" stroke="#000" stroke-width="0.45">-40</text>
<text x="195.15" y="703.30" transform="rotate(88.76 195.15 703.30)" font-size="23.0" text-anchor="middle" dominant-baseline="central" stroke="#000" stroke-width="0.45">-35</text>
<text x="215.84" y="703.30" transform="rotate(88.50 215.84 703.30)" font-size="23.0" text-anchor="middle" dominant-baseline="central" stroke="#000" stroke-width="0.45">-30</text>
<text x="240.47" y="703.30" transform="rotate(88.40 240.47 703.30)" font-size="23.0" text-anchor="middle" dominant-baseline="central" stroke="#000" stroke-width="0.45">-25</text>
<text x="274.92" y="703.30" transform="rotate(87.72 274.92 703.30)" font-size="23.0" text-anchor="middle" dominant-baseline="central" stroke="#000" stroke-width="0.45">-20</text>
<text x="322.52" y="702.90" transform="rotate(86.98 322.52 702.90)" font-size="23.0" text-anchor="middle" dominant-baseline="central" stroke="#000" stroke-width="0.45">-15</text>
<text x="390.04" y="702.90" transform="rotate(85.84 390.04 702.90)" font-size="23.0" text-anchor="middle" dominant-baseline="central" stroke="#000" stroke-width="0.45">-10</text>
<text x="487.75" y="697.50" transform="rotate(83.95 487.75 697.50)" font-size="23.0" text-anchor="middle" dominant-baseline="central" stroke="#000" stroke-width="0.45">-5</text>
<text x="619.44" y="669.00" transform="rotate(79.06 619.44 669.00)" font-size="23.0" text-anchor="middle" dominant-baseline="central" stroke="#000" stroke-width="0.45">0</text>
<text x="136.96" y="981.50" transform="rotate(89.42 136.96 981.50)" font-size="23.0" text-anchor="middle" dominant-baseline="central" stroke="#000" stroke-width="0.45">-60</text>
<text x="146.30" y="981.50" transform="rotate(89.38 146.30 981.50)" font-size="23.0" text-anchor="middle" dominant-baseline="central" stroke="#000" stroke-width="0.45">-55</text>
<text x="157.25" y="981.50" transform="rotate(89.21 157.25 981.50)" font-size="23.0" text-anchor="middle" dominant-baseline="central" stroke="#000" stroke-width="0.45">-50</text>
<text x="169.63" y="981.50" transform="rotate(89.20 169.63 981.50)" font-size="23.0" text-anchor="middle" dominant-baseline="central" stroke="#000" stroke-width="0.45">-45</text>
<text x="183.82" y="981.50" transform="rotate(89.02 183.82 981.50)" font-size="23.0" text-anchor="middle" dominant-baseline="central" stroke="#000" stroke-width="0.45">-40</text>
<text x="201.29" y="981.50" transform="rotate(88.72 201.29 981.50)" font-size="23.0" text-anchor="middle" dominant-baseline="central" stroke="#000" stroke-width="0.45">-35</text>
<text x="222.83" y="981.50" transform="rotate(88.62 222.83 981.50)" font-size="23.0" text-anchor="middle" dominant-baseline="central" stroke="#000" stroke-width="0.45">-30</text>
<text x="249.03" y="981.50" transform="rotate(88.09 249.03 981.50)" font-size="23.0" text-anchor="middle" dominant-baseline="central" stroke="#000" stroke-width="0.45">-25</text>
<text x="285.87" y="981.50" transform="rotate(87.77 285.87 981.50)" font-size="23.0" text-anchor="middle" dominant-baseline="central" stroke="#000" stroke-width="0.45">-20</text>
<text x="336.26" y="981.00" transform="rotate(87.35 336.26 981.00)" font-size="23.0" text-anchor="middle" dominant-baseline="central" stroke="#000" stroke-width="0.45">-15</text>
<text x="408.77" y="981.00" transform="rotate(86.43 408.77 981.00)" font-size="23.0" text-anchor="middle" dominant-baseline="central" stroke="#000" stroke-width="0.45">-10</text>
<text x="512.97" y="974.90" transform="rotate(85.58 512.97 974.90)" font-size="23.0" text-anchor="middle" dominant-baseline="central" stroke="#000" stroke-width="0.45">-5</text>
<text x="81.10" y="693.10" text-anchor="end" dominant-baseline="central" class="tl">100</text>
<text x="81.10" y="789.33" text-anchor="end" dominant-baseline="central" class="tl">200</text>
<text x="81.10" y="885.55" text-anchor="end" dominant-baseline="central" class="tl">300</text>
<text x="81.10" y="981.78" text-anchor="end" dominant-baseline="central" class="tl">400</text>
<text x="81.10" y="1078.00" text-anchor="end" dominant-baseline="central" class="tl">500</text>
<text x="91.40" y="1165.80" text-anchor="middle" class="tl">0</text>
<text x="247.70" y="1165.80" text-anchor="middle" class="tl">10</text>
<text x="404.00" y="1165.80" text-anchor="middle" class="tl">20</text>
<text x="560.30" y="1165.80" text-anchor="middle" class="tl">30</text>
<text x="365.00" y="1202.30" text-anchor="middle" class="tl">Range(km)</text>
<text x="22.90" y="884.80" transform="rotate(-90 22.90 884.80)" text-anchor="middle" class="tl">Depth(m)</text>
<rect x="654.50" y="644.50" width="30.30" height="479.90" fill="url(#cb204)" stroke="#3a3a3a" stroke-width="1.2"/>
<path d="M684.80 658.31h-4.5" stroke="#262626" stroke-width="1.4"/>
<text x="693.80" y="659.51" dominant-baseline="central" class="tl">0</text>
<path d="M684.80 713.53h-4.5" stroke="#262626" stroke-width="1.4"/>
<text x="693.80" y="714.73" dominant-baseline="central" class="tl">-10</text>
<path d="M684.80 768.75h-4.5" stroke="#262626" stroke-width="1.4"/>
<text x="693.80" y="769.95" dominant-baseline="central" class="tl">-20</text>
<path d="M684.80 823.98h-4.5" stroke="#262626" stroke-width="1.4"/>
<text x="693.80" y="825.18" dominant-baseline="central" class="tl">-30</text>
<path d="M684.80 879.20h-4.5" stroke="#262626" stroke-width="1.4"/>
<text x="693.80" y="880.40" dominant-baseline="central" class="tl">-40</text>
<path d="M684.80 934.43h-4.5" stroke="#262626" stroke-width="1.4"/>
<text x="693.80" y="935.63" dominant-baseline="central" class="tl">-50</text>
<path d="M684.80 989.65h-4.5" stroke="#262626" stroke-width="1.4"/>
<text x="693.80" y="990.85" dominant-baseline="central" class="tl">-60</text>
<path d="M684.80 1044.88h-4.5" stroke="#262626" stroke-width="1.4"/>
<text x="693.80" y="1046.08" dominant-baseline="central" class="tl">-70</text>
<path d="M684.80 1100.10h-4.5" stroke="#262626" stroke-width="1.4"/>
<text x="693.80" y="1101.30" dominant-baseline="central" class="tl">-80</text>
<text x="2.00" y="638.20" class="pl">C</text>
<path d="M905.40 644.80V1124.30H914.80 M905.40 644.80H914.80" fill="none" stroke="#5e5e5e" stroke-width="1.6"/>
<path d="M905.40 692.50h5" stroke="#5e5e5e" stroke-width="1.6"/>
<path d="M905.40 788.73h5" stroke="#5e5e5e" stroke-width="1.6"/>
<path d="M905.40 884.95h5" stroke="#5e5e5e" stroke-width="1.6"/>
<path d="M905.40 981.18h5" stroke="#5e5e5e" stroke-width="1.6"/>
<path d="M905.40 1077.40h5" stroke="#5e5e5e" stroke-width="1.6"/>
<rect x="914" y="644.30" width="9" height="481.00" fill="#f4f020"/>
<rect x="923" y="644.30" width="8" height="481.00" fill="#f4ed22"/>
<rect x="931" y="644.30" width="9" height="481.00" fill="url(#g205)"/>
<rect x="940" y="644.30" width="9" height="481.00" fill="url(#g206)"/>
<rect x="949" y="644.30" width="9" height="481.00" fill="url(#g207)"/>
<rect x="958" y="644.30" width="8" height="481.00" fill="url(#g208)"/>
<rect x="966" y="644.30" width="9" height="481.00" fill="url(#g209)"/>
<rect x="975" y="644.30" width="9" height="481.00" fill="url(#g210)"/>
<rect x="984" y="644.30" width="9" height="481.00" fill="url(#g211)"/>
<rect x="993" y="644.30" width="8" height="481.00" fill="url(#g212)"/>
<rect x="1001" y="644.30" width="9" height="481.00" fill="url(#g213)"/>
<rect x="1010" y="644.30" width="9" height="481.00" fill="url(#g214)"/>
<rect x="1019" y="644.30" width="9" height="481.00" fill="url(#g215)"/>
<rect x="1028" y="644.30" width="8" height="481.00" fill="url(#g216)"/>
<rect x="1036" y="644.30" width="9" height="481.00" fill="url(#g217)"/>
<rect x="1045" y="644.30" width="9" height="481.00" fill="url(#g218)"/>
<rect x="1054" y="644.30" width="9" height="481.00" fill="url(#g219)"/>
<rect x="1063" y="644.30" width="9" height="481.00" fill="url(#g220)"/>
<rect x="1072" y="644.30" width="8" height="481.00" fill="url(#g221)"/>
<rect x="1080" y="644.30" width="9" height="481.00" fill="url(#g222)"/>
<rect x="1089" y="644.30" width="9" height="481.00" fill="url(#g223)"/>
<rect x="1098" y="644.30" width="9" height="481.00" fill="url(#g224)"/>
<rect x="1107" y="644.30" width="8" height="481.00" fill="url(#g225)"/>
<rect x="1115" y="644.30" width="9" height="481.00" fill="url(#g226)"/>
<rect x="1124" y="644.30" width="9" height="481.00" fill="url(#g227)"/>
<rect x="1133" y="644.30" width="9" height="481.00" fill="url(#g228)"/>
<rect x="1142" y="644.30" width="8" height="481.00" fill="url(#g229)"/>
<rect x="1150" y="644.30" width="9" height="481.00" fill="url(#g230)"/>
<rect x="1159" y="644.30" width="9" height="481.00" fill="url(#g231)"/>
<rect x="1168" y="644.30" width="9" height="481.00" fill="url(#g232)"/>
<rect x="1177" y="644.30" width="8" height="481.00" fill="url(#g233)"/>
<rect x="1185" y="644.30" width="9" height="481.00" fill="url(#g234)"/>
<rect x="1194" y="644.30" width="9" height="481.00" fill="url(#g235)"/>
<rect x="1203" y="644.30" width="9" height="481.00" fill="url(#g236)"/>
<rect x="1212" y="644.30" width="8" height="481.00" fill="url(#g237)"/>
<rect x="1220" y="644.30" width="9" height="481.00" fill="url(#g238)"/>
<rect x="1229" y="644.30" width="9" height="481.00" fill="url(#g239)"/>
<rect x="1238" y="644.30" width="9" height="481.00" fill="url(#g240)"/>
<rect x="1247" y="644.30" width="9" height="481.00" fill="url(#g241)"/>
<rect x="1256" y="644.30" width="8" height="481.00" fill="url(#g242)"/>
<rect x="1264" y="644.30" width="9" height="481.00" fill="url(#g243)"/>
<rect x="1273" y="644.30" width="9" height="481.00" fill="url(#g244)"/>
<rect x="1282" y="644.30" width="9" height="481.00" fill="url(#g245)"/>
<rect x="1291" y="644.30" width="8" height="481.00" fill="url(#g246)"/>
<rect x="1299" y="644.30" width="9" height="481.00" fill="url(#g247)"/>
<rect x="1308" y="644.30" width="9" height="481.00" fill="url(#g248)"/>
<rect x="1317" y="644.30" width="9" height="481.00" fill="url(#g249)"/>
<rect x="1326" y="644.30" width="8" height="481.00" fill="url(#g250)"/>
<rect x="1334" y="644.30" width="9" height="481.00" fill="url(#g251)"/>
<rect x="1343" y="644.30" width="9" height="481.00" fill="url(#g252)"/>
<rect x="1352" y="644.30" width="9" height="481.00" fill="url(#g253)"/>
<rect x="1361" y="644.30" width="8" height="481.00" fill="url(#g254)"/>
<rect x="1369" y="644.30" width="9" height="481.00" fill="url(#g255)"/>
<rect x="1378" y="644.30" width="9" height="481.00" fill="url(#g256)"/>
<rect x="1387" y="644.30" width="9" height="481.00" fill="url(#g257)"/>
<rect x="1396" y="644.30" width="8" height="481.00" fill="url(#g258)"/>
<rect x="1404" y="644.30" width="9" height="481.00" fill="url(#g259)"/>
<rect x="1413" y="644.30" width="9" height="481.00" fill="url(#g260)"/>
<rect x="1422" y="644.30" width="9" height="481.00" fill="url(#g261)"/>
<rect x="1431" y="644.30" width="9" height="481.00" fill="url(#g262)"/>
<rect x="1440" y="644.30" width="8" height="481.00" fill="url(#g263)"/>
<rect x="1448" y="644.30" width="9" height="481.00" fill="url(#g264)"/>
<rect x="1457" y="644.30" width="9" height="481.00" fill="url(#g265)"/>
<g clip-path="url(#clip266)" fill="none" stroke-linejoin="round">
<path d="M956.9 644.3L957.5 704.4L958.1 764.5L958.8 824.7L959.4 884.8L960.1 944.9L960.8 1005.0L961.4 1065.2L962.1 1125.3M967.8 644.3L968.5 704.4L969.2 764.5L969.9 824.7L970.7 884.8L971.4 944.9L972.2 1005.0L973.0 1065.2L973.8 1125.3M979.7 644.3L980.5 704.4L981.4 764.5L982.2 824.7L983.1 884.8L984.0 944.9L985.0 1005.0L986.0 1065.2L987.0 1125.3M994.0 644.3L995.0 704.4L996.0 764.5L997.0 824.7L998.0 884.8L999.1 944.9L1000.1 1005.0L1001.2 1065.2L1002.3 1125.3M1010.3 644.3L1011.7 704.4L1013.0 764.5L1014.2 824.7L1015.5 884.8L1016.7 944.9L1018.0 1005.0L1019.1 1065.2L1020.3 1125.3M1029.8 644.3L1031.4 704.4L1033.0 764.5L1034.6 824.7L1036.1 884.8L1037.6 944.9L1039.0 1005.0L1040.4 1065.2L1041.8 1125.3M1054.4 644.3L1056.4 704.4L1058.3 764.5L1060.1 824.7L1061.9 884.8L1063.7 944.9L1065.4 1005.0L1067.0 1065.2L1068.6 1125.3M1085.5 644.3L1087.8 704.4L1090.1 764.5L1092.3 824.7L1094.6 884.8L1096.7 944.9L1098.9 1005.0L1101.0 1065.2L1103.1 1125.3M1127.5 644.3L1130.4 704.4L1133.3 764.5L1136.0 824.7L1138.7 884.8L1141.3 944.9L1143.9 1005.0L1146.3 1065.2L1148.7 1125.3M1187.1 644.3L1190.9 704.4L1194.5 764.5L1198.0 824.7L1201.4 884.8L1204.7 944.9L1207.8 1005.0L1210.8 1065.2L1213.7 1125.3M1276.1 644.3L1281.5 704.4L1286.6 764.5L1291.5 824.7L1296.0 884.8L1300.3 944.9L1304.2 1005.0L1307.9 1065.2L1311.3 1125.3M1439.8 644.3L1445.2 668.0L1451.6 726.0L1457.0 790.5L1466.7 873.3L1480.0 990.0L1495.0 1125.3" stroke="#fff" stroke-opacity="0.13" stroke-width="5.50"/>
<path d="M956.9 644.3L957.5 704.4L958.1 764.5L958.8 824.7L959.4 884.8L960.1 944.9L960.8 1005.0L961.4 1065.2L962.1 1125.3M967.8 644.3L968.5 704.4L969.2 764.5L969.9 824.7L970.7 884.8L971.4 944.9L972.2 1005.0L973.0 1065.2L973.8 1125.3M979.7 644.3L980.5 704.4L981.4 764.5L982.2 824.7L983.1 884.8L984.0 944.9L985.0 1005.0L986.0 1065.2L987.0 1125.3M994.0 644.3L995.0 704.4L996.0 764.5L997.0 824.7L998.0 884.8L999.1 944.9L1000.1 1005.0L1001.2 1065.2L1002.3 1125.3M1010.3 644.3L1011.7 704.4L1013.0 764.5L1014.2 824.7L1015.5 884.8L1016.7 944.9L1018.0 1005.0L1019.1 1065.2L1020.3 1125.3M1029.8 644.3L1031.4 704.4L1033.0 764.5L1034.6 824.7L1036.1 884.8L1037.6 944.9L1039.0 1005.0L1040.4 1065.2L1041.8 1125.3M1054.4 644.3L1056.4 704.4L1058.3 764.5L1060.1 824.7L1061.9 884.8L1063.7 944.9L1065.4 1005.0L1067.0 1065.2L1068.6 1125.3M1085.5 644.3L1087.8 704.4L1090.1 764.5L1092.3 824.7L1094.6 884.8L1096.7 944.9L1098.9 1005.0L1101.0 1065.2L1103.1 1125.3M1127.5 644.3L1130.4 704.4L1133.3 764.5L1136.0 824.7L1138.7 884.8L1141.3 944.9L1143.9 1005.0L1146.3 1065.2L1148.7 1125.3M1187.1 644.3L1190.9 704.4L1194.5 764.5L1198.0 824.7L1201.4 884.8L1204.7 944.9L1207.8 1005.0L1210.8 1065.2L1213.7 1125.3M1276.1 644.3L1281.5 704.4L1286.6 764.5L1291.5 824.7L1296.0 884.8L1300.3 944.9L1304.2 1005.0L1307.9 1065.2L1311.3 1125.3M1439.8 644.3L1445.2 668.0L1451.6 726.0L1457.0 790.5L1466.7 873.3L1480.0 990.0L1495.0 1125.3" stroke="#000" stroke-width="2.00"/>
</g>
<text x="958.43" y="792.00" transform="rotate(89.40 958.43 792.00)" font-size="22.0" text-anchor="middle" dominant-baseline="central" stroke="#000" stroke-width="0.45">60</text>
<text x="969.55" y="792.00" transform="rotate(89.32 969.55 792.00)" font-size="22.0" text-anchor="middle" dominant-baseline="central" stroke="#000" stroke-width="0.45">55</text>
<text x="981.76" y="792.00" transform="rotate(89.18 981.76 792.00)" font-size="22.0" text-anchor="middle" dominant-baseline="central" stroke="#000" stroke-width="0.45">50</text>
<text x="996.42" y="792.00" transform="rotate(89.03 996.42 792.00)" font-size="22.0" text-anchor="middle" dominant-baseline="central" stroke="#000" stroke-width="0.45">45</text>
<text x="1013.55" y="792.00" transform="rotate(88.78 1013.55 792.00)" font-size="22.0" text-anchor="middle" dominant-baseline="central" stroke="#000" stroke-width="0.45">40</text>
<text x="1033.75" y="792.00" transform="rotate(88.50 1033.75 792.00)" font-size="22.0" text-anchor="middle" dominant-baseline="central" stroke="#000" stroke-width="0.45">35</text>
<text x="1059.12" y="792.00" transform="rotate(88.23 1059.12 792.00)" font-size="22.0" text-anchor="middle" dominant-baseline="central" stroke="#000" stroke-width="0.45">30</text>
<text x="1091.12" y="792.00" transform="rotate(87.85 1091.12 792.00)" font-size="22.0" text-anchor="middle" dominant-baseline="central" stroke="#000" stroke-width="0.45">25</text>
<text x="1134.57" y="793.00" transform="rotate(87.36 1134.57 793.00)" font-size="22.0" text-anchor="middle" dominant-baseline="central" stroke="#000" stroke-width="0.45">20</text>
<text x="1196.17" y="793.00" transform="rotate(86.66 1196.17 793.00)" font-size="22.0" text-anchor="middle" dominant-baseline="central" stroke="#000" stroke-width="0.45">15</text>
<text x="1288.90" y="793.00" transform="rotate(85.40 1288.90 793.00)" font-size="22.0" text-anchor="middle" dominant-baseline="central" stroke="#000" stroke-width="0.45">10</text>
<text x="1457.97" y="798.80" transform="rotate(83.48 1457.97 798.80)" font-size="22.0" text-anchor="middle" dominant-baseline="central" stroke="#000" stroke-width="0.45">5</text>
<text x="961.51" y="1071.00" transform="rotate(89.33 961.51 1071.00)" font-size="22.0" text-anchor="middle" dominant-baseline="central" stroke="#000" stroke-width="0.45">60</text>
<text x="973.08" y="1071.00" transform="rotate(89.23 973.08 1071.00)" font-size="22.0" text-anchor="middle" dominant-baseline="central" stroke="#000" stroke-width="0.45">55</text>
<text x="986.08" y="1071.00" transform="rotate(89.03 986.08 1071.00)" font-size="22.0" text-anchor="middle" dominant-baseline="central" stroke="#000" stroke-width="0.45">50</text>
<text x="1001.30" y="1071.00" transform="rotate(88.96 1001.30 1071.00)" font-size="22.0" text-anchor="middle" dominant-baseline="central" stroke="#000" stroke-width="0.45">45</text>
<text x="1019.26" y="1071.00" transform="rotate(88.88 1019.26 1071.00)" font-size="22.0" text-anchor="middle" dominant-baseline="central" stroke="#000" stroke-width="0.45">40</text>
<text x="1040.57" y="1071.00" transform="rotate(88.70 1040.57 1071.00)" font-size="22.0" text-anchor="middle" dominant-baseline="central" stroke="#000" stroke-width="0.45">35</text>
<text x="1067.14" y="1071.00" transform="rotate(88.50 1067.14 1071.00)" font-size="22.0" text-anchor="middle" dominant-baseline="central" stroke="#000" stroke-width="0.45">30</text>
<text x="1101.20" y="1071.00" transform="rotate(88.02 1101.20 1071.00)" font-size="22.0" text-anchor="middle" dominant-baseline="central" stroke="#000" stroke-width="0.45">25</text>
<text x="1146.55" y="1071.00" transform="rotate(87.72 1146.55 1071.00)" font-size="22.0" text-anchor="middle" dominant-baseline="central" stroke="#000" stroke-width="0.45">20</text>
<text x="1211.11" y="1071.00" transform="rotate(87.21 1211.11 1071.00)" font-size="22.0" text-anchor="middle" dominant-baseline="central" stroke="#000" stroke-width="0.45">15</text>
<text x="1308.22" y="1071.00" transform="rotate(86.72 1308.22 1071.00)" font-size="22.0" text-anchor="middle" dominant-baseline="central" stroke="#000" stroke-width="0.45">10</text>
<text x="895.10" y="693.10" text-anchor="end" dominant-baseline="central" class="tl">100</text>
<text x="895.10" y="789.33" text-anchor="end" dominant-baseline="central" class="tl">200</text>
<text x="895.10" y="885.55" text-anchor="end" dominant-baseline="central" class="tl">300</text>
<text x="895.10" y="981.78" text-anchor="end" dominant-baseline="central" class="tl">400</text>
<text x="895.10" y="1078.00" text-anchor="end" dominant-baseline="central" class="tl">500</text>
<text x="905.40" y="1165.80" text-anchor="middle" class="tl">0</text>
<text x="1080.50" y="1165.80" text-anchor="middle" class="tl">10</text>
<text x="1255.60" y="1165.80" text-anchor="middle" class="tl">20</text>
<text x="1430.70" y="1165.80" text-anchor="middle" class="tl">30</text>
<text x="1185.60" y="1202.30" text-anchor="middle" class="tl">Range(km)</text>
<text x="836.90" y="884.80" transform="rotate(-90 836.90 884.80)" text-anchor="middle" class="tl">Depth(m)</text>
<rect x="1482.00" y="644.50" width="30.50" height="479.90" fill="url(#cb267)" stroke="#3a3a3a" stroke-width="1.2"/>
<path d="M1512.50 666.81h-4.5" stroke="#262626" stroke-width="1.4"/>
<text x="1521.50" y="668.01" dominant-baseline="central" class="tl">80</text>
<path d="M1512.50 757.87h-4.5" stroke="#262626" stroke-width="1.4"/>
<text x="1521.50" y="759.07" dominant-baseline="central" class="tl">60</text>
<path d="M1512.50 848.94h-4.5" stroke="#262626" stroke-width="1.4"/>
<text x="1521.50" y="850.14" dominant-baseline="central" class="tl">40</text>
<path d="M1512.50 940.00h-4.5" stroke="#262626" stroke-width="1.4"/>
<text x="1521.50" y="941.20" dominant-baseline="central" class="tl">20</text>
<path d="M1512.50 1031.06h-4.5" stroke="#262626" stroke-width="1.4"/>
<text x="1521.50" y="1032.26" dominant-baseline="central" class="tl">0</text>
<path d="M1512.50 1122.12h-4.5" stroke="#262626" stroke-width="1.4"/>
<text x="1521.50" y="1123.32" dominant-baseline="central" class="tl">-20</text>
<text x="811.00" y="638.40" class="pl">D</text>
</svg>
</body></html>
